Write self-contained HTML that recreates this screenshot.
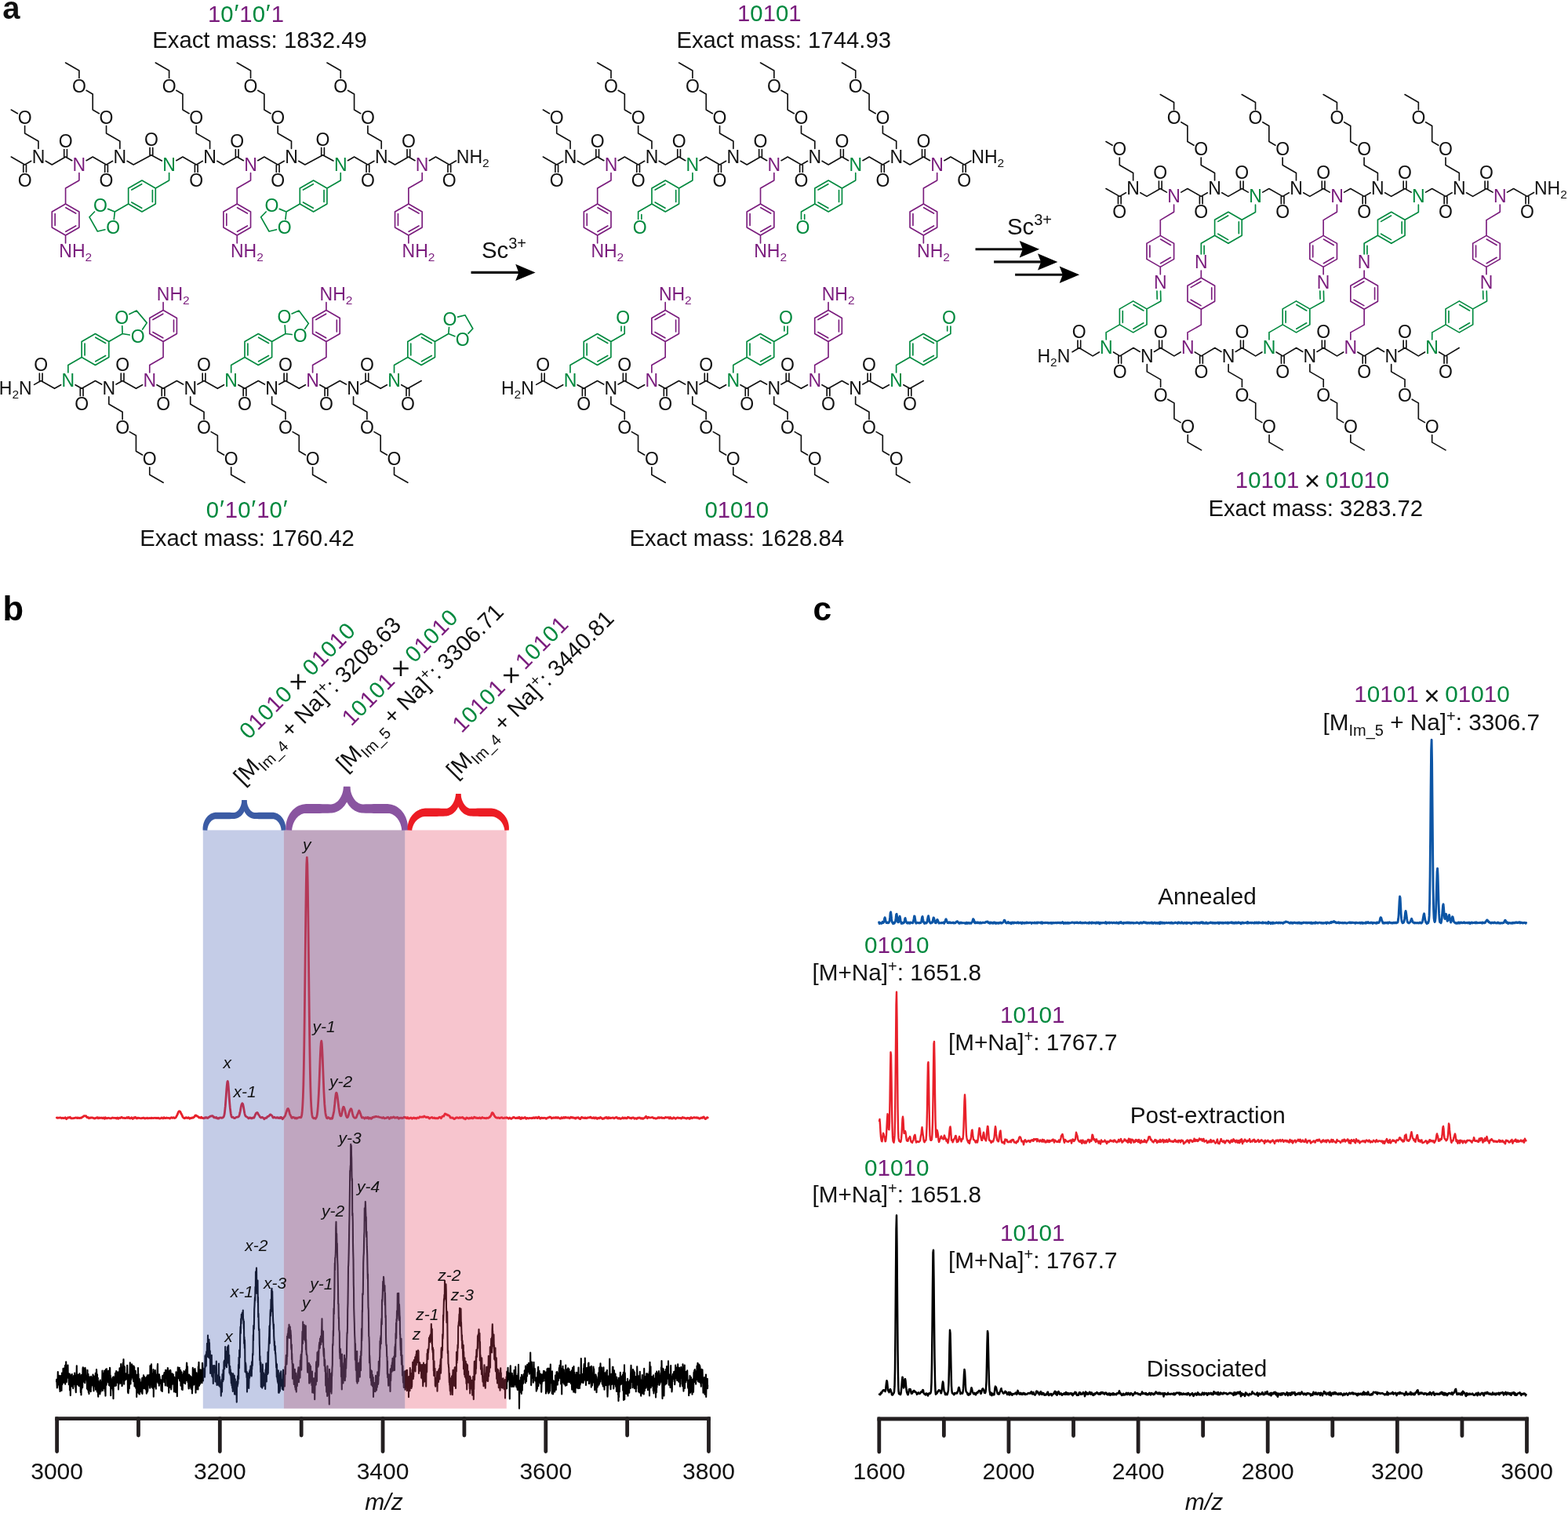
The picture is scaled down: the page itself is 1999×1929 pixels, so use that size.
<!DOCTYPE html>
<html><head><meta charset="utf-8"><title>Figure</title>
<style>
html,body{margin:0;padding:0;background:#fff;}
svg{display:block;}
text{font-family:"Liberation Sans",Arial,Helvetica,sans-serif;}
</style></head>
<body>
<svg width="1999" height="1929" viewBox="0 0 1999 1929">
<rect width="1999" height="1929" fill="#fff"/>
<g id="panel-a" fill="#111">
<path d="M14.30 200.00L31.62 210.00M31.62 210.00L39.76 205.30M58.12 205.30L66.26 210.00M66.26 210.00L83.58 200.00M83.58 200.00L91.72 204.70M110.08 204.70L118.22 200.00M118.22 200.00L135.54 210.00M135.54 210.00L143.68 205.30M162.04 205.30L170.18 210.00M170.18 210.00L192.90 197.80M192.90 197.80L206.28 204.99M224.80 204.70L232.94 200.00M232.94 200.00L250.26 210.00M250.26 210.00L258.40 205.30M276.76 205.30L284.90 210.00M284.90 210.00L302.22 200.00M302.22 200.00L310.36 204.70M328.72 204.70L336.86 200.00M336.86 200.00L354.18 210.00M354.18 210.00L362.32 205.30M380.68 205.30L388.82 210.00M388.82 210.00L411.54 197.80M411.54 197.80L424.92 204.99M443.44 204.70L451.58 200.00M451.58 200.00L468.90 210.00M468.90 210.00L477.04 205.30M495.40 205.30L503.54 210.00M503.54 210.00L520.86 200.00M520.86 200.00L529.00 204.70M547.36 204.70L555.50 200.00M555.50 200.00L572.82 210.00M572.82 210.00L581.48 205.00M29.77 210.00L29.77 219.40M33.47 210.00L33.47 219.40M85.43 200.00L85.43 190.60M81.73 200.00L81.73 190.60M133.69 210.00L133.69 219.40M137.39 210.00L137.39 219.40M194.75 197.80L194.75 188.40M191.05 197.80L191.05 188.40M248.41 210.00L248.41 219.40M252.11 210.00L252.11 219.40M304.07 200.00L304.07 190.60M300.37 200.00L300.37 190.60M352.33 210.00L352.33 219.40M356.03 210.00L356.03 219.40M413.39 197.80L413.39 188.40M409.69 197.80L409.69 188.40M467.05 210.00L467.05 219.40M470.75 210.00L470.75 219.40M522.71 200.00L522.71 190.60M519.01 200.00L519.01 190.60M570.97 210.00L570.97 219.40M574.67 210.00L574.67 219.40M48.94 189.40L48.94 180.00M48.94 180.00L31.62 170.00M31.62 170.00L31.62 160.60M22.44 144.70L14.30 140.00M152.86 189.40L152.86 180.00M152.86 180.00L135.54 170.00M135.54 170.00L135.54 160.60M126.36 144.70L118.22 140.00M118.22 140.00L118.22 120.00M118.22 120.00L110.08 115.30M100.90 99.40L100.90 90.00M100.90 90.00L83.58 80.00M267.58 189.40L267.58 180.00M267.58 180.00L250.26 170.00M250.26 170.00L250.26 160.60M241.08 144.70L232.94 140.00M232.94 140.00L232.94 120.00M232.94 120.00L224.80 115.30M215.62 99.40L215.62 90.00M215.62 90.00L198.30 80.00M371.50 189.40L371.50 180.00M371.50 180.00L354.18 170.00M354.18 170.00L354.18 160.60M345.00 144.70L336.86 140.00M336.86 140.00L336.86 120.00M336.86 120.00L328.72 115.30M319.54 99.40L319.54 90.00M319.54 90.00L302.22 80.00M486.22 189.40L486.22 180.00M486.22 180.00L468.90 170.00M468.90 170.00L468.90 160.60M459.72 144.70L451.58 140.00M451.58 140.00L451.58 120.00M451.58 120.00L443.44 115.30M434.26 99.40L434.26 90.00M434.26 90.00L416.94 80.00M692.40 200.00L709.72 210.00M709.72 210.00L717.86 205.30M736.22 205.30L744.36 210.00M744.36 210.00L761.68 200.00M761.68 200.00L769.82 204.70M788.18 204.70L796.32 200.00M796.32 200.00L813.64 210.00M813.64 210.00L821.78 205.30M840.14 205.30L848.28 210.00M848.28 210.00L865.60 200.00M865.60 200.00L873.74 204.70M892.10 204.70L900.24 200.00M900.24 200.00L917.56 210.00M917.56 210.00L925.70 205.30M944.06 205.30L952.20 210.00M952.20 210.00L969.52 200.00M969.52 200.00L977.66 204.70M996.02 204.70L1004.16 200.00M1004.16 200.00L1021.48 210.00M1021.48 210.00L1029.62 205.30M1047.98 205.30L1056.12 210.00M1056.12 210.00L1073.44 200.00M1073.44 200.00L1081.58 204.70M1099.94 204.70L1108.08 200.00M1108.08 200.00L1125.40 210.00M1125.40 210.00L1133.54 205.30M1151.90 205.30L1160.04 210.00M1160.04 210.00L1177.36 200.00M1177.36 200.00L1185.50 204.70M1203.86 204.70L1212.00 200.00M1212.00 200.00L1229.32 210.00M1229.32 210.00L1237.98 205.00M707.87 210.00L707.87 219.40M711.57 210.00L711.57 219.40M763.53 200.00L763.53 190.60M759.83 200.00L759.83 190.60M811.79 210.00L811.79 219.40M815.49 210.00L815.49 219.40M867.45 200.00L867.45 190.60M863.75 200.00L863.75 190.60M915.71 210.00L915.71 219.40M919.41 210.00L919.41 219.40M971.37 200.00L971.37 190.60M967.67 200.00L967.67 190.60M1019.63 210.00L1019.63 219.40M1023.33 210.00L1023.33 219.40M1075.29 200.00L1075.29 190.60M1071.59 200.00L1071.59 190.60M1123.55 210.00L1123.55 219.40M1127.25 210.00L1127.25 219.40M1179.21 200.00L1179.21 190.60M1175.51 200.00L1175.51 190.60M1227.47 210.00L1227.47 219.40M1231.17 210.00L1231.17 219.40M727.04 189.40L727.04 180.00M727.04 180.00L709.72 170.00M709.72 170.00L709.72 160.60M700.54 144.70L692.40 140.00M830.96 189.40L830.96 180.00M830.96 180.00L813.64 170.00M813.64 170.00L813.64 160.60M804.46 144.70L796.32 140.00M796.32 140.00L796.32 120.00M796.32 120.00L788.18 115.30M779.00 99.40L779.00 90.00M779.00 90.00L761.68 80.00M934.88 189.40L934.88 180.00M934.88 180.00L917.56 170.00M917.56 170.00L917.56 160.60M908.38 144.70L900.24 140.00M900.24 140.00L900.24 120.00M900.24 120.00L892.10 115.30M882.92 99.40L882.92 90.00M882.92 90.00L865.60 80.00M1038.80 189.40L1038.80 180.00M1038.80 180.00L1021.48 170.00M1021.48 170.00L1021.48 160.60M1012.30 144.70L1004.16 140.00M1004.16 140.00L1004.16 120.00M1004.16 120.00L996.02 115.30M986.84 99.40L986.84 90.00M986.84 90.00L969.52 80.00M1142.72 189.40L1142.72 180.00M1142.72 180.00L1125.40 170.00M1125.40 170.00L1125.40 160.60M1116.22 144.70L1108.08 140.00M1108.08 140.00L1108.08 120.00M1108.08 120.00L1099.94 115.30M1090.76 99.40L1090.76 90.00M1090.76 90.00L1073.44 80.00M43.58 490.38L52.20 485.50M52.20 485.50L69.52 495.30M69.52 495.30L77.61 490.72M96.07 490.72L104.16 495.30M104.16 495.30L121.48 485.50M121.48 485.50L129.57 490.08M148.03 490.08L156.12 485.50M156.12 485.50L173.44 495.30M173.44 495.30L181.53 490.72M199.99 490.72L208.08 495.30M208.08 495.30L225.40 485.50M225.40 485.50L233.49 490.08M251.95 490.08L260.04 485.50M260.04 485.50L277.36 495.30M277.36 495.30L285.45 490.72M303.91 490.72L312.00 495.30M312.00 495.30L329.32 485.50M329.32 485.50L337.41 490.08M355.87 490.08L363.96 485.50M363.96 485.50L381.28 495.30M381.28 495.30L389.37 490.72M407.83 490.72L415.92 495.30M415.92 495.30L433.24 485.50M433.24 485.50L441.33 490.08M459.79 490.08L467.88 485.50M467.88 485.50L485.20 495.30M485.20 495.30L493.29 490.72M511.75 490.72L519.84 495.30M519.84 495.30L537.16 485.50M54.05 485.50L54.05 476.10M50.35 485.50L50.35 476.10M102.31 495.30L102.31 504.70M106.01 495.30L106.01 504.70M157.97 485.50L157.97 476.10M154.27 485.50L154.27 476.10M206.23 495.30L206.23 504.70M209.93 495.30L209.93 504.70M261.89 485.50L261.89 476.10M258.19 485.50L258.19 476.10M310.15 495.30L310.15 504.70M313.85 495.30L313.85 504.70M365.81 485.50L365.81 476.10M362.11 485.50L362.11 476.10M414.07 495.30L414.07 504.70M417.77 495.30L417.77 504.70M469.73 485.50L469.73 476.10M466.03 485.50L466.03 476.10M517.99 495.30L517.99 504.70M521.69 495.30L521.69 504.70M138.80 505.90L138.80 515.30M138.80 515.30L156.12 525.30M156.12 525.30L156.12 534.70M165.30 550.60L173.44 555.30M173.44 555.30L173.44 575.30M173.44 575.30L181.58 580.00M190.76 595.90L190.76 605.30M190.76 605.30L208.08 615.30M242.72 505.90L242.72 515.30M242.72 515.30L260.04 525.30M260.04 525.30L260.04 534.70M269.22 550.60L277.36 555.30M277.36 555.30L277.36 575.30M277.36 575.30L285.50 580.00M294.68 595.90L294.68 605.30M294.68 605.30L312.00 615.30M346.64 505.90L346.64 515.30M346.64 515.30L363.96 525.30M363.96 525.30L363.96 534.70M373.14 550.60L381.28 555.30M381.28 555.30L381.28 575.30M381.28 575.30L389.42 580.00M398.60 595.90L398.60 605.30M398.60 605.30L415.92 615.30M450.56 505.90L450.56 515.30M450.56 515.30L467.88 525.30M467.88 525.30L467.88 534.70M477.06 550.60L485.20 555.30M485.20 555.30L485.20 575.30M485.20 575.30L493.34 580.00M502.52 595.90L502.52 605.30M502.52 605.30L519.84 615.30M683.68 490.38L692.30 485.50M692.30 485.50L709.62 495.30M709.62 495.30L717.71 490.72M736.17 490.72L744.26 495.30M744.26 495.30L761.58 485.50M761.58 485.50L769.67 490.08M788.13 490.08L796.22 485.50M796.22 485.50L813.54 495.30M813.54 495.30L821.63 490.72M840.09 490.72L848.18 495.30M848.18 495.30L865.50 485.50M865.50 485.50L873.59 490.08M892.05 490.08L900.14 485.50M900.14 485.50L917.46 495.30M917.46 495.30L925.55 490.72M944.01 490.72L952.10 495.30M952.10 495.30L969.42 485.50M969.42 485.50L977.51 490.08M995.97 490.08L1004.06 485.50M1004.06 485.50L1021.38 495.30M1021.38 495.30L1029.47 490.72M1047.93 490.72L1056.02 495.30M1056.02 495.30L1073.34 485.50M1073.34 485.50L1081.43 490.08M1099.89 490.08L1107.98 485.50M1107.98 485.50L1125.30 495.30M1125.30 495.30L1133.39 490.72M1151.85 490.72L1159.94 495.30M1159.94 495.30L1177.26 485.50M694.15 485.50L694.15 476.10M690.45 485.50L690.45 476.10M742.41 495.30L742.41 504.70M746.11 495.30L746.11 504.70M798.07 485.50L798.07 476.10M794.37 485.50L794.37 476.10M846.33 495.30L846.33 504.70M850.03 495.30L850.03 504.70M901.99 485.50L901.99 476.10M898.29 485.50L898.29 476.10M950.25 495.30L950.25 504.70M953.95 495.30L953.95 504.70M1005.91 485.50L1005.91 476.10M1002.21 485.50L1002.21 476.10M1054.17 495.30L1054.17 504.70M1057.87 495.30L1057.87 504.70M1109.83 485.50L1109.83 476.10M1106.13 485.50L1106.13 476.10M1158.09 495.30L1158.09 504.70M1161.79 495.30L1161.79 504.70M778.90 505.90L778.90 515.30M778.90 515.30L796.22 525.30M796.22 525.30L796.22 534.70M805.40 550.60L813.54 555.30M813.54 555.30L813.54 575.30M813.54 575.30L821.68 580.00M830.86 595.90L830.86 605.30M830.86 605.30L848.18 615.30M882.82 505.90L882.82 515.30M882.82 515.30L900.14 525.30M900.14 525.30L900.14 534.70M909.32 550.60L917.46 555.30M917.46 555.30L917.46 575.30M917.46 575.30L925.60 580.00M934.78 595.90L934.78 605.30M934.78 605.30L952.10 615.30M986.74 505.90L986.74 515.30M986.74 515.30L1004.06 525.30M1004.06 525.30L1004.06 534.70M1013.24 550.60L1021.38 555.30M1021.38 555.30L1021.38 575.30M1021.38 575.30L1029.52 580.00M1038.70 595.90L1038.70 605.30M1038.70 605.30L1056.02 615.30M1090.66 505.90L1090.66 515.30M1090.66 515.30L1107.98 525.30M1107.98 525.30L1107.98 534.70M1117.16 550.60L1125.30 555.30M1125.30 555.30L1125.30 575.30M1125.30 575.30L1133.44 580.00M1142.62 595.90L1142.62 605.30M1142.62 605.30L1159.94 615.30M1410.00 240.50L1427.32 250.40M1427.32 250.40L1435.44 245.76M1453.84 245.76L1461.96 250.40M1461.96 250.40L1479.28 240.50M1479.28 240.50L1487.40 245.14M1505.80 245.14L1513.92 240.50M1513.92 240.50L1531.24 250.40M1531.24 250.40L1539.36 245.76M1557.76 245.76L1565.88 250.40M1565.88 250.40L1583.20 240.50M1583.20 240.50L1591.32 245.14M1609.72 245.14L1617.84 240.50M1617.84 240.50L1635.16 250.40M1635.16 250.40L1643.28 245.76M1661.68 245.76L1669.80 250.40M1669.80 250.40L1687.12 240.50M1687.12 240.50L1695.24 245.14M1713.64 245.14L1721.76 240.50M1721.76 240.50L1739.08 250.40M1739.08 250.40L1747.20 245.76M1765.60 245.76L1773.72 250.40M1773.72 250.40L1791.04 240.50M1791.04 240.50L1799.16 245.14M1817.56 245.14L1825.68 240.50M1825.68 240.50L1843.00 250.40M1843.00 250.40L1851.12 245.76M1869.52 245.76L1877.64 250.40M1877.64 250.40L1894.96 240.50M1894.96 240.50L1903.08 245.14M1921.48 245.14L1929.60 240.50M1929.60 240.50L1946.92 250.40M1946.92 250.40L1955.56 245.46M1425.47 250.40L1425.47 259.80M1429.17 250.40L1429.17 259.80M1481.13 240.50L1481.13 231.10M1477.43 240.50L1477.43 231.10M1529.39 250.40L1529.39 259.80M1533.09 250.40L1533.09 259.80M1585.05 240.50L1585.05 231.10M1581.35 240.50L1581.35 231.10M1633.31 250.40L1633.31 259.80M1637.01 250.40L1637.01 259.80M1688.97 240.50L1688.97 231.10M1685.27 240.50L1685.27 231.10M1737.23 250.40L1737.23 259.80M1740.93 250.40L1740.93 259.80M1792.89 240.50L1792.89 231.10M1789.19 240.50L1789.19 231.10M1841.15 250.40L1841.15 259.80M1844.85 250.40L1844.85 259.80M1896.81 240.50L1896.81 231.10M1893.11 240.50L1893.11 231.10M1945.07 250.40L1945.07 259.80M1948.77 250.40L1948.77 259.80M1367.07 448.75L1375.80 443.50M1375.80 443.50L1393.10 453.90M1393.10 453.90L1401.32 448.96M1419.48 448.96L1427.70 453.90M1427.70 453.90L1445.00 443.50M1445.00 443.50L1453.22 448.44M1471.38 448.44L1479.60 443.50M1479.60 443.50L1496.90 453.90M1496.90 453.90L1505.12 448.96M1523.28 448.96L1531.50 453.90M1531.50 453.90L1548.80 443.50M1548.80 443.50L1557.02 448.44M1575.18 448.44L1583.40 443.50M1583.40 443.50L1600.70 453.90M1600.70 453.90L1608.92 448.96M1627.08 448.96L1635.30 453.90M1635.30 453.90L1652.60 443.50M1652.60 443.50L1660.82 448.44M1678.98 448.44L1687.20 443.50M1687.20 443.50L1704.50 453.90M1704.50 453.90L1712.72 448.96M1730.88 448.96L1739.10 453.90M1739.10 453.90L1756.40 443.50M1756.40 443.50L1764.62 448.44M1782.78 448.44L1791.00 443.50M1791.00 443.50L1808.30 453.90M1808.30 453.90L1816.52 448.96M1834.68 448.96L1842.90 453.90M1842.90 453.90L1860.20 443.50M1377.65 443.50L1377.65 434.10M1373.95 443.50L1373.95 434.10M1425.85 453.90L1425.85 463.30M1429.55 453.90L1429.55 463.30M1481.45 443.50L1481.45 434.10M1477.75 443.50L1477.75 434.10M1529.65 453.90L1529.65 463.30M1533.35 453.90L1533.35 463.30M1585.25 443.50L1585.25 434.10M1581.55 443.50L1581.55 434.10M1633.45 453.90L1633.45 463.30M1637.15 453.90L1637.15 463.30M1689.05 443.50L1689.05 434.10M1685.35 443.50L1685.35 434.10M1737.25 453.90L1737.25 463.30M1740.95 453.90L1740.95 463.30M1792.85 443.50L1792.85 434.10M1789.15 443.50L1789.15 434.10M1841.05 453.90L1841.05 463.30M1844.75 453.90L1844.75 463.30M1444.64 229.90L1444.64 220.50M1444.64 220.50L1427.32 210.50M1427.32 210.50L1427.32 201.10M1418.14 185.20L1410.00 180.50M1548.56 229.90L1548.56 220.50M1548.56 220.50L1531.24 210.50M1531.24 210.50L1531.24 201.10M1522.06 185.20L1513.92 180.50M1513.92 180.50L1513.92 160.50M1513.92 160.50L1505.78 155.80M1496.60 139.90L1496.60 130.50M1496.60 130.50L1479.28 120.50M1652.48 229.90L1652.48 220.50M1652.48 220.50L1635.16 210.50M1635.16 210.50L1635.16 201.10M1625.98 185.20L1617.84 180.50M1617.84 180.50L1617.84 160.50M1617.84 160.50L1609.70 155.80M1600.52 139.90L1600.52 130.50M1600.52 130.50L1583.20 120.50M1756.40 229.90L1756.40 220.50M1756.40 220.50L1739.08 210.50M1739.08 210.50L1739.08 201.10M1729.90 185.20L1721.76 180.50M1721.76 180.50L1721.76 160.50M1721.76 160.50L1713.62 155.80M1704.44 139.90L1704.44 130.50M1704.44 130.50L1687.12 120.50M1860.32 229.90L1860.32 220.50M1860.32 220.50L1843.00 210.50M1843.00 210.50L1843.00 201.10M1833.82 185.20L1825.68 180.50M1825.68 180.50L1825.68 160.50M1825.68 160.50L1817.54 155.80M1808.36 139.90L1808.36 130.50M1808.36 130.50L1791.04 120.50M1462.30 464.50L1462.30 473.90M1462.30 473.90L1479.62 483.90M1479.62 483.90L1479.62 493.30M1488.80 509.20L1496.94 513.90M1496.94 513.90L1496.94 533.90M1496.94 533.90L1505.08 538.60M1514.26 554.50L1514.26 563.90M1514.26 563.90L1531.58 573.90M1566.10 464.50L1566.10 473.90M1566.10 473.90L1583.42 483.90M1583.42 483.90L1583.42 493.30M1592.60 509.20L1600.74 513.90M1600.74 513.90L1600.74 533.90M1600.74 533.90L1608.88 538.60M1618.06 554.50L1618.06 563.90M1618.06 563.90L1635.38 573.90M1669.90 464.50L1669.90 473.90M1669.90 473.90L1687.22 483.90M1687.22 483.90L1687.22 493.30M1696.40 509.20L1704.54 513.90M1704.54 513.90L1704.54 533.90M1704.54 533.90L1712.68 538.60M1721.86 554.50L1721.86 563.90M1721.86 563.90L1739.18 573.90M1773.70 464.50L1773.70 473.90M1773.70 473.90L1791.02 483.90M1791.02 483.90L1791.02 493.30M1800.20 509.20L1808.34 513.90M1808.34 513.90L1808.34 533.90M1808.34 533.90L1816.48 538.60M1825.66 554.50L1825.66 563.90M1825.66 563.90L1842.98 573.90" stroke="#111111" stroke-width="1.65" fill="none" stroke-linecap="round"/>
<path d="M100.90 220.60L100.90 230.00M100.90 230.00L83.58 240.00M83.58 260.00L100.90 270.00M83.88 264.68L96.70 272.08M100.90 270.00L100.90 290.00M100.90 290.00L83.58 300.00M96.70 287.92L83.88 295.32M83.58 300.00L66.26 290.00M66.26 290.00L66.26 270.00M70.16 287.40L70.16 272.60M66.26 270.00L83.58 260.00M83.58 240.00L83.58 260.00M83.58 300.00L83.58 310.00M319.54 220.60L319.54 230.00M319.54 230.00L302.22 240.00M302.22 260.00L319.54 270.00M302.52 264.68L315.34 272.08M319.54 270.00L319.54 290.00M319.54 290.00L302.22 300.00M315.34 287.92L302.52 295.32M302.22 300.00L284.90 290.00M284.90 290.00L284.90 270.00M288.80 287.40L288.80 272.60M284.90 270.00L302.22 260.00M302.22 240.00L302.22 260.00M302.22 300.00L302.22 310.00M538.18 220.60L538.18 230.00M538.18 230.00L520.86 240.00M520.86 260.00L538.18 270.00M521.16 264.68L533.98 272.08M538.18 270.00L538.18 290.00M538.18 290.00L520.86 300.00M533.98 287.92L521.16 295.32M520.86 300.00L503.54 290.00M503.54 290.00L503.54 270.00M507.44 287.40L507.44 272.60M503.54 270.00L520.86 260.00M520.86 240.00L520.86 260.00M520.86 300.00L520.86 310.00M779.00 220.60L779.00 230.00M779.00 230.00L761.68 240.00M761.68 260.00L779.00 270.00M761.98 264.68L774.80 272.08M779.00 270.00L779.00 290.00M779.00 290.00L761.68 300.00M774.80 287.92L761.98 295.32M761.68 300.00L744.36 290.00M744.36 290.00L744.36 270.00M748.26 287.40L748.26 272.60M744.36 270.00L761.68 260.00M761.68 240.00L761.68 260.00M761.68 300.00L761.68 310.00M986.84 220.60L986.84 230.00M986.84 230.00L969.52 240.00M969.52 260.00L986.84 270.00M969.82 264.68L982.64 272.08M986.84 270.00L986.84 290.00M986.84 290.00L969.52 300.00M982.64 287.92L969.82 295.32M969.52 300.00L952.20 290.00M952.20 290.00L952.20 270.00M956.10 287.40L956.10 272.60M952.20 270.00L969.52 260.00M969.52 240.00L969.52 260.00M969.52 300.00L969.52 310.00M1194.68 220.60L1194.68 230.00M1194.68 230.00L1177.36 240.00M1177.36 260.00L1194.68 270.00M1177.66 264.68L1190.48 272.08M1194.68 270.00L1194.68 290.00M1194.68 290.00L1177.36 300.00M1190.48 287.92L1177.66 295.32M1177.36 300.00L1160.04 290.00M1160.04 290.00L1160.04 270.00M1163.94 287.40L1163.94 272.60M1160.04 270.00L1177.36 260.00M1177.36 240.00L1177.36 260.00M1177.36 300.00L1177.36 310.00M190.76 474.90L190.76 465.50M190.76 465.50L208.08 455.50M208.08 395.50L225.40 405.50M225.40 405.50L225.40 425.50M221.50 408.10L221.50 422.90M225.40 425.50L208.08 435.50M208.08 435.50L190.76 425.50M207.78 430.82L194.96 423.42M190.76 425.50L190.76 405.50M190.76 405.50L208.08 395.50M194.96 407.58L207.78 400.18M208.08 455.50L208.08 435.50M208.08 395.50L208.08 385.50M398.60 474.90L398.60 465.50M398.60 465.50L415.92 455.50M415.92 395.50L433.24 405.50M433.24 405.50L433.24 425.50M429.34 408.10L429.34 422.90M433.24 425.50L415.92 435.50M415.92 435.50L398.60 425.50M415.62 430.82L402.80 423.42M398.60 425.50L398.60 405.50M398.60 405.50L415.92 395.50M402.80 407.58L415.62 400.18M415.92 455.50L415.92 435.50M415.92 395.50L415.92 385.50M830.86 474.90L830.86 465.50M830.86 465.50L848.18 455.50M848.18 395.50L865.50 405.50M865.50 405.50L865.50 425.50M861.60 408.10L861.60 422.90M865.50 425.50L848.18 435.50M848.18 435.50L830.86 425.50M847.88 430.82L835.06 423.42M830.86 425.50L830.86 405.50M830.86 405.50L848.18 395.50M835.06 407.58L847.88 400.18M848.18 455.50L848.18 435.50M848.18 395.50L848.18 385.50M1038.70 474.90L1038.70 465.50M1038.70 465.50L1056.02 455.50M1056.02 395.50L1073.34 405.50M1073.34 405.50L1073.34 425.50M1069.44 408.10L1069.44 422.90M1073.34 425.50L1056.02 435.50M1056.02 435.50L1038.70 425.50M1055.72 430.82L1042.90 423.42M1038.70 425.50L1038.70 405.50M1038.70 405.50L1056.02 395.50M1042.90 407.58L1055.72 400.18M1056.02 455.50L1056.02 435.50M1056.02 395.50L1056.02 385.50M1496.60 261.00L1496.60 270.20M1496.60 270.20L1479.30 280.60M1479.30 300.40L1496.62 310.40M1479.60 305.08L1492.42 312.48M1496.62 310.40L1496.62 330.40M1496.62 330.40L1479.30 340.40M1492.42 328.32L1479.60 335.72M1479.30 340.40L1461.98 330.40M1461.98 330.40L1461.98 310.40M1465.88 327.80L1465.88 313.00M1461.98 310.40L1479.30 300.40M1479.30 280.60L1479.30 300.40M1479.30 340.40L1479.30 349.80M1531.32 354.30L1548.64 364.30M1548.64 364.30L1548.64 384.30M1544.74 366.90L1544.74 381.70M1548.64 384.30L1531.32 394.30M1531.32 394.30L1514.00 384.30M1531.02 389.62L1518.20 382.22M1514.00 384.30L1514.00 364.30M1514.00 364.30L1531.32 354.30M1518.20 366.38L1531.02 358.98M1531.32 345.10L1531.32 354.30M1531.32 394.30L1531.32 414.10M1531.32 414.10L1514.02 423.90M1514.02 423.90L1514.10 432.90M1704.44 261.00L1704.44 270.20M1704.44 270.20L1687.14 280.60M1687.14 300.40L1704.46 310.40M1687.44 305.08L1700.26 312.48M1704.46 310.40L1704.46 330.40M1704.46 330.40L1687.14 340.40M1700.26 328.32L1687.44 335.72M1687.14 340.40L1669.82 330.40M1669.82 330.40L1669.82 310.40M1673.72 327.80L1673.72 313.00M1669.82 310.40L1687.14 300.40M1687.14 280.60L1687.14 300.40M1687.14 340.40L1687.14 349.80M1739.16 354.30L1756.48 364.30M1756.48 364.30L1756.48 384.30M1752.58 366.90L1752.58 381.70M1756.48 384.30L1739.16 394.30M1739.16 394.30L1721.84 384.30M1738.86 389.62L1726.04 382.22M1721.84 384.30L1721.84 364.30M1721.84 364.30L1739.16 354.30M1726.04 366.38L1738.86 358.98M1739.16 345.10L1739.16 354.30M1739.16 394.30L1739.16 414.10M1739.16 414.10L1721.86 423.90M1721.86 423.90L1721.83 432.90M1912.28 261.00L1912.28 270.20M1912.28 270.20L1894.98 280.60M1894.98 300.40L1912.30 310.40M1895.28 305.08L1908.10 312.48M1912.30 310.40L1912.30 330.40M1912.30 330.40L1894.98 340.40M1908.10 328.32L1895.28 335.72M1894.98 340.40L1877.66 330.40M1877.66 330.40L1877.66 310.40M1881.56 327.80L1881.56 313.00M1877.66 310.40L1894.98 300.40M1894.98 280.60L1894.98 300.40M1894.98 340.40L1894.98 349.80" stroke="#7a1c7d" stroke-width="1.65" fill="none" stroke-linecap="round"/>
<path d="M215.62 220.60L215.62 230.00M180.98 230.00L198.30 240.00M198.30 240.00L198.30 260.00M194.40 242.60L194.40 257.40M198.30 260.00L180.98 270.00M180.98 270.00L163.66 260.00M180.68 265.32L167.86 257.92M163.66 260.00L163.66 240.00M163.66 240.00L180.98 230.00M167.86 242.08L180.68 234.68M215.62 230.00L198.30 240.00M163.66 260.00L146.34 270.00M146.34 270.00L137.63 266.37M120.53 269.98L114.04 276.80M114.04 276.80L124.34 295.00M124.34 295.00L133.84 292.70M145.29 279.66L146.34 270.00M434.26 220.60L434.26 230.00M399.62 230.00L416.94 240.00M416.94 240.00L416.94 260.00M413.04 242.60L413.04 257.40M416.94 260.00L399.62 270.00M399.62 270.00L382.30 260.00M399.32 265.32L386.50 257.92M382.30 260.00L382.30 240.00M382.30 240.00L399.62 230.00M386.50 242.08L399.32 234.68M434.26 230.00L416.94 240.00M382.30 260.00L364.98 270.00M364.98 270.00L356.27 266.37M339.17 269.98L332.68 276.80M332.68 276.80L342.98 295.00M342.98 295.00L352.48 292.70M363.93 279.66L364.98 270.00M882.92 220.60L882.92 230.00M848.28 230.00L865.60 240.00M865.60 240.00L865.60 260.00M861.70 242.60L861.70 257.40M865.60 260.00L848.28 270.00M848.28 270.00L830.96 260.00M847.98 265.32L835.16 257.92M830.96 260.00L830.96 240.00M830.96 240.00L848.28 230.00M835.16 242.08L847.98 234.68M882.92 230.00L865.60 240.00M830.96 260.00L813.64 270.00M813.64 270.00L813.64 279.40M817.84 273.50L817.84 279.40M1090.76 220.60L1090.76 230.00M1056.12 230.00L1073.44 240.00M1073.44 240.00L1073.44 260.00M1069.54 242.60L1069.54 257.40M1073.44 260.00L1056.12 270.00M1056.12 270.00L1038.80 260.00M1055.82 265.32L1043.00 257.92M1038.80 260.00L1038.80 240.00M1038.80 240.00L1056.12 230.00M1043.00 242.08L1055.82 234.68M1090.76 230.00L1073.44 240.00M1038.80 260.00L1021.48 270.00M1021.48 270.00L1021.48 279.40M1025.68 273.50L1025.68 279.40M86.84 474.90L86.84 465.50M121.48 425.50L138.80 435.50M121.78 430.18L134.60 437.58M138.80 435.50L138.80 455.50M138.80 455.50L121.48 465.50M134.60 453.42L121.78 460.82M121.48 465.50L104.16 455.50M104.16 455.50L104.16 435.50M108.06 452.90L108.06 438.10M104.16 435.50L121.48 425.50M86.84 465.50L104.16 455.50M138.80 435.50L156.12 425.50M156.12 425.50L155.74 415.69M164.88 400.52L174.12 396.10M174.12 396.10L187.22 411.60M187.22 411.60L181.61 419.99M165.27 427.04L156.12 425.50M294.68 474.90L294.68 465.50M329.32 425.50L346.64 435.50M329.62 430.18L342.44 437.58M346.64 435.50L346.64 455.50M346.64 455.50L329.32 465.50M342.44 453.42L329.62 460.82M329.32 465.50L312.00 455.50M312.00 455.50L312.00 435.50M315.90 452.90L315.90 438.10M312.00 435.50L329.32 425.50M294.68 465.50L312.00 455.50M346.64 435.50L363.96 425.50M363.96 425.50L363.15 414.77M372.09 399.99L381.06 396.10M381.06 396.10L393.36 412.40M393.36 412.40L388.68 419.18M372.15 426.55L363.96 425.50M502.52 474.90L502.52 465.50M537.16 425.50L554.48 435.50M537.46 430.18L550.28 437.58M554.48 435.50L554.48 455.50M554.48 455.50L537.16 465.50M550.28 453.42L537.46 460.82M537.16 465.50L519.84 455.50M519.84 455.50L519.84 435.50M523.74 452.90L523.74 438.10M519.84 435.50L537.16 425.50M502.52 465.50L519.84 455.50M554.48 435.50L571.80 425.50M571.80 425.50L572.50 417.26M583.68 404.13L593.00 401.80M593.00 401.80L602.80 419.00M602.80 419.00L597.00 425.11M579.88 428.80L571.80 425.50M726.94 474.90L726.94 465.50M761.58 425.50L778.90 435.50M761.88 430.18L774.70 437.58M778.90 435.50L778.90 455.50M778.90 455.50L761.58 465.50M774.70 453.42L761.88 460.82M761.58 465.50L744.26 455.50M744.26 455.50L744.26 435.50M748.16 452.90L748.16 438.10M744.26 435.50L761.58 425.50M726.94 465.50L744.26 455.50M778.90 435.50L796.22 425.50M796.22 425.50L796.22 416.10M792.02 422.00L792.02 416.10M934.78 474.90L934.78 465.50M969.42 425.50L986.74 435.50M969.72 430.18L982.54 437.58M986.74 435.50L986.74 455.50M986.74 455.50L969.42 465.50M982.54 453.42L969.72 460.82M969.42 465.50L952.10 455.50M952.10 455.50L952.10 435.50M956.00 452.90L956.00 438.10M952.10 435.50L969.42 425.50M934.78 465.50L952.10 455.50M986.74 435.50L1004.06 425.50M1004.06 425.50L1004.06 416.10M999.86 422.00L999.86 416.10M1142.62 474.90L1142.62 465.50M1177.26 425.50L1194.58 435.50M1177.56 430.18L1190.38 437.58M1194.58 435.50L1194.58 455.50M1194.58 455.50L1177.26 465.50M1190.38 453.42L1177.56 460.82M1177.26 465.50L1159.94 455.50M1159.94 455.50L1159.94 435.50M1163.84 452.90L1163.84 438.10M1159.94 435.50L1177.26 425.50M1142.62 465.50L1159.94 455.50M1194.58 435.50L1211.90 425.50M1211.90 425.50L1211.90 416.10M1207.70 422.00L1207.70 416.10M1479.57 371.00L1479.90 384.00M1474.97 371.11L1475.23 381.12M1444.70 383.90L1462.02 393.90M1445.00 388.58L1457.82 395.98M1462.02 393.90L1462.02 413.90M1462.02 413.90L1444.70 423.90M1457.82 411.82L1445.00 419.22M1444.70 423.90L1427.38 413.90M1427.38 413.90L1427.38 393.90M1431.28 411.30L1431.28 396.50M1427.38 393.90L1444.70 383.90M1479.90 384.00L1462.02 393.90M1427.38 413.90L1410.10 423.90M1410.10 423.90L1410.24 432.90M1600.52 261.00L1600.52 270.50M1565.92 270.30L1583.24 280.30M1583.24 280.30L1583.24 300.30M1579.34 282.90L1579.34 297.70M1583.24 300.30L1565.92 310.30M1565.92 310.30L1548.60 300.30M1565.62 305.62L1552.80 298.22M1548.60 300.30L1548.60 280.30M1548.60 280.30L1565.92 270.30M1552.80 282.38L1565.62 274.98M1600.52 270.50L1583.24 280.30M1548.60 300.30L1531.32 310.30M1531.32 310.30L1531.32 323.90M1535.12 313.30L1535.12 323.90M1687.41 371.00L1687.74 384.00M1682.81 371.11L1683.07 381.12M1652.54 383.90L1669.86 393.90M1652.84 388.58L1665.66 395.98M1669.86 393.90L1669.86 413.90M1669.86 413.90L1652.54 423.90M1665.66 411.82L1652.84 419.22M1652.54 423.90L1635.22 413.90M1635.22 413.90L1635.22 393.90M1639.12 411.30L1639.12 396.50M1635.22 393.90L1652.54 383.90M1687.74 384.00L1669.86 393.90M1635.22 413.90L1617.94 423.90M1617.94 423.90L1617.97 432.90M1808.36 261.00L1808.36 270.50M1773.76 270.30L1791.08 280.30M1791.08 280.30L1791.08 300.30M1787.18 282.90L1787.18 297.70M1791.08 300.30L1773.76 310.30M1773.76 310.30L1756.44 300.30M1773.46 305.62L1760.64 298.22M1756.44 300.30L1756.44 280.30M1756.44 280.30L1773.76 270.30M1760.64 282.38L1773.46 274.98M1808.36 270.50L1791.08 280.30M1756.44 300.30L1739.16 310.30M1739.16 310.30L1739.16 323.90M1742.96 313.30L1742.96 323.90M1895.25 371.00L1895.58 384.00M1890.65 371.11L1890.91 381.12M1860.38 383.90L1877.70 393.90M1860.68 388.58L1873.50 395.98M1877.70 393.90L1877.70 413.90M1877.70 413.90L1860.38 423.90M1873.50 411.82L1860.68 419.22M1860.38 423.90L1843.06 413.90M1843.06 413.90L1843.06 393.90M1846.96 411.30L1846.96 396.50M1843.06 393.90L1860.38 383.90M1895.58 384.00L1877.70 393.90M1843.06 413.90L1825.78 423.90M1825.78 423.90L1825.70 432.90" stroke="#00893e" stroke-width="1.65" fill="none" stroke-linecap="round"/>
<g font-size="23.0"><text x="48.94" y="207.94" fill="#111111" text-anchor="middle">N</text><text x="100.90" y="217.94" fill="#7a1c7d" text-anchor="middle">N</text><text x="152.86" y="207.94" fill="#111111" text-anchor="middle">N</text><text x="215.62" y="217.94" fill="#00893e" text-anchor="middle">N</text><text x="267.58" y="207.94" fill="#111111" text-anchor="middle">N</text><text x="319.54" y="217.94" fill="#7a1c7d" text-anchor="middle">N</text><text x="371.50" y="207.94" fill="#111111" text-anchor="middle">N</text><text x="434.26" y="217.94" fill="#00893e" text-anchor="middle">N</text><text x="486.22" y="207.94" fill="#111111" text-anchor="middle">N</text><text x="538.18" y="217.94" fill="#7a1c7d" text-anchor="middle">N</text><text x="581.84" y="207.94" fill="#111111">NH<tspan font-size="15.5" dy="5">2</tspan></text><text x="31.62" y="237.94" fill="#111111" text-anchor="middle">O</text><text x="83.58" y="187.94" fill="#111111" text-anchor="middle">O</text><text x="135.54" y="237.94" fill="#111111" text-anchor="middle">O</text><text x="192.90" y="185.74" fill="#111111" text-anchor="middle">O</text><text x="250.26" y="237.94" fill="#111111" text-anchor="middle">O</text><text x="302.22" y="187.94" fill="#111111" text-anchor="middle">O</text><text x="354.18" y="237.94" fill="#111111" text-anchor="middle">O</text><text x="411.54" y="185.74" fill="#111111" text-anchor="middle">O</text><text x="468.90" y="237.94" fill="#111111" text-anchor="middle">O</text><text x="520.86" y="187.94" fill="#111111" text-anchor="middle">O</text><text x="572.82" y="237.94" fill="#111111" text-anchor="middle">O</text><text x="31.62" y="157.94" fill="#111111" text-anchor="middle">O</text><text x="75.28" y="327.94" fill="#7a1c7d">NH<tspan font-size="15.5" dy="5">2</tspan></text><text x="135.54" y="157.94" fill="#111111" text-anchor="middle">O</text><text x="100.90" y="117.94" fill="#111111" text-anchor="middle">O</text><text x="127.84" y="270.24" fill="#00893e" text-anchor="middle">O</text><text x="144.14" y="298.13" fill="#00893e" text-anchor="middle">O</text><text x="250.26" y="157.94" fill="#111111" text-anchor="middle">O</text><text x="215.62" y="117.94" fill="#111111" text-anchor="middle">O</text><text x="293.92" y="327.94" fill="#7a1c7d">NH<tspan font-size="15.5" dy="5">2</tspan></text><text x="354.18" y="157.94" fill="#111111" text-anchor="middle">O</text><text x="319.54" y="117.94" fill="#111111" text-anchor="middle">O</text><text x="346.48" y="270.24" fill="#00893e" text-anchor="middle">O</text><text x="362.78" y="298.13" fill="#00893e" text-anchor="middle">O</text><text x="468.90" y="157.94" fill="#111111" text-anchor="middle">O</text><text x="434.26" y="117.94" fill="#111111" text-anchor="middle">O</text><text x="512.56" y="327.94" fill="#7a1c7d">NH<tspan font-size="15.5" dy="5">2</tspan></text><text x="727.04" y="207.94" fill="#111111" text-anchor="middle">N</text><text x="779.00" y="217.94" fill="#7a1c7d" text-anchor="middle">N</text><text x="830.96" y="207.94" fill="#111111" text-anchor="middle">N</text><text x="882.92" y="217.94" fill="#00893e" text-anchor="middle">N</text><text x="934.88" y="207.94" fill="#111111" text-anchor="middle">N</text><text x="986.84" y="217.94" fill="#7a1c7d" text-anchor="middle">N</text><text x="1038.80" y="207.94" fill="#111111" text-anchor="middle">N</text><text x="1090.76" y="217.94" fill="#00893e" text-anchor="middle">N</text><text x="1142.72" y="207.94" fill="#111111" text-anchor="middle">N</text><text x="1194.68" y="217.94" fill="#7a1c7d" text-anchor="middle">N</text><text x="1238.34" y="207.94" fill="#111111">NH<tspan font-size="15.5" dy="5">2</tspan></text><text x="709.72" y="237.94" fill="#111111" text-anchor="middle">O</text><text x="761.68" y="187.94" fill="#111111" text-anchor="middle">O</text><text x="813.64" y="237.94" fill="#111111" text-anchor="middle">O</text><text x="865.60" y="187.94" fill="#111111" text-anchor="middle">O</text><text x="917.56" y="237.94" fill="#111111" text-anchor="middle">O</text><text x="969.52" y="187.94" fill="#111111" text-anchor="middle">O</text><text x="1021.48" y="237.94" fill="#111111" text-anchor="middle">O</text><text x="1073.44" y="187.94" fill="#111111" text-anchor="middle">O</text><text x="1125.40" y="237.94" fill="#111111" text-anchor="middle">O</text><text x="1177.36" y="187.94" fill="#111111" text-anchor="middle">O</text><text x="1229.32" y="237.94" fill="#111111" text-anchor="middle">O</text><text x="709.72" y="157.94" fill="#111111" text-anchor="middle">O</text><text x="753.38" y="327.94" fill="#7a1c7d">NH<tspan font-size="15.5" dy="5">2</tspan></text><text x="813.64" y="157.94" fill="#111111" text-anchor="middle">O</text><text x="779.00" y="117.94" fill="#111111" text-anchor="middle">O</text><text x="815.64" y="297.94" fill="#00893e" text-anchor="middle">O</text><text x="917.56" y="157.94" fill="#111111" text-anchor="middle">O</text><text x="882.92" y="117.94" fill="#111111" text-anchor="middle">O</text><text x="961.22" y="327.94" fill="#7a1c7d">NH<tspan font-size="15.5" dy="5">2</tspan></text><text x="1021.48" y="157.94" fill="#111111" text-anchor="middle">O</text><text x="986.84" y="117.94" fill="#111111" text-anchor="middle">O</text><text x="1023.48" y="297.94" fill="#00893e" text-anchor="middle">O</text><text x="1125.40" y="157.94" fill="#111111" text-anchor="middle">O</text><text x="1090.76" y="117.94" fill="#111111" text-anchor="middle">O</text><text x="1169.06" y="327.94" fill="#7a1c7d">NH<tspan font-size="15.5" dy="5">2</tspan></text><text x="40.68" y="503.24" fill="#111111" text-anchor="end">H<tspan font-size="15.5" dy="5">2</tspan><tspan dy="-5">N</tspan></text><text x="86.84" y="493.44" fill="#00893e" text-anchor="middle">N</text><text x="138.80" y="503.24" fill="#111111" text-anchor="middle">N</text><text x="190.76" y="493.44" fill="#7a1c7d" text-anchor="middle">N</text><text x="242.72" y="503.24" fill="#111111" text-anchor="middle">N</text><text x="294.68" y="493.44" fill="#00893e" text-anchor="middle">N</text><text x="346.64" y="503.24" fill="#111111" text-anchor="middle">N</text><text x="398.60" y="493.44" fill="#7a1c7d" text-anchor="middle">N</text><text x="450.56" y="503.24" fill="#111111" text-anchor="middle">N</text><text x="502.52" y="493.44" fill="#00893e" text-anchor="middle">N</text><text x="52.20" y="473.44" fill="#111111" text-anchor="middle">O</text><text x="104.16" y="523.23" fill="#111111" text-anchor="middle">O</text><text x="156.12" y="473.44" fill="#111111" text-anchor="middle">O</text><text x="208.08" y="523.23" fill="#111111" text-anchor="middle">O</text><text x="260.04" y="473.44" fill="#111111" text-anchor="middle">O</text><text x="312.00" y="523.23" fill="#111111" text-anchor="middle">O</text><text x="363.96" y="473.44" fill="#111111" text-anchor="middle">O</text><text x="415.92" y="523.23" fill="#111111" text-anchor="middle">O</text><text x="467.88" y="473.44" fill="#111111" text-anchor="middle">O</text><text x="519.84" y="523.23" fill="#111111" text-anchor="middle">O</text><text x="155.32" y="413.04" fill="#00893e" text-anchor="middle">O</text><text x="175.72" y="436.74" fill="#00893e" text-anchor="middle">O</text><text x="156.12" y="553.23" fill="#111111" text-anchor="middle">O</text><text x="190.76" y="593.23" fill="#111111" text-anchor="middle">O</text><text x="199.78" y="383.44" fill="#7a1c7d">NH<tspan font-size="15.5" dy="5">2</tspan></text><text x="260.04" y="553.23" fill="#111111" text-anchor="middle">O</text><text x="294.68" y="593.23" fill="#111111" text-anchor="middle">O</text><text x="362.36" y="412.13" fill="#00893e" text-anchor="middle">O</text><text x="382.66" y="435.83" fill="#00893e" text-anchor="middle">O</text><text x="363.96" y="553.23" fill="#111111" text-anchor="middle">O</text><text x="398.60" y="593.23" fill="#111111" text-anchor="middle">O</text><text x="407.62" y="383.44" fill="#7a1c7d">NH<tspan font-size="15.5" dy="5">2</tspan></text><text x="467.88" y="553.23" fill="#111111" text-anchor="middle">O</text><text x="502.52" y="593.23" fill="#111111" text-anchor="middle">O</text><text x="573.40" y="414.63" fill="#00893e" text-anchor="middle">O</text><text x="589.70" y="440.74" fill="#00893e" text-anchor="middle">O</text><text x="680.78" y="503.24" fill="#111111" text-anchor="end">H<tspan font-size="15.5" dy="5">2</tspan><tspan dy="-5">N</tspan></text><text x="726.94" y="493.44" fill="#00893e" text-anchor="middle">N</text><text x="778.90" y="503.24" fill="#111111" text-anchor="middle">N</text><text x="830.86" y="493.44" fill="#7a1c7d" text-anchor="middle">N</text><text x="882.82" y="503.24" fill="#111111" text-anchor="middle">N</text><text x="934.78" y="493.44" fill="#00893e" text-anchor="middle">N</text><text x="986.74" y="503.24" fill="#111111" text-anchor="middle">N</text><text x="1038.70" y="493.44" fill="#7a1c7d" text-anchor="middle">N</text><text x="1090.66" y="503.24" fill="#111111" text-anchor="middle">N</text><text x="1142.62" y="493.44" fill="#00893e" text-anchor="middle">N</text><text x="692.30" y="473.44" fill="#111111" text-anchor="middle">O</text><text x="744.26" y="523.23" fill="#111111" text-anchor="middle">O</text><text x="796.22" y="473.44" fill="#111111" text-anchor="middle">O</text><text x="848.18" y="523.23" fill="#111111" text-anchor="middle">O</text><text x="900.14" y="473.44" fill="#111111" text-anchor="middle">O</text><text x="952.10" y="523.23" fill="#111111" text-anchor="middle">O</text><text x="1004.06" y="473.44" fill="#111111" text-anchor="middle">O</text><text x="1056.02" y="523.23" fill="#111111" text-anchor="middle">O</text><text x="1107.98" y="473.44" fill="#111111" text-anchor="middle">O</text><text x="1159.94" y="523.23" fill="#111111" text-anchor="middle">O</text><text x="794.22" y="413.44" fill="#00893e" text-anchor="middle">O</text><text x="796.22" y="553.23" fill="#111111" text-anchor="middle">O</text><text x="830.86" y="593.23" fill="#111111" text-anchor="middle">O</text><text x="839.88" y="383.44" fill="#7a1c7d">NH<tspan font-size="15.5" dy="5">2</tspan></text><text x="900.14" y="553.23" fill="#111111" text-anchor="middle">O</text><text x="934.78" y="593.23" fill="#111111" text-anchor="middle">O</text><text x="1002.06" y="413.44" fill="#00893e" text-anchor="middle">O</text><text x="1004.06" y="553.23" fill="#111111" text-anchor="middle">O</text><text x="1038.70" y="593.23" fill="#111111" text-anchor="middle">O</text><text x="1047.72" y="383.44" fill="#7a1c7d">NH<tspan font-size="15.5" dy="5">2</tspan></text><text x="1107.98" y="553.23" fill="#111111" text-anchor="middle">O</text><text x="1142.62" y="593.23" fill="#111111" text-anchor="middle">O</text><text x="1209.90" y="413.44" fill="#00893e" text-anchor="middle">O</text><text x="1444.64" y="248.44" fill="#111111" text-anchor="middle">N</text><text x="1496.60" y="258.33" fill="#7a1c7d" text-anchor="middle">N</text><text x="1548.56" y="248.44" fill="#111111" text-anchor="middle">N</text><text x="1600.52" y="258.33" fill="#00893e" text-anchor="middle">N</text><text x="1652.48" y="248.44" fill="#111111" text-anchor="middle">N</text><text x="1704.44" y="258.33" fill="#7a1c7d" text-anchor="middle">N</text><text x="1756.40" y="248.44" fill="#111111" text-anchor="middle">N</text><text x="1808.36" y="258.33" fill="#00893e" text-anchor="middle">N</text><text x="1860.32" y="248.44" fill="#111111" text-anchor="middle">N</text><text x="1912.28" y="258.33" fill="#7a1c7d" text-anchor="middle">N</text><text x="1955.94" y="248.44" fill="#111111">NH<tspan font-size="15.5" dy="5">2</tspan></text><text x="1427.32" y="278.33" fill="#111111" text-anchor="middle">O</text><text x="1479.28" y="228.44" fill="#111111" text-anchor="middle">O</text><text x="1531.24" y="278.33" fill="#111111" text-anchor="middle">O</text><text x="1583.20" y="228.44" fill="#111111" text-anchor="middle">O</text><text x="1635.16" y="278.33" fill="#111111" text-anchor="middle">O</text><text x="1687.12" y="228.44" fill="#111111" text-anchor="middle">O</text><text x="1739.08" y="278.33" fill="#111111" text-anchor="middle">O</text><text x="1791.04" y="228.44" fill="#111111" text-anchor="middle">O</text><text x="1843.00" y="278.33" fill="#111111" text-anchor="middle">O</text><text x="1894.96" y="228.44" fill="#111111" text-anchor="middle">O</text><text x="1946.92" y="278.33" fill="#111111" text-anchor="middle">O</text><text x="1364.30" y="461.83" fill="#111111" text-anchor="end">H<tspan font-size="15.5" dy="5">2</tspan><tspan dy="-5">N</tspan></text><text x="1410.40" y="451.44" fill="#00893e" text-anchor="middle">N</text><text x="1462.30" y="461.83" fill="#111111" text-anchor="middle">N</text><text x="1514.20" y="451.44" fill="#7a1c7d" text-anchor="middle">N</text><text x="1566.10" y="461.83" fill="#111111" text-anchor="middle">N</text><text x="1618.00" y="451.44" fill="#00893e" text-anchor="middle">N</text><text x="1669.90" y="461.83" fill="#111111" text-anchor="middle">N</text><text x="1721.80" y="451.44" fill="#7a1c7d" text-anchor="middle">N</text><text x="1773.70" y="461.83" fill="#111111" text-anchor="middle">N</text><text x="1825.60" y="451.44" fill="#00893e" text-anchor="middle">N</text><text x="1375.80" y="431.44" fill="#111111" text-anchor="middle">O</text><text x="1427.70" y="481.83" fill="#111111" text-anchor="middle">O</text><text x="1479.60" y="431.44" fill="#111111" text-anchor="middle">O</text><text x="1531.50" y="481.83" fill="#111111" text-anchor="middle">O</text><text x="1583.40" y="431.44" fill="#111111" text-anchor="middle">O</text><text x="1635.30" y="481.83" fill="#111111" text-anchor="middle">O</text><text x="1687.20" y="431.44" fill="#111111" text-anchor="middle">O</text><text x="1739.10" y="481.83" fill="#111111" text-anchor="middle">O</text><text x="1791.00" y="431.44" fill="#111111" text-anchor="middle">O</text><text x="1842.90" y="481.83" fill="#111111" text-anchor="middle">O</text><text x="1427.32" y="198.44" fill="#111111" text-anchor="middle">O</text><text x="1531.24" y="198.44" fill="#111111" text-anchor="middle">O</text><text x="1496.60" y="158.44" fill="#111111" text-anchor="middle">O</text><text x="1635.16" y="198.44" fill="#111111" text-anchor="middle">O</text><text x="1600.52" y="158.44" fill="#111111" text-anchor="middle">O</text><text x="1739.08" y="198.44" fill="#111111" text-anchor="middle">O</text><text x="1704.44" y="158.44" fill="#111111" text-anchor="middle">O</text><text x="1843.00" y="198.44" fill="#111111" text-anchor="middle">O</text><text x="1808.36" y="158.44" fill="#111111" text-anchor="middle">O</text><text x="1479.62" y="511.83" fill="#111111" text-anchor="middle">O</text><text x="1514.26" y="551.83" fill="#111111" text-anchor="middle">O</text><text x="1583.42" y="511.83" fill="#111111" text-anchor="middle">O</text><text x="1618.06" y="551.83" fill="#111111" text-anchor="middle">O</text><text x="1687.22" y="511.83" fill="#111111" text-anchor="middle">O</text><text x="1721.86" y="551.83" fill="#111111" text-anchor="middle">O</text><text x="1791.02" y="511.83" fill="#111111" text-anchor="middle">O</text><text x="1825.66" y="551.83" fill="#111111" text-anchor="middle">O</text><text x="1479.30" y="368.33" fill="#7a1c7d" text-anchor="middle">N</text><text x="1531.32" y="342.44" fill="#7a1c7d" text-anchor="middle">N</text><text x="1687.14" y="368.33" fill="#7a1c7d" text-anchor="middle">N</text><text x="1739.16" y="342.44" fill="#7a1c7d" text-anchor="middle">N</text><text x="1894.98" y="368.33" fill="#7a1c7d" text-anchor="middle">N</text></g>
<line x1="600.5" y1="347.4" x2="662.3000000000001" y2="347.4" stroke="#111" stroke-width="3.1"/>
<path d="M682.6 347.4L657.2 336.7L661.3000000000001 347.4L657.2 358.09999999999997Z" fill="#000"/>
<line x1="1243.5" y1="317.8" x2="1304.7999999999997" y2="317.8" stroke="#111" stroke-width="3.1"/>
<path d="M1325.1 317.8L1299.6999999999998 307.1L1303.7999999999997 317.8L1299.6999999999998 328.5Z" fill="#000"/>
<line x1="1267.1" y1="333.9" x2="1328.1" y2="333.9" stroke="#111" stroke-width="3.1"/>
<path d="M1348.4 333.9L1323.0 323.2L1327.1 333.9L1323.0 344.59999999999997Z" fill="#000"/>
<line x1="1294.1" y1="350.2" x2="1355.7999999999997" y2="350.2" stroke="#111" stroke-width="3.1"/>
<path d="M1376.1 350.2L1350.6999999999998 339.5L1354.7999999999997 350.2L1350.6999999999998 360.9Z" fill="#000"/>
<text x="313.5" y="27.7" font-size="29.3" text-anchor="middle"><tspan fill="#7a1c7d">1</tspan><tspan fill="#00893e">0</tspan><tspan fill="#00893e" dx="0.9" font-size="31.5" dy="0.6">′</tspan><tspan fill="#7a1c7d" dx="0.9" dy="-0.6">1</tspan><tspan fill="#00893e">0</tspan><tspan fill="#00893e" dx="0.9" font-size="31.5" dy="0.6">′</tspan><tspan fill="#7a1c7d" dx="0.9" dy="-0.6">1</tspan></text>
<text x="331" y="60.9" font-size="29.3" text-anchor="middle">Exact mass: 1832.49</text>
<text x="980.8" y="27.4" font-size="29.3" text-anchor="middle"><tspan fill="#7a1c7d">1</tspan><tspan fill="#00893e">0</tspan><tspan fill="#7a1c7d">1</tspan><tspan fill="#00893e">0</tspan><tspan fill="#7a1c7d">1</tspan></text>
<text x="999.2" y="60.7" font-size="29.3" text-anchor="middle">Exact mass: 1744.93</text>
<text x="314.7" y="659.7" font-size="29.3" text-anchor="middle"><tspan fill="#00893e">0</tspan><tspan fill="#00893e" dx="0.9" font-size="31.5" dy="0.6">′</tspan><tspan fill="#7a1c7d" dx="0.9" dy="-0.6">1</tspan><tspan fill="#00893e">0</tspan><tspan fill="#00893e" dx="0.9" font-size="31.5" dy="0.6">′</tspan><tspan fill="#7a1c7d" dx="0.9" dy="-0.6">1</tspan><tspan fill="#00893e">0</tspan><tspan fill="#00893e" dx="0.9" font-size="31.5" dy="0.6">′</tspan></text>
<text x="315.1" y="696.4" font-size="29.3" text-anchor="middle">Exact mass: 1760.42</text>
<text x="939.2" y="659.7" font-size="29.3" text-anchor="middle"><tspan fill="#00893e">0</tspan><tspan fill="#7a1c7d">1</tspan><tspan fill="#00893e">0</tspan><tspan fill="#7a1c7d">1</tspan><tspan fill="#00893e">0</tspan></text>
<text x="939.2" y="696.4" font-size="29.3" text-anchor="middle">Exact mass: 1628.84</text>
<text x="1673" y="621.6" font-size="29.3" text-anchor="middle"><tspan fill="#7a1c7d">1</tspan><tspan fill="#00893e">0</tspan><tspan fill="#7a1c7d">1</tspan><tspan fill="#00893e">0</tspan><tspan fill="#7a1c7d">1</tspan><tspan fill="#111"> </tspan><tspan fill="#111" font-size="35" dx="-1.7" dy="3.6">×</tspan><tspan fill="#111" dx="-1.7" dy="-3.6"> </tspan><tspan fill="#00893e">0</tspan><tspan fill="#7a1c7d">1</tspan><tspan fill="#00893e">0</tspan><tspan fill="#7a1c7d">1</tspan><tspan fill="#00893e">0</tspan></text>
<text x="1677.2" y="658" font-size="29.3" text-anchor="middle">Exact mass: 3283.72</text>
<text x="614" y="329.2" font-size="29.3">Sc<tspan font-size="20" dy="-12">3+</tspan></text>
<text x="1284" y="299.2" font-size="29.3">Sc<tspan font-size="20" dy="-12">3+</tspan></text>
<text x="3.3" y="23.6" font-size="40" font-weight="bold">a</text>
</g>
<polyline points="72.3,1425.0 72.8,1424.9 73.3,1425.3 73.8,1425.3 74.3,1425.3 74.8,1425.1 75.3,1425.2 75.8,1425.2 76.3,1424.9 76.8,1425.1 77.3,1425.0 77.8,1425.3 78.3,1425.4 78.8,1425.7 79.3,1425.3 79.8,1425.3 80.3,1425.2 80.8,1425.6 81.3,1425.7 81.8,1425.6 82.3,1425.5 82.8,1425.0 83.3,1424.7 83.8,1425.4 84.3,1426.3 84.8,1426.7 85.3,1426.0 85.8,1425.4 86.3,1425.3 86.8,1424.6 87.3,1424.9 87.8,1425.1 88.3,1425.1 88.8,1424.6 89.3,1424.3 89.8,1425.1 90.3,1425.7 90.8,1425.9 91.3,1425.7 91.8,1425.6 92.3,1425.8 92.8,1425.9 93.3,1425.8 93.8,1425.6 94.3,1425.6 94.8,1425.3 95.3,1425.4 95.8,1425.3 96.3,1425.0 96.8,1424.8 97.3,1425.2 97.8,1425.2 98.3,1425.5 98.8,1425.0 99.3,1425.5 99.8,1425.1 100.3,1425.3 100.8,1425.4 101.3,1425.7 101.8,1425.6 102.3,1425.1 102.8,1425.2 103.3,1425.4 103.8,1425.2 104.3,1424.9 104.8,1424.2 105.3,1423.8 105.8,1423.8 106.3,1423.5 106.8,1423.1 107.3,1422.6 107.8,1422.8 108.3,1422.9 108.8,1422.9 109.3,1422.6 109.8,1423.1 110.3,1423.9 110.8,1424.5 111.3,1424.8 111.8,1424.4 112.3,1424.6 112.8,1425.1 113.3,1425.8 113.8,1425.7 114.3,1425.1 114.8,1425.0 115.3,1425.3 115.8,1425.3 116.3,1425.0 116.8,1424.8 117.3,1424.8 117.8,1425.0 118.3,1425.3 118.8,1425.1 119.3,1425.7 119.8,1425.7 120.3,1426.0 120.8,1425.7 121.3,1425.6 121.8,1425.8 122.3,1425.1 122.8,1425.3 123.3,1424.9 123.8,1424.8 124.3,1424.6 124.8,1425.1 125.3,1425.9 125.8,1425.5 126.3,1425.3 126.8,1425.0 127.3,1425.5 127.8,1425.5 128.3,1425.1 128.8,1425.1 129.3,1425.0 129.8,1425.5 130.3,1425.4 130.8,1425.7 131.3,1425.3 131.8,1425.0 132.3,1425.1 132.8,1426.0 133.3,1426.3 133.8,1425.1 134.3,1424.7 134.8,1425.2 135.3,1425.8 135.8,1425.7 136.3,1425.5 136.8,1425.8 137.3,1425.4 137.8,1425.4 138.3,1425.2 138.8,1425.4 139.3,1425.5 139.8,1425.7 140.3,1425.9 140.8,1425.7 141.3,1425.9 141.8,1425.9 142.3,1425.5 142.8,1425.2 143.3,1424.9 143.8,1425.2 144.3,1425.3 144.8,1425.3 145.3,1425.4 145.8,1425.2 146.3,1425.4 146.8,1425.3 147.3,1425.6 147.8,1425.5 148.3,1426.0 148.8,1426.0 149.3,1425.2 149.8,1425.3 150.3,1425.1 150.8,1426.2 151.3,1425.9 151.8,1425.7 152.3,1425.1 152.8,1425.3 153.3,1425.5 153.8,1425.2 154.3,1424.8 154.8,1424.3 155.3,1424.5 155.8,1424.8 156.3,1425.4 156.8,1425.5 157.3,1425.3 157.8,1425.3 158.3,1425.2 158.8,1425.7 159.3,1425.5 159.8,1425.7 160.3,1425.6 160.8,1425.6 161.3,1425.1 161.8,1424.6 162.3,1424.7 162.8,1425.4 163.3,1424.7 163.8,1424.5 164.3,1424.5 164.8,1425.6 165.3,1425.8 165.8,1425.9 166.3,1425.7 166.8,1425.8 167.3,1425.0 167.8,1424.8 168.3,1425.5 168.8,1425.8 169.3,1426.5 169.8,1425.4 170.3,1425.4 170.8,1424.8 171.3,1425.4 171.8,1424.9 172.3,1424.5 172.8,1424.5 173.3,1424.9 173.8,1425.7 174.3,1425.4 174.8,1425.9 175.3,1425.1 175.8,1425.4 176.3,1425.1 176.8,1425.5 177.3,1425.4 177.8,1425.4 178.3,1425.7 178.8,1425.6 179.3,1425.8 179.8,1425.8 180.3,1425.8 180.8,1425.6 181.3,1425.4 181.8,1425.5 182.3,1425.2 182.8,1425.3 183.3,1425.2 183.8,1425.6 184.3,1425.7 184.8,1426.0 185.3,1425.7 185.8,1425.8 186.3,1425.7 186.8,1425.7 187.3,1425.3 187.8,1425.2 188.3,1425.9 188.8,1425.9 189.3,1425.7 189.8,1425.5 190.3,1425.4 190.8,1425.7 191.3,1425.6 191.8,1425.8 192.3,1425.6 192.8,1425.3 193.3,1425.8 193.8,1425.2 194.3,1425.4 194.8,1425.4 195.3,1425.7 195.8,1425.7 196.3,1425.1 196.8,1425.4 197.3,1425.3 197.8,1425.3 198.3,1425.5 198.8,1425.2 199.3,1425.5 199.8,1425.5 200.3,1425.7 200.8,1425.4 201.3,1425.2 201.8,1425.5 202.3,1425.4 202.8,1425.9 203.3,1425.9 203.8,1426.1 204.3,1426.0 204.8,1425.7 205.3,1425.7 205.8,1425.0 206.3,1425.3 206.8,1425.5 207.3,1425.6 207.8,1426.1 208.3,1425.0 208.8,1425.3 209.3,1424.8 209.8,1425.5 210.3,1425.3 210.8,1425.6 211.3,1425.6 211.8,1425.4 212.3,1425.0 212.8,1425.3 213.3,1425.4 213.8,1425.5 214.3,1425.3 214.8,1425.4 215.3,1425.3 215.8,1425.8 216.3,1426.0 216.8,1426.0 217.3,1425.3 217.8,1425.2 218.3,1424.7 218.8,1425.0 219.3,1425.0 219.8,1425.4 220.3,1425.3 220.8,1424.8 221.3,1424.7 221.8,1425.0 222.3,1425.5 222.8,1425.5 223.3,1425.4 223.8,1425.1 224.3,1424.6 224.8,1423.5 225.3,1422.8 225.8,1421.7 226.3,1420.7 226.8,1419.6 227.3,1418.0 227.8,1417.4 228.3,1416.7 228.8,1416.9 229.3,1416.8 229.8,1417.4 230.3,1418.2 230.8,1419.8 231.3,1420.2 231.8,1421.4 232.3,1422.2 232.8,1423.7 233.3,1424.5 233.8,1424.9 234.3,1425.3 234.8,1425.7 235.3,1425.8 235.8,1425.7 236.3,1425.2 236.8,1424.8 237.3,1424.7 237.8,1424.8 238.3,1425.5 238.8,1425.4 239.3,1425.5 239.8,1425.0 240.3,1424.7 240.8,1425.4 241.3,1425.4 241.8,1426.2 242.3,1425.4 242.8,1425.8 243.3,1425.6 243.8,1425.7 244.3,1425.2 244.8,1424.9 245.3,1425.1 245.8,1425.3 246.3,1424.9 246.8,1424.4 247.3,1424.3 247.8,1423.9 248.3,1423.3 248.8,1422.2 249.3,1422.2 249.8,1421.9 250.3,1422.5 250.8,1422.4 251.3,1423.2 251.8,1423.1 252.3,1423.4 252.8,1423.9 253.3,1424.5 253.8,1425.0 254.3,1424.7 254.8,1424.6 255.3,1425.0 255.8,1425.3 256.3,1425.3 256.8,1424.3 257.3,1425.0 257.8,1425.3 258.3,1425.6 258.8,1425.5 259.3,1425.7 259.8,1425.9 260.3,1425.2 260.8,1425.0 261.3,1425.0 261.8,1425.3 262.3,1424.7 262.8,1424.8 263.3,1424.6 263.8,1425.3 264.3,1425.3 264.8,1425.5 265.3,1424.9 265.8,1424.5 266.3,1424.5 266.8,1424.3 267.3,1423.9 267.8,1423.3 268.3,1423.1 268.8,1423.0 269.3,1423.1 269.8,1422.8 270.3,1422.7 270.8,1422.7 271.3,1422.8 271.8,1423.7 272.3,1424.1 272.8,1424.9 273.3,1424.3 273.8,1424.8 274.3,1424.7 274.8,1425.2 275.3,1424.7 275.8,1424.5 276.3,1425.1 276.8,1425.9 277.3,1426.0 277.8,1426.1 278.3,1425.5 278.8,1426.1 279.3,1425.4 279.8,1425.1 280.3,1425.0 280.8,1425.0 281.3,1425.2 281.8,1425.0 282.3,1425.3 282.8,1425.4 283.3,1425.1 283.8,1424.9 284.3,1424.8 284.8,1424.2 285.3,1423.6 285.8,1421.9 286.3,1419.6 286.8,1415.2 287.3,1410.2 287.8,1403.4 288.3,1396.4 288.8,1389.0 289.3,1383.5 289.8,1379.4 290.3,1378.4 290.8,1380.7 291.3,1386.2 291.8,1393.1 292.3,1400.5 292.8,1406.9 293.3,1412.4 293.8,1416.5 294.3,1420.0 294.8,1422.6 295.3,1424.0 295.8,1424.5 296.3,1424.1 296.8,1424.1 297.3,1424.5 297.8,1425.1 298.3,1425.5 298.8,1425.7 299.3,1425.7 299.8,1425.5 300.3,1424.8 300.8,1424.7 301.3,1424.3 301.8,1424.3 302.3,1424.3 302.8,1424.1 303.3,1424.2 303.8,1423.9 304.3,1423.6 304.8,1422.8 305.3,1421.2 305.8,1419.2 306.3,1416.7 306.8,1413.7 307.3,1411.0 307.8,1408.7 308.3,1407.6 308.8,1406.7 309.3,1407.1 309.8,1408.2 310.3,1410.6 310.8,1413.5 311.3,1416.5 311.8,1419.2 312.3,1421.3 312.8,1422.4 313.3,1423.2 313.8,1423.3 314.3,1424.0 314.8,1424.1 315.3,1424.6 315.8,1424.6 316.3,1425.2 316.8,1425.9 317.3,1425.8 317.8,1425.3 318.3,1424.9 318.8,1424.9 319.3,1425.3 319.8,1425.2 320.3,1425.9 320.8,1425.7 321.3,1425.8 321.8,1425.5 322.3,1424.9 322.8,1425.1 323.3,1424.8 323.8,1425.3 324.3,1424.0 324.8,1423.1 325.3,1421.6 325.8,1420.7 326.3,1419.4 326.8,1419.1 327.3,1418.9 327.8,1418.4 328.3,1418.7 328.8,1419.4 329.3,1420.9 329.8,1421.3 330.3,1422.0 330.8,1422.7 331.3,1423.9 331.8,1424.3 332.3,1424.7 332.8,1425.1 333.3,1425.0 333.8,1424.6 334.3,1424.4 334.8,1424.8 335.3,1425.1 335.8,1425.3 336.3,1425.9 336.8,1426.7 337.3,1426.4 337.8,1426.0 338.3,1425.4 338.8,1425.2 339.3,1425.3 339.8,1425.3 340.3,1424.7 340.8,1423.8 341.3,1423.4 341.8,1423.6 342.3,1423.1 342.8,1423.1 343.3,1422.3 343.8,1422.0 344.3,1421.0 344.8,1420.9 345.3,1421.2 345.8,1421.8 346.3,1422.0 346.8,1422.6 347.3,1423.4 347.8,1424.5 348.3,1425.1 348.8,1425.0 349.3,1424.7 349.8,1424.2 350.3,1424.5 350.8,1425.0 351.3,1425.1 351.8,1425.4 352.3,1425.2 352.8,1424.9 353.3,1424.5 353.8,1424.9 354.3,1425.2 354.8,1425.5 355.3,1424.8 355.8,1424.8 356.3,1425.3 356.8,1425.7 357.3,1425.2 357.8,1424.4 358.3,1424.3 358.8,1424.8 359.3,1425.6 359.8,1426.4 360.3,1426.7 360.8,1426.1 361.3,1425.4 361.8,1424.6 362.3,1424.3 362.8,1423.5 363.3,1422.9 363.8,1421.7 364.3,1420.1 364.8,1418.4 365.3,1417.0 365.8,1415.8 366.3,1414.1 366.8,1413.5 367.3,1413.4 367.8,1414.4 368.3,1415.4 368.8,1417.6 369.3,1419.6 369.8,1421.1 370.3,1421.9 370.8,1422.8 371.3,1424.0 371.8,1425.2 372.3,1425.4 372.8,1424.6 373.3,1424.3 373.8,1424.5 374.3,1424.5 374.8,1424.7 375.3,1424.9 375.8,1425.8 376.3,1425.9 376.8,1425.2 377.3,1425.2 377.8,1425.1 378.3,1426.1 378.8,1425.7 379.3,1425.4 379.8,1425.1 380.3,1424.9 380.8,1424.9 381.3,1424.7 381.8,1424.4 382.3,1424.4 382.8,1424.5 383.3,1424.9 383.8,1424.8 384.3,1423.5 384.8,1421.3 385.3,1416.4 385.8,1409.5 386.3,1399.0 386.8,1383.9 387.3,1361.4 387.8,1331.8 388.3,1294.5 388.8,1251.6 389.3,1205.8 389.8,1162.3 390.3,1126.4 390.8,1101.8 391.3,1093.2 391.8,1101.4 392.3,1125.6 392.8,1161.9 393.3,1205.2 393.8,1251.1 394.3,1294.6 394.8,1332.8 395.3,1363.1 395.8,1385.5 396.3,1400.5 396.8,1410.5 397.3,1417.1 397.8,1421.5 398.3,1423.8 398.8,1424.9 399.3,1425.3 399.8,1425.8 400.3,1425.9 400.8,1425.5 401.3,1425.7 401.8,1425.5 402.3,1426.3 402.8,1425.2 403.3,1424.7 403.8,1423.4 404.3,1421.3 404.8,1417.1 405.3,1411.5 405.8,1404.0 406.3,1395.3 406.8,1384.5 407.3,1371.8 407.8,1358.4 408.3,1345.7 408.8,1335.5 409.3,1329.0 409.8,1327.2 410.3,1330.7 410.8,1339.0 411.3,1349.9 411.8,1363.5 412.3,1376.5 412.8,1389.4 413.3,1399.3 413.8,1407.9 414.3,1413.4 414.8,1418.4 415.3,1421.4 415.8,1423.3 416.3,1424.9 416.8,1425.6 417.3,1425.9 417.8,1425.1 418.3,1424.5 418.8,1425.0 419.3,1424.9 419.8,1425.4 420.3,1425.7 420.8,1426.4 421.3,1426.3 421.8,1426.0 422.3,1425.6 422.8,1426.3 423.3,1426.3 423.8,1425.6 424.3,1423.3 424.8,1421.2 425.3,1418.9 425.8,1416.4 426.3,1411.6 426.8,1407.2 427.3,1401.5 427.8,1397.5 428.3,1394.0 428.8,1393.1 429.3,1393.7 429.8,1396.0 430.3,1399.1 430.8,1403.4 431.3,1407.5 431.8,1411.7 432.3,1415.0 432.8,1418.3 433.3,1420.3 433.8,1422.3 434.3,1422.8 434.8,1422.9 435.3,1421.8 435.8,1419.6 436.3,1416.9 436.8,1414.0 437.3,1412.3 437.8,1411.2 438.3,1411.4 438.8,1412.5 439.3,1414.1 439.8,1416.0 440.3,1418.3 440.8,1420.4 441.3,1422.7 441.8,1423.7 442.3,1424.7 442.8,1424.5 443.3,1424.5 443.8,1423.4 444.3,1421.9 444.8,1419.6 445.3,1417.9 445.8,1416.4 446.3,1415.2 446.8,1414.4 447.3,1413.6 447.8,1413.8 448.3,1414.8 448.8,1417.0 449.3,1419.4 449.8,1421.3 450.3,1423.1 450.8,1424.0 451.3,1424.7 451.8,1424.9 452.3,1425.3 452.8,1425.3 453.3,1425.3 453.8,1425.1 454.3,1424.5 454.8,1423.4 455.3,1421.6 455.8,1420.8 456.3,1419.9 456.8,1418.6 457.3,1416.9 457.8,1416.0 458.3,1416.8 458.8,1417.8 459.3,1419.3 459.8,1420.5 460.3,1422.6 460.8,1423.4 461.3,1425.0 461.8,1425.1 462.3,1425.1 462.8,1424.8 463.3,1424.6 463.8,1425.3 464.3,1425.5 464.8,1426.2 465.3,1425.7 465.8,1425.5 466.3,1424.6 466.8,1425.2 467.3,1425.3 467.8,1425.7 468.3,1425.0 468.8,1424.4 469.3,1424.6 469.8,1425.3 470.3,1426.3 470.8,1425.8 471.3,1425.5 471.8,1425.1 472.3,1425.5 472.8,1426.2 473.3,1426.4 473.8,1426.1 474.3,1425.1 474.8,1424.5 475.3,1424.9 475.8,1424.7 476.3,1424.0 476.8,1423.9 477.3,1423.8 477.8,1424.3 478.3,1423.7 478.8,1423.5 479.3,1423.3 479.8,1423.6 480.3,1423.7 480.8,1423.9 481.3,1423.8 481.8,1423.9 482.3,1423.7 482.8,1424.1 483.3,1424.3 483.8,1424.4 484.3,1424.5 484.8,1424.6 485.3,1424.8 485.8,1424.8 486.3,1424.8 486.8,1425.0 487.3,1425.5 487.8,1425.4 488.3,1425.1 488.8,1424.6 489.3,1425.2 489.8,1425.5 490.3,1426.0 490.8,1425.6 491.3,1425.6 491.8,1425.7 492.3,1425.3 492.8,1425.3 493.3,1424.7 493.8,1424.9 494.3,1424.5 494.8,1424.4 495.3,1425.0 495.8,1425.4 496.3,1426.4 496.8,1426.1 497.3,1425.9 497.8,1425.0 498.3,1424.5 498.8,1424.8 499.3,1425.0 499.8,1425.3 500.3,1424.8 500.8,1424.5 501.3,1424.6 501.8,1423.9 502.3,1424.3 502.8,1424.3 503.3,1425.3 503.8,1425.0 504.3,1424.8 504.8,1425.1 505.3,1424.9 505.8,1425.1 506.3,1424.4 506.8,1424.5 507.3,1424.8 507.8,1425.6 508.3,1426.3 508.8,1425.8 509.3,1425.5 509.8,1425.2 510.3,1425.5 510.8,1425.4 511.3,1425.0 511.8,1425.2 512.3,1425.4 512.8,1425.7 513.3,1425.3 513.8,1425.3 514.3,1424.9 514.8,1424.5 515.3,1424.2 515.8,1424.9 516.3,1424.6 516.8,1424.8 517.3,1424.7 517.8,1425.5 518.3,1425.7 518.8,1424.9 519.3,1424.8 519.8,1424.6 520.3,1425.9 520.8,1425.7 521.3,1426.0 521.8,1425.7 522.3,1425.8 522.8,1425.7 523.3,1425.1 523.8,1425.0 524.3,1425.3 524.8,1425.5 525.3,1426.3 525.8,1425.8 526.3,1425.5 526.8,1425.5 527.3,1424.9 527.8,1425.3 528.3,1425.2 528.8,1425.8 529.3,1425.5 529.8,1425.5 530.3,1425.5 530.8,1426.1 531.3,1425.3 531.8,1425.3 532.3,1425.0 532.8,1425.0 533.3,1425.3 533.8,1425.3 534.3,1424.9 534.8,1424.5 535.3,1423.8 535.8,1424.2 536.3,1424.1 536.8,1424.4 537.3,1424.2 537.8,1424.0 538.3,1423.9 538.8,1424.1 539.3,1424.3 539.8,1423.9 540.3,1423.6 540.8,1423.0 541.3,1423.7 541.8,1423.7 542.3,1424.1 542.8,1424.2 543.3,1424.6 543.8,1424.6 544.3,1424.2 544.8,1424.2 545.3,1424.3 545.8,1424.3 546.3,1424.6 546.8,1425.5 547.3,1426.0 547.8,1426.0 548.3,1425.5 548.8,1425.1 549.3,1425.0 549.8,1424.9 550.3,1424.5 550.8,1425.0 551.3,1424.8 551.8,1425.5 552.3,1425.4 552.8,1425.5 553.3,1425.6 553.8,1425.1 554.3,1425.6 554.8,1425.4 555.3,1425.9 555.8,1425.6 556.3,1425.7 556.8,1425.8 557.3,1425.6 557.8,1425.8 558.3,1425.8 558.8,1425.7 559.3,1425.0 559.8,1424.5 560.3,1424.7 560.8,1424.2 561.3,1424.7 561.8,1424.9 562.3,1425.8 562.8,1425.0 563.3,1424.4 563.8,1423.5 564.3,1423.2 564.8,1422.9 565.3,1423.0 565.8,1423.1 566.3,1421.9 566.8,1420.9 567.3,1420.0 567.8,1420.3 568.3,1420.4 568.8,1420.6 569.3,1420.6 569.8,1421.4 570.3,1421.6 570.8,1422.0 571.3,1421.6 571.8,1422.0 572.3,1422.2 572.8,1422.8 573.3,1423.0 573.8,1424.4 574.3,1425.1 574.8,1425.1 575.3,1424.9 575.8,1424.9 576.3,1425.3 576.8,1425.3 577.3,1425.0 577.8,1425.7 578.3,1426.0 578.8,1426.6 579.3,1426.7 579.8,1426.2 580.3,1425.9 580.8,1425.3 581.3,1425.6 581.8,1424.8 582.3,1424.9 582.8,1424.6 583.3,1425.2 583.8,1425.3 584.3,1425.4 584.8,1425.5 585.3,1425.2 585.8,1424.8 586.3,1424.6 586.8,1425.0 587.3,1425.4 587.8,1425.1 588.3,1425.0 588.8,1424.7 589.3,1425.0 589.8,1424.5 590.3,1425.1 590.8,1425.4 591.3,1426.0 591.8,1425.7 592.3,1426.2 592.8,1426.1 593.3,1426.9 593.8,1426.1 594.3,1425.9 594.8,1424.9 595.3,1425.3 595.8,1425.2 596.3,1425.6 596.8,1425.6 597.3,1426.2 597.8,1426.2 598.3,1425.8 598.8,1425.3 599.3,1425.6 599.8,1425.8 600.3,1425.8 600.8,1425.1 601.3,1424.8 601.8,1425.5 602.3,1425.3 602.8,1425.9 603.3,1425.4 603.8,1425.3 604.3,1424.3 604.8,1424.2 605.3,1424.4 605.8,1425.1 606.3,1425.4 606.8,1425.3 607.3,1425.1 607.8,1425.0 608.3,1425.7 608.8,1425.7 609.3,1425.5 609.8,1425.3 610.3,1425.5 610.8,1425.2 611.3,1424.9 611.8,1424.9 612.3,1425.7 612.8,1425.9 613.3,1425.9 613.8,1425.2 614.3,1425.2 614.8,1424.6 615.3,1425.2 615.8,1425.2 616.3,1425.4 616.8,1425.2 617.3,1425.4 617.8,1425.6 618.3,1425.4 618.8,1425.7 619.3,1425.7 619.8,1425.9 620.3,1425.5 620.8,1425.2 621.3,1425.4 621.8,1425.3 622.3,1425.5 622.8,1425.1 623.3,1424.9 623.8,1424.3 624.3,1424.5 624.8,1423.5 625.3,1423.5 625.8,1422.4 626.3,1421.6 626.8,1419.8 627.3,1418.8 627.8,1418.6 628.3,1418.9 628.8,1419.7 629.3,1420.6 629.8,1421.8 630.3,1422.7 630.8,1423.1 631.3,1424.0 631.8,1424.4 632.3,1424.8 632.8,1424.8 633.3,1425.0 633.8,1425.4 634.3,1425.2 634.8,1425.2 635.3,1424.9 635.8,1425.2 636.3,1425.3 636.8,1425.7 637.3,1425.6 637.8,1425.4 638.3,1425.0 638.8,1424.8 639.3,1424.9 639.8,1424.6 640.3,1424.9 640.8,1425.4 641.3,1425.7 641.8,1425.7 642.3,1425.5 642.8,1425.4 643.3,1425.3 643.8,1424.9 644.3,1425.2 644.8,1425.2 645.3,1425.3 645.8,1424.7 646.3,1424.9 646.8,1425.0 647.3,1425.4 647.8,1425.7 648.3,1426.2 648.8,1425.6 649.3,1425.6 649.8,1425.0 650.3,1425.9 650.8,1425.6 651.3,1426.3 651.8,1426.4 652.3,1425.9 652.8,1425.7 653.3,1425.3 653.8,1425.4 654.3,1424.5 654.8,1424.8 655.3,1424.5 655.8,1424.8 656.3,1424.8 656.8,1425.6 657.3,1425.4 657.8,1425.7 658.3,1425.4 658.8,1425.6 659.3,1424.9 659.8,1425.0 660.3,1425.2 660.8,1425.6 661.3,1425.0 661.8,1424.3 662.3,1424.8 662.8,1424.8 663.3,1426.4 663.8,1425.9 664.3,1426.4 664.8,1425.0 665.3,1425.0 665.8,1424.9 666.3,1425.6 666.8,1425.8 667.3,1425.6 667.8,1425.5 668.3,1425.1 668.8,1424.7 669.3,1424.5 669.8,1425.0 670.3,1425.9 670.8,1426.3 671.3,1425.7 671.8,1425.3 672.3,1425.3 672.8,1425.5 673.3,1425.9 673.8,1426.0 674.3,1425.9 674.8,1425.6 675.3,1425.4 675.8,1425.4 676.3,1425.5 676.8,1425.6 677.3,1425.8 677.8,1425.5 678.3,1425.2 678.8,1425.5 679.3,1425.7 679.8,1425.5 680.3,1424.7 680.8,1424.9 681.3,1425.0 681.8,1425.6 682.3,1425.0 682.8,1425.0 683.3,1424.5 683.8,1424.6 684.3,1424.9 684.8,1425.5 685.3,1425.5 685.8,1425.2 686.3,1424.4 686.8,1424.0 687.3,1424.5 687.8,1425.1 688.3,1425.9 688.8,1426.1 689.3,1425.9 689.8,1425.4 690.3,1425.2 690.8,1425.0 691.3,1425.4 691.8,1425.4 692.3,1425.7 692.8,1425.4 693.3,1425.1 693.8,1425.3 694.3,1425.3 694.8,1425.3 695.3,1425.3 695.8,1425.9 696.3,1426.3 696.8,1426.1 697.3,1425.7 697.8,1425.2 698.3,1425.0 698.8,1424.9 699.3,1425.0 699.8,1424.7 700.3,1424.4 700.8,1424.0 701.3,1424.1 701.8,1424.1 702.3,1424.7 702.8,1425.4 703.3,1425.9 703.8,1425.7 704.3,1425.3 704.8,1425.1 705.3,1425.0 705.8,1425.3 706.3,1424.9 706.8,1425.1 707.3,1425.0 707.8,1425.3 708.3,1425.3 708.8,1424.6 709.3,1425.1 709.8,1425.0 710.3,1425.4 710.8,1424.7 711.3,1424.8 711.8,1424.7 712.3,1425.2 712.8,1425.5 713.3,1425.8 713.8,1425.9 714.3,1426.2 714.8,1426.2 715.3,1425.5 715.8,1424.6 716.3,1425.0 716.8,1425.2 717.3,1425.7 717.8,1425.0 718.3,1424.8 718.8,1424.4 719.3,1425.4 719.8,1425.4 720.3,1425.2 720.8,1424.3 721.3,1424.3 721.8,1424.7 722.3,1425.2 722.8,1425.2 723.3,1425.1 723.8,1424.9 724.3,1425.2 724.8,1424.8 725.3,1425.2 725.8,1425.2 726.3,1425.8 726.8,1425.2 727.3,1424.8 727.8,1424.2 728.3,1424.3 728.8,1425.1 729.3,1424.9 729.8,1425.0 730.3,1424.6 730.8,1425.2 731.3,1425.4 731.8,1425.3 732.3,1425.2 732.8,1425.2 733.3,1426.1 733.8,1426.2 734.3,1425.9 734.8,1425.0 735.3,1425.1 735.8,1425.1 736.3,1424.9 736.8,1425.0 737.3,1424.7 737.8,1425.6 738.3,1425.8 738.8,1426.5 739.3,1426.6 739.8,1426.6 740.3,1425.9 740.8,1424.9 741.3,1424.6 741.8,1424.4 742.3,1424.7 742.8,1424.9 743.3,1425.3 743.8,1425.4 744.3,1425.1 744.8,1425.6 745.3,1425.2 745.8,1425.6 746.3,1424.9 746.8,1425.6 747.3,1425.6 747.8,1425.8 748.3,1425.1 748.8,1425.4 749.3,1424.9 749.8,1425.0 750.3,1424.8 750.8,1425.0 751.3,1425.1 751.8,1424.6 752.3,1424.3 752.8,1424.1 753.3,1424.6 753.8,1425.4 754.3,1425.4 754.8,1425.2 755.3,1425.3 755.8,1425.7 756.3,1425.5 756.8,1424.6 757.3,1425.2 757.8,1425.2 758.3,1425.9 758.8,1424.9 759.3,1424.9 759.8,1424.8 760.3,1425.3 760.8,1426.0 761.3,1426.5 761.8,1425.9 762.3,1425.5 762.8,1425.2 763.3,1425.6 763.8,1425.9 764.3,1425.7 764.8,1425.2 765.3,1424.5 765.8,1425.0 766.3,1425.0 766.8,1425.6 767.3,1425.7 767.8,1426.4 768.3,1426.5 768.8,1425.9 769.3,1425.9 769.8,1426.0 770.3,1426.1 770.8,1425.3 771.3,1425.0 771.8,1424.8 772.3,1425.3 772.8,1424.4 773.3,1425.1 773.8,1424.8 774.3,1425.9 774.8,1425.5 775.3,1425.9 775.8,1424.6 776.3,1424.6 776.8,1425.1 777.3,1425.7 777.8,1425.7 778.3,1425.2 778.8,1425.6 779.3,1425.3 779.8,1425.3 780.3,1425.2 780.8,1425.2 781.3,1424.9 781.8,1425.1 782.3,1425.4 782.8,1425.9 783.3,1425.7 783.8,1425.4 784.3,1425.0 784.8,1425.0 785.3,1424.5 785.8,1424.6 786.3,1424.5 786.8,1425.4 787.3,1425.7 787.8,1426.0 788.3,1426.1 788.8,1425.5 789.3,1425.8 789.8,1425.5 790.3,1426.4 790.8,1426.3 791.3,1426.4 791.8,1425.8 792.3,1426.0 792.8,1425.9 793.3,1425.5 793.8,1424.8 794.3,1425.0 794.8,1425.5 795.3,1426.0 795.8,1425.6 796.3,1425.0 796.8,1424.9 797.3,1425.5 797.8,1425.9 798.3,1425.5 798.8,1425.8 799.3,1425.8 799.8,1425.4 800.3,1424.4 800.8,1424.3 801.3,1424.8 801.8,1424.7 802.3,1425.1 802.8,1425.5 803.3,1425.7 803.8,1425.6 804.3,1425.3 804.8,1426.0 805.3,1425.6 805.8,1425.4 806.3,1424.8 806.8,1425.0 807.3,1424.8 807.8,1425.1 808.3,1425.4 808.8,1426.2 809.3,1426.0 809.8,1426.0 810.3,1425.7 810.8,1425.8 811.3,1425.9 811.8,1426.4 812.3,1425.8 812.8,1425.4 813.3,1425.0 813.8,1425.4 814.3,1425.4 814.8,1425.1 815.3,1424.9 815.8,1425.1 816.3,1425.5 816.8,1426.0 817.3,1426.2 817.8,1425.6 818.3,1425.5 818.8,1425.7 819.3,1426.4 819.8,1426.4 820.3,1425.7 820.8,1425.7 821.3,1425.3 821.8,1425.3 822.3,1424.7 822.8,1424.2 823.3,1423.5 823.8,1423.5 824.3,1424.4 824.8,1425.4 825.3,1425.7 825.8,1424.7 826.3,1424.4 826.8,1424.2 827.3,1424.8 827.8,1424.8 828.3,1425.0 828.8,1425.1 829.3,1425.0 829.8,1424.9 830.3,1424.8 830.8,1424.7 831.3,1424.6 831.8,1424.5 832.3,1424.8 832.8,1425.4 833.3,1425.6 833.8,1425.5 834.3,1425.6 834.8,1425.5 835.3,1425.7 835.8,1426.1 836.3,1426.2 836.8,1425.9 837.3,1425.8 837.8,1425.7 838.3,1425.4 838.8,1424.7 839.3,1424.7 839.8,1425.0 840.3,1425.5 840.8,1424.8 841.3,1425.2 841.8,1425.0 842.3,1425.0 842.8,1425.1 843.3,1424.8 843.8,1425.4 844.3,1425.1 844.8,1425.6 845.3,1425.3 845.8,1425.4 846.3,1425.3 846.8,1425.6 847.3,1425.4 847.8,1425.1 848.3,1424.5 848.8,1424.3 849.3,1424.9 849.8,1424.9 850.3,1424.9 850.8,1424.7 851.3,1424.8 851.8,1424.7 852.3,1424.7 852.8,1425.4 853.3,1426.0 853.8,1425.0 854.3,1424.5 854.8,1424.8 855.3,1425.7 855.8,1426.0 856.3,1425.8 856.8,1425.7 857.3,1426.1 857.8,1425.9 858.3,1425.5 858.8,1424.8 859.3,1425.1 859.8,1425.2 860.3,1425.5 860.8,1425.7 861.3,1426.4 861.8,1426.1 862.3,1425.6 862.8,1425.3 863.3,1425.1 863.8,1424.9 864.3,1424.8 864.8,1425.2 865.3,1425.5 865.8,1425.3 866.3,1425.3 866.8,1425.3 867.3,1425.8 867.8,1425.5 868.3,1425.8 868.8,1426.1 869.3,1425.3 869.8,1424.7 870.3,1424.5 870.8,1425.2 871.3,1425.3 871.8,1425.2 872.3,1425.0 872.8,1425.4 873.3,1425.4 873.8,1425.6 874.3,1425.6 874.8,1426.2 875.3,1426.1 875.8,1425.9 876.3,1425.1 876.8,1425.4 877.3,1425.4 877.8,1425.4 878.3,1425.6 878.8,1426.4 879.3,1426.3 879.8,1426.1 880.3,1425.1 880.8,1424.7 881.3,1424.6 881.8,1425.0 882.3,1425.7 882.8,1425.3 883.3,1425.4 883.8,1425.1 884.3,1425.0 884.8,1424.5 885.3,1425.0 885.8,1425.0 886.3,1424.9 886.8,1425.1 887.3,1424.8 887.8,1425.1 888.3,1424.7 888.8,1425.4 889.3,1425.2 889.8,1425.0 890.3,1425.1 890.8,1425.7 891.3,1426.1 891.8,1426.3 892.3,1426.0 892.8,1425.9 893.3,1425.6 893.8,1425.0 894.3,1425.2 894.8,1425.1 895.3,1425.6 895.8,1425.0 896.3,1424.3 896.8,1424.1 897.3,1424.0 897.8,1424.9 898.3,1425.4 898.8,1426.3 899.3,1426.6 899.8,1426.4 900.3,1426.1 900.8,1425.3 901.3,1424.8 901.8,1424.6 902.3,1425.0" fill="none" stroke="#e8202a" stroke-width="2.8" stroke-linejoin="round" stroke-linecap="round"/>
<polyline points="72.0,1761.4 72.2,1758.8 72.5,1762.8 72.8,1769.5 73.0,1764.4 73.2,1768.6 73.5,1760.3 73.8,1749.0 74.0,1763.6 74.2,1765.2 74.5,1754.2 74.8,1756.3 75.0,1758.4 75.2,1765.8 75.5,1759.8 75.8,1753.9 76.0,1770.9 76.2,1761.4 76.5,1774.0 76.8,1769.1 77.0,1771.8 77.2,1758.1 77.5,1766.5 77.8,1754.0 78.0,1754.1 78.2,1755.3 78.5,1773.0 78.8,1756.7 79.0,1750.6 79.2,1750.7 79.5,1765.0 79.8,1756.6 80.0,1761.5 80.2,1760.6 80.5,1744.9 80.8,1762.9 81.0,1754.1 81.2,1744.5 81.5,1757.5 81.8,1752.2 82.0,1750.6 82.2,1750.1 82.5,1762.4 82.8,1751.0 83.0,1740.9 83.2,1764.7 83.5,1746.5 83.8,1750.5 84.0,1757.8 84.2,1736.2 84.5,1746.4 84.8,1762.1 85.0,1753.0 85.2,1748.3 85.5,1755.7 85.8,1747.0 86.0,1753.1 86.2,1747.3 86.5,1740.6 86.8,1756.7 87.0,1750.9 87.2,1757.4 87.5,1756.3 87.8,1765.2 88.0,1762.8 88.2,1760.5 88.5,1754.6 88.8,1751.5 89.0,1772.6 89.2,1768.0 89.5,1757.1 89.8,1779.1 90.0,1767.8 90.2,1763.5 90.5,1753.4 90.8,1757.1 91.0,1766.7 91.2,1767.0 91.5,1767.5 91.8,1752.0 92.0,1766.4 92.2,1764.8 92.5,1759.5 92.8,1764.0 93.0,1766.3 93.2,1770.2 93.5,1762.8 93.8,1765.7 94.0,1754.1 94.2,1756.6 94.5,1759.1 94.8,1754.3 95.0,1763.6 95.2,1750.5 95.5,1760.2 95.8,1755.6 96.0,1768.3 96.2,1753.2 96.5,1771.1 96.8,1775.3 97.0,1761.4 97.2,1764.3 97.5,1756.1 97.8,1741.3 98.0,1764.8 98.2,1765.2 98.5,1757.8 98.8,1755.8 99.0,1760.9 99.2,1760.8 99.5,1753.5 99.8,1752.5 100.0,1766.1 100.2,1759.3 100.5,1756.2 100.8,1767.2 101.0,1755.7 101.2,1765.0 101.5,1751.2 101.8,1756.4 102.0,1757.1 102.2,1763.3 102.5,1761.6 102.8,1775.3 103.0,1767.6 103.2,1756.9 103.5,1778.5 103.8,1753.1 104.0,1771.3 104.2,1752.8 104.5,1764.9 104.8,1752.6 105.0,1756.7 105.2,1769.1 105.5,1744.6 105.8,1743.2 106.0,1756.7 106.2,1756.6 106.5,1753.9 106.8,1761.7 107.0,1744.8 107.2,1758.1 107.5,1756.0 107.8,1761.5 108.0,1759.3 108.2,1763.2 108.5,1743.9 108.8,1753.7 109.0,1745.6 109.2,1752.0 109.5,1757.0 109.8,1754.7 110.0,1758.5 110.2,1756.4 110.5,1760.2 110.8,1762.0 111.0,1770.6 111.2,1767.0 111.5,1746.9 111.8,1767.0 112.0,1772.0 112.2,1760.5 112.5,1751.9 112.8,1775.1 113.0,1765.3 113.2,1769.6 113.5,1777.1 113.8,1755.3 114.0,1762.0 114.2,1761.1 114.5,1766.8 114.8,1756.2 115.0,1765.6 115.2,1764.1 115.5,1772.3 115.8,1774.1 116.0,1755.0 116.2,1768.9 116.5,1759.8 116.8,1762.2 117.0,1764.1 117.2,1766.0 117.5,1756.2 117.8,1766.1 118.0,1765.6 118.2,1761.6 118.5,1752.6 118.8,1755.7 119.0,1758.9 119.2,1767.9 119.5,1773.5 119.8,1754.5 120.0,1755.4 120.2,1763.6 120.5,1757.8 120.8,1756.5 121.0,1757.4 121.2,1757.3 121.5,1767.6 121.8,1750.7 122.0,1771.7 122.2,1752.0 122.5,1756.1 122.8,1754.8 123.0,1746.0 123.2,1748.7 123.5,1769.6 123.8,1774.5 124.0,1752.3 124.2,1766.5 124.5,1761.4 124.8,1756.8 125.0,1777.4 125.2,1780.8 125.5,1760.9 125.8,1763.0 126.0,1766.5 126.2,1762.4 126.5,1770.0 126.8,1776.4 127.0,1767.6 127.2,1773.1 127.5,1777.4 127.8,1759.6 128.0,1766.4 128.2,1763.6 128.5,1774.3 128.8,1770.6 129.0,1770.7 129.2,1770.0 129.5,1761.7 129.8,1770.1 130.0,1761.7 130.2,1761.0 130.5,1747.5 130.8,1773.0 131.0,1752.0 131.2,1759.5 131.5,1759.3 131.8,1770.4 132.0,1761.4 132.2,1750.6 132.5,1757.4 132.8,1755.9 133.0,1759.8 133.2,1747.5 133.5,1757.3 133.8,1773.8 134.0,1762.9 134.2,1772.0 134.5,1779.6 134.8,1759.4 135.0,1745.8 135.2,1757.5 135.5,1765.9 135.8,1763.9 136.0,1745.3 136.2,1752.4 136.5,1755.1 136.8,1753.1 137.0,1753.0 137.2,1748.1 137.5,1750.6 137.8,1752.7 138.0,1762.5 138.2,1750.0 138.5,1759.9 138.8,1747.6 139.0,1766.1 139.2,1756.6 139.5,1755.6 139.8,1766.6 140.0,1743.8 140.2,1744.6 140.5,1759.8 140.8,1753.7 141.0,1756.5 141.2,1779.2 141.5,1757.3 141.8,1761.8 142.0,1761.3 142.2,1770.3 142.5,1766.4 142.8,1765.7 143.0,1759.6 143.2,1766.9 143.5,1768.2 143.8,1756.1 144.0,1773.0 144.2,1772.9 144.5,1783.2 144.8,1755.3 145.0,1757.6 145.2,1759.9 145.5,1762.6 145.8,1765.7 146.0,1763.6 146.2,1767.0 146.5,1765.6 146.8,1764.7 147.0,1750.8 147.2,1758.5 147.5,1763.1 147.8,1766.8 148.0,1766.1 148.2,1748.1 148.5,1756.8 148.8,1756.6 149.0,1758.7 149.2,1762.6 149.5,1753.2 149.8,1749.2 150.0,1757.9 150.2,1757.0 150.5,1756.0 150.8,1755.6 151.0,1771.5 151.2,1762.3 151.5,1765.3 151.8,1748.9 152.0,1763.8 152.2,1753.7 152.5,1744.4 152.8,1760.4 153.0,1759.3 153.2,1753.7 153.5,1756.2 153.8,1763.6 154.0,1749.6 154.2,1739.1 154.5,1755.0 154.8,1755.8 155.0,1762.2 155.2,1752.6 155.5,1767.2 155.8,1766.2 156.0,1743.5 156.2,1759.7 156.5,1741.8 156.8,1737.7 157.0,1747.7 157.2,1744.5 157.5,1733.1 157.8,1751.8 158.0,1756.6 158.2,1764.6 158.5,1752.4 158.8,1742.4 159.0,1743.1 159.2,1759.6 159.5,1759.4 159.8,1755.2 160.0,1751.0 160.2,1757.3 160.5,1754.4 160.8,1753.8 161.0,1757.7 161.2,1758.3 161.5,1756.0 161.8,1755.8 162.0,1751.1 162.2,1740.7 162.5,1753.9 162.8,1760.6 163.0,1775.1 163.2,1757.4 163.5,1776.3 163.8,1772.9 164.0,1752.8 164.2,1754.6 164.5,1757.9 164.8,1770.3 165.0,1758.7 165.2,1761.9 165.5,1751.5 165.8,1737.3 166.0,1755.1 166.2,1762.5 166.5,1764.4 166.8,1752.1 167.0,1753.1 167.2,1759.2 167.5,1747.5 167.8,1757.4 168.0,1739.2 168.2,1740.1 168.5,1740.4 168.8,1753.0 169.0,1743.5 169.2,1749.8 169.5,1752.3 169.8,1752.5 170.0,1758.0 170.2,1761.3 170.5,1741.6 170.8,1752.2 171.0,1749.6 171.2,1743.0 171.5,1767.4 171.8,1760.5 172.0,1753.3 172.2,1753.7 172.5,1758.8 172.8,1747.8 173.0,1757.0 173.2,1769.2 173.5,1770.1 173.8,1757.5 174.0,1760.4 174.2,1781.0 174.5,1752.8 174.8,1760.2 175.0,1752.5 175.2,1766.3 175.5,1766.5 175.8,1775.4 176.0,1744.1 176.2,1767.4 176.5,1751.9 176.8,1769.5 177.0,1761.8 177.2,1777.1 177.5,1770.7 177.8,1758.7 178.0,1777.6 178.2,1758.2 178.5,1761.6 178.8,1774.3 179.0,1768.7 179.2,1766.1 179.5,1762.6 179.8,1766.9 180.0,1768.6 180.2,1765.0 180.5,1770.5 180.8,1776.0 181.0,1764.1 181.2,1757.1 181.5,1777.1 181.8,1763.3 182.0,1765.5 182.2,1768.5 182.5,1756.1 182.8,1768.1 183.0,1753.2 183.2,1770.1 183.5,1760.0 183.8,1762.4 184.0,1767.5 184.2,1755.2 184.5,1761.9 184.8,1756.6 185.0,1761.2 185.2,1770.7 185.5,1764.4 185.8,1765.7 186.0,1756.7 186.2,1771.9 186.5,1764.0 186.8,1776.7 187.0,1755.4 187.2,1768.6 187.5,1775.3 187.8,1761.8 188.0,1753.3 188.2,1773.9 188.5,1770.2 188.8,1763.3 189.0,1766.1 189.2,1756.0 189.5,1764.9 189.8,1763.8 190.0,1753.0 190.2,1763.0 190.5,1753.5 190.8,1763.8 191.0,1766.7 191.2,1769.8 191.5,1741.3 191.8,1758.7 192.0,1750.8 192.2,1752.7 192.5,1750.8 192.8,1753.9 193.0,1739.3 193.2,1763.5 193.5,1768.8 193.8,1765.1 194.0,1768.3 194.2,1751.6 194.5,1752.5 194.8,1766.4 195.0,1770.2 195.2,1762.3 195.5,1746.0 195.8,1780.7 196.0,1754.5 196.2,1767.6 196.5,1748.6 196.8,1766.0 197.0,1759.3 197.2,1767.9 197.5,1764.8 197.8,1747.0 198.0,1751.1 198.2,1761.4 198.5,1764.0 198.8,1770.7 199.0,1756.1 199.2,1753.3 199.5,1754.9 199.8,1755.0 200.0,1761.4 200.2,1753.0 200.5,1750.5 200.8,1741.1 201.0,1739.1 201.2,1757.2 201.5,1763.1 201.8,1759.1 202.0,1762.9 202.2,1763.7 202.5,1757.8 202.8,1766.7 203.0,1752.4 203.2,1759.5 203.5,1754.9 203.8,1758.0 204.0,1760.6 204.2,1761.9 204.5,1758.9 204.8,1764.3 205.0,1759.3 205.2,1761.3 205.5,1772.6 205.8,1760.7 206.0,1770.8 206.2,1764.2 206.5,1760.1 206.8,1774.0 207.0,1756.1 207.2,1754.1 207.5,1755.3 207.8,1756.0 208.0,1754.8 208.2,1759.1 208.5,1753.4 208.8,1756.9 209.0,1752.4 209.2,1762.2 209.5,1750.1 209.8,1750.9 210.0,1754.0 210.2,1756.9 210.5,1750.1 210.8,1766.5 211.0,1746.9 211.2,1749.7 211.5,1748.3 211.8,1748.2 212.0,1756.6 212.2,1753.6 212.5,1747.2 212.8,1749.3 213.0,1754.0 213.2,1767.0 213.5,1751.3 213.8,1744.0 214.0,1745.2 214.2,1750.7 214.5,1767.8 214.8,1748.1 215.0,1757.2 215.2,1775.8 215.5,1754.6 215.8,1769.0 216.0,1769.4 216.2,1764.2 216.5,1747.1 216.8,1760.6 217.0,1757.1 217.2,1746.7 217.5,1747.9 217.8,1763.6 218.0,1762.8 218.2,1771.5 218.5,1766.9 218.8,1759.3 219.0,1758.3 219.2,1757.6 219.5,1751.4 219.8,1764.7 220.0,1762.4 220.2,1755.7 220.5,1755.9 220.8,1752.3 221.0,1756.3 221.2,1762.0 221.5,1758.4 221.8,1770.9 222.0,1774.4 222.2,1755.9 222.5,1760.3 222.8,1759.3 223.0,1773.3 223.2,1763.0 223.5,1765.2 223.8,1764.0 224.0,1775.1 224.2,1760.6 224.5,1749.2 224.8,1755.1 225.0,1762.2 225.2,1758.1 225.5,1753.0 225.8,1780.3 226.0,1759.4 226.2,1752.9 226.5,1751.9 226.8,1743.4 227.0,1745.8 227.2,1753.5 227.5,1754.7 227.8,1749.3 228.0,1757.4 228.2,1756.4 228.5,1750.9 228.8,1743.8 229.0,1759.2 229.2,1760.4 229.5,1756.8 229.8,1747.5 230.0,1759.4 230.2,1747.1 230.5,1766.7 230.8,1761.6 231.0,1759.3 231.2,1750.4 231.5,1749.4 231.8,1771.4 232.0,1767.8 232.2,1756.9 232.5,1765.9 232.8,1771.9 233.0,1752.5 233.2,1757.3 233.5,1756.4 233.8,1761.2 234.0,1750.8 234.2,1762.0 234.5,1748.1 234.8,1763.3 235.0,1762.2 235.2,1753.6 235.5,1759.9 235.8,1749.3 236.0,1754.1 236.2,1764.3 236.5,1755.3 236.8,1757.2 237.0,1746.4 237.2,1759.4 237.5,1760.0 237.8,1746.5 238.0,1737.6 238.2,1738.5 238.5,1753.8 238.8,1750.8 239.0,1742.2 239.2,1754.5 239.5,1762.1 239.8,1755.0 240.0,1753.0 240.2,1763.9 240.5,1770.1 240.8,1770.5 241.0,1752.6 241.2,1763.0 241.5,1759.5 241.8,1756.5 242.0,1753.8 242.2,1760.1 242.5,1754.8 242.8,1767.4 243.0,1764.7 243.2,1769.8 243.5,1755.3 243.8,1765.1 244.0,1771.2 244.2,1767.0 244.5,1765.8 244.8,1758.2 245.0,1776.4 245.2,1770.4 245.5,1766.4 245.8,1743.7 246.0,1756.3 246.2,1765.1 246.5,1756.8 246.8,1745.8 247.0,1764.4 247.2,1765.4 247.5,1752.7 247.8,1757.9 248.0,1756.2 248.2,1763.9 248.5,1745.0 248.8,1746.9 249.0,1755.1 249.2,1753.7 249.5,1775.8 249.8,1753.2 250.0,1756.0 250.2,1751.5 250.5,1750.2 250.8,1758.5 251.0,1771.3 251.2,1756.0 251.5,1763.6 251.8,1759.3 252.0,1759.9 252.2,1756.2 252.5,1771.4 252.8,1742.5 253.0,1750.6 253.2,1744.1 253.5,1736.9 253.8,1752.3 254.0,1766.8 254.2,1759.2 254.5,1764.0 254.8,1756.6 255.0,1748.6 255.2,1764.4 255.5,1746.4 255.8,1761.8 256.0,1746.6 256.2,1753.1 256.5,1753.2 256.8,1751.6 257.0,1754.6 257.2,1752.6 257.5,1763.2 257.8,1751.4 258.0,1737.9 258.2,1738.6 258.5,1744.9 258.8,1749.9 259.0,1760.5 259.2,1744.5 259.5,1754.5 259.8,1752.0 260.0,1753.4 260.2,1749.3 260.5,1753.2 260.8,1748.4 261.0,1755.8 261.2,1750.7 261.5,1728.6 261.8,1742.8 262.0,1740.8 262.2,1732.7 262.5,1726.8 262.8,1741.4 263.0,1732.8 263.2,1723.2 263.5,1728.5 263.8,1725.2 264.0,1712.8 264.2,1726.8 264.5,1716.6 264.8,1719.1 265.0,1702.5 265.2,1730.1 265.5,1717.5 265.8,1718.8 266.0,1711.5 266.2,1712.7 266.5,1707.9 266.8,1731.4 267.0,1712.0 267.2,1723.5 267.5,1728.6 267.8,1722.4 268.0,1738.1 268.2,1750.9 268.5,1738.7 268.8,1750.7 269.0,1743.4 269.2,1735.9 269.5,1739.1 269.8,1727.8 270.0,1744.3 270.2,1754.4 270.5,1750.5 270.8,1753.5 271.0,1755.6 271.2,1742.3 271.5,1750.6 271.8,1764.0 272.0,1741.0 272.2,1748.4 272.5,1745.7 272.8,1748.1 273.0,1745.2 273.2,1749.6 273.5,1741.1 273.8,1747.6 274.0,1747.8 274.2,1747.0 274.5,1761.5 274.8,1751.5 275.0,1753.0 275.2,1749.4 275.5,1760.7 275.8,1735.6 276.0,1749.4 276.2,1761.0 276.5,1766.0 276.8,1754.0 277.0,1753.5 277.2,1759.1 277.5,1754.9 277.8,1763.8 278.0,1754.1 278.2,1765.5 278.5,1759.6 278.8,1751.3 279.0,1738.6 279.2,1766.8 279.5,1764.5 279.8,1766.9 280.0,1755.2 280.2,1767.8 280.5,1766.0 280.8,1762.2 281.0,1768.8 281.2,1767.9 281.5,1765.6 281.8,1779.7 282.0,1773.3 282.2,1763.9 282.5,1759.0 282.8,1761.3 283.0,1774.6 283.2,1762.5 283.5,1752.1 283.8,1752.2 284.0,1756.7 284.2,1761.2 284.5,1746.5 284.8,1755.1 285.0,1759.0 285.2,1753.0 285.5,1736.1 285.8,1743.7 286.0,1734.5 286.2,1745.2 286.5,1734.7 286.8,1741.9 287.0,1737.7 287.2,1717.0 287.5,1731.3 287.8,1738.5 288.0,1734.0 288.2,1729.6 288.5,1723.3 288.8,1734.9 289.0,1743.3 289.2,1730.9 289.5,1728.0 289.8,1727.4 290.0,1717.2 290.2,1725.0 290.5,1720.4 290.8,1737.6 291.0,1722.0 291.2,1715.2 291.5,1730.7 291.8,1737.1 292.0,1741.0 292.2,1727.8 292.5,1750.5 292.8,1745.7 293.0,1744.1 293.2,1741.8 293.5,1752.6 293.8,1746.2 294.0,1752.7 294.2,1752.6 294.5,1756.7 294.8,1763.5 295.0,1755.7 295.2,1750.6 295.5,1766.6 295.8,1762.6 296.0,1755.4 296.2,1769.7 296.5,1759.6 296.8,1774.0 297.0,1757.5 297.2,1751.3 297.5,1753.6 297.8,1769.2 298.0,1758.8 298.2,1764.9 298.5,1765.3 298.8,1753.9 299.0,1777.6 299.2,1757.9 299.5,1769.1 299.8,1758.3 300.0,1769.8 300.2,1777.8 300.5,1767.0 300.8,1764.0 301.0,1771.8 301.2,1768.3 301.5,1775.6 301.8,1787.6 302.0,1761.2 302.2,1763.7 302.5,1768.0 302.8,1766.8 303.0,1754.4 303.2,1764.8 303.5,1762.5 303.8,1752.2 304.0,1739.9 304.2,1758.1 304.5,1730.8 304.8,1743.2 305.0,1744.2 305.2,1721.3 305.5,1728.0 305.8,1730.8 306.0,1717.5 306.2,1700.8 306.5,1691.6 306.8,1700.0 307.0,1689.0 307.2,1681.3 307.5,1687.5 307.8,1675.9 308.0,1676.3 308.2,1679.9 308.5,1678.1 308.8,1673.6 309.0,1673.7 309.2,1680.1 309.5,1679.2 309.8,1670.6 310.0,1683.0 310.2,1681.5 310.5,1684.0 310.8,1693.9 311.0,1684.8 311.2,1713.0 311.5,1704.8 311.8,1719.0 312.0,1708.6 312.2,1714.7 312.5,1748.9 312.8,1745.9 313.0,1737.4 313.2,1738.7 313.5,1741.5 313.8,1750.8 314.0,1749.3 314.2,1749.0 314.5,1756.3 314.8,1749.0 315.0,1774.6 315.2,1753.1 315.5,1766.4 315.8,1750.7 316.0,1759.0 316.2,1764.8 316.5,1755.4 316.8,1765.0 317.0,1766.1 317.2,1770.0 317.5,1758.6 317.8,1753.6 318.0,1748.8 318.2,1756.8 318.5,1746.9 318.8,1752.7 319.0,1752.5 319.2,1746.3 319.5,1741.5 319.8,1753.8 320.0,1751.8 320.2,1750.5 320.5,1747.7 320.8,1754.4 321.0,1736.6 321.2,1746.0 321.5,1735.3 321.8,1741.1 322.0,1728.2 322.2,1725.7 322.5,1727.4 322.8,1702.1 323.0,1709.4 323.2,1690.2 323.5,1689.6 323.8,1694.5 324.0,1683.2 324.2,1669.3 324.5,1664.4 324.8,1657.1 325.0,1654.0 325.2,1658.4 325.5,1640.7 325.8,1649.5 326.0,1621.4 326.2,1627.2 326.5,1624.7 326.8,1620.6 327.0,1616.6 327.2,1631.5 327.5,1637.1 327.8,1635.5 328.0,1649.2 328.2,1647.4 328.5,1632.5 328.8,1660.9 329.0,1653.9 329.2,1679.2 329.5,1674.8 329.8,1688.7 330.0,1695.3 330.2,1696.4 330.5,1694.6 330.8,1713.5 331.0,1718.7 331.2,1734.2 331.5,1729.0 331.8,1740.2 332.0,1737.6 332.2,1749.2 332.5,1737.2 332.8,1768.1 333.0,1755.0 333.2,1745.9 333.5,1757.1 333.8,1762.0 334.0,1758.4 334.2,1769.6 334.5,1759.0 334.8,1739.6 335.0,1749.4 335.2,1767.7 335.5,1764.1 335.8,1759.9 336.0,1750.2 336.2,1764.1 336.5,1766.3 336.8,1752.6 337.0,1752.4 337.2,1761.1 337.5,1764.4 337.8,1767.6 338.0,1758.9 338.2,1771.0 338.5,1746.4 338.8,1756.6 339.0,1747.7 339.2,1738.3 339.5,1744.2 339.8,1761.5 340.0,1742.9 340.2,1738.6 340.5,1752.3 340.8,1750.3 341.0,1742.8 341.2,1752.0 341.5,1723.7 341.8,1750.7 342.0,1737.5 342.2,1724.6 342.5,1720.5 342.8,1712.4 343.0,1705.9 343.2,1703.7 343.5,1690.5 343.8,1712.7 344.0,1689.6 344.2,1688.9 344.5,1675.3 344.8,1669.8 345.0,1677.6 345.2,1672.9 345.5,1656.8 345.8,1658.1 346.0,1665.7 346.2,1644.6 346.5,1642.7 346.8,1671.8 347.0,1660.6 347.2,1646.4 347.5,1662.0 347.8,1671.6 348.0,1679.2 348.2,1684.3 348.5,1688.0 348.8,1694.6 349.0,1688.6 349.2,1703.2 349.5,1708.4 349.8,1716.0 350.0,1710.2 350.2,1721.6 350.5,1720.5 350.8,1716.0 351.0,1726.1 351.2,1724.2 351.5,1729.0 351.8,1734.8 352.0,1738.8 352.2,1743.7 352.5,1738.6 352.8,1755.5 353.0,1739.5 353.2,1751.3 353.5,1757.8 353.8,1759.4 354.0,1761.9 354.2,1756.7 354.5,1763.6 354.8,1747.3 355.0,1762.4 355.2,1775.7 355.5,1764.0 355.8,1775.8 356.0,1761.3 356.2,1753.4 356.5,1756.7 356.8,1773.8 357.0,1769.5 357.2,1750.4 357.5,1763.7 357.8,1766.8 358.0,1759.0 358.2,1748.2 358.5,1757.1 358.8,1763.9 359.0,1762.2 359.2,1759.0 359.5,1768.0 359.8,1771.0 360.0,1760.1 360.2,1768.7 360.5,1761.2 360.8,1762.9 361.0,1746.5 361.2,1772.3 361.5,1764.8 361.8,1763.8 362.0,1755.9 362.2,1753.1 362.5,1764.0 362.8,1763.4 363.0,1767.4 363.2,1757.9 363.5,1742.5 363.8,1746.2 364.0,1752.0 364.2,1742.2 364.5,1734.8 364.8,1727.9 365.0,1733.9 365.2,1728.5 365.5,1739.5 365.8,1731.2 366.0,1703.8 366.2,1729.5 366.5,1709.6 366.8,1700.5 367.0,1702.0 367.2,1702.5 367.5,1696.5 367.8,1693.0 368.0,1693.3 368.2,1705.6 368.5,1688.9 368.8,1694.5 369.0,1696.6 369.2,1691.1 369.5,1691.3 369.8,1691.7 370.0,1706.2 370.2,1695.7 370.5,1696.5 370.8,1701.8 371.0,1702.4 371.2,1717.6 371.5,1720.7 371.8,1714.3 372.0,1733.2 372.2,1725.8 372.5,1737.6 372.8,1739.6 373.0,1757.7 373.2,1753.6 373.5,1747.1 373.8,1739.3 374.0,1742.1 374.2,1751.5 374.5,1758.1 374.8,1765.0 375.0,1755.8 375.2,1759.4 375.5,1755.5 375.8,1745.7 376.0,1758.4 376.2,1768.7 376.5,1764.1 376.8,1771.7 377.0,1771.1 377.2,1750.8 377.5,1759.8 377.8,1774.6 378.0,1758.0 378.2,1755.2 378.5,1767.1 378.8,1767.2 379.0,1764.2 379.2,1758.2 379.5,1753.1 379.8,1749.0 380.0,1748.1 380.2,1747.0 380.5,1743.2 380.8,1746.2 381.0,1762.3 381.2,1752.7 381.5,1749.5 381.8,1753.9 382.0,1743.2 382.2,1753.4 382.5,1756.6 382.8,1734.6 383.0,1738.1 383.2,1737.7 383.5,1729.6 383.8,1726.8 384.0,1728.9 384.2,1746.6 384.5,1728.6 384.8,1722.0 385.0,1723.9 385.2,1710.0 385.5,1697.5 385.8,1710.1 386.0,1713.0 386.2,1685.4 386.5,1702.9 386.8,1708.1 387.0,1696.7 387.2,1695.3 387.5,1703.3 387.8,1689.0 388.0,1699.3 388.2,1704.0 388.5,1698.0 388.8,1693.5 389.0,1709.3 389.2,1703.1 389.5,1711.2 389.8,1690.4 390.0,1720.8 390.2,1707.9 390.5,1722.7 390.8,1727.1 391.0,1726.3 391.2,1728.0 391.5,1728.4 391.8,1738.6 392.0,1747.4 392.2,1749.7 392.5,1742.9 392.8,1743.2 393.0,1739.5 393.2,1744.9 393.5,1741.8 393.8,1737.9 394.0,1749.5 394.2,1763.6 394.5,1763.0 394.8,1763.2 395.0,1739.9 395.2,1760.6 395.5,1743.8 395.8,1748.2 396.0,1741.9 396.2,1748.4 396.5,1758.4 396.8,1761.6 397.0,1759.5 397.2,1759.7 397.5,1766.1 397.8,1762.6 398.0,1748.5 398.2,1775.5 398.5,1760.6 398.8,1772.0 399.0,1764.4 399.2,1757.6 399.5,1765.8 399.8,1758.3 400.0,1776.0 400.2,1757.2 400.5,1769.4 400.8,1758.3 401.0,1762.4 401.2,1784.3 401.5,1768.6 401.8,1761.0 402.0,1750.2 402.2,1758.7 402.5,1757.3 402.8,1765.6 403.0,1740.4 403.2,1736.2 403.5,1749.6 403.8,1749.5 404.0,1761.1 404.2,1741.2 404.5,1724.2 404.8,1738.1 405.0,1728.7 405.2,1730.8 405.5,1742.6 405.8,1722.6 406.0,1740.8 406.2,1731.7 406.5,1722.8 406.8,1714.9 407.0,1714.4 407.2,1711.6 407.5,1718.5 407.8,1718.8 408.0,1706.6 408.2,1708.9 408.5,1709.5 408.8,1706.8 409.0,1703.5 409.2,1714.2 409.5,1708.2 409.8,1707.5 410.0,1695.9 410.2,1693.8 410.5,1681.4 410.8,1710.4 411.0,1705.8 411.2,1696.6 411.5,1710.1 411.8,1711.2 412.0,1697.3 412.2,1716.0 412.5,1725.0 412.8,1729.2 413.0,1719.4 413.2,1724.4 413.5,1741.0 413.8,1741.6 414.0,1733.3 414.2,1735.3 414.5,1748.6 414.8,1742.7 415.0,1747.2 415.2,1766.6 415.5,1755.0 415.8,1752.0 416.0,1763.8 416.2,1774.8 416.5,1762.2 416.8,1756.7 417.0,1751.0 417.2,1780.0 417.5,1741.6 417.8,1771.6 418.0,1758.8 418.2,1757.6 418.5,1759.0 418.8,1766.1 419.0,1778.4 419.2,1766.1 419.5,1776.9 419.8,1790.5 420.0,1745.7 420.2,1762.8 420.5,1753.4 420.8,1774.0 421.0,1753.1 421.2,1751.5 421.5,1751.4 421.8,1765.7 422.0,1774.6 422.2,1762.9 422.5,1776.6 422.8,1768.9 423.0,1749.9 423.2,1754.5 423.5,1744.3 423.8,1740.0 424.0,1716.8 424.2,1713.6 424.5,1715.1 424.8,1696.5 425.0,1703.3 425.2,1689.6 425.5,1668.2 425.8,1675.2 426.0,1658.7 426.2,1656.0 426.5,1634.5 426.8,1610.4 427.0,1619.3 427.2,1603.7 427.5,1603.6 427.8,1598.9 428.0,1591.5 428.2,1566.0 428.5,1557.8 428.8,1574.2 429.0,1582.6 429.2,1572.9 429.5,1588.0 429.8,1585.2 430.0,1597.0 430.2,1606.3 430.5,1613.1 430.8,1631.4 431.0,1643.1 431.2,1662.6 431.5,1662.4 431.8,1681.2 432.0,1679.7 432.2,1695.2 432.5,1696.5 432.8,1699.3 433.0,1724.2 433.2,1725.0 433.5,1732.2 433.8,1723.0 434.0,1719.9 434.2,1730.6 434.5,1742.5 434.8,1729.5 435.0,1755.3 435.2,1735.8 435.5,1754.8 435.8,1771.4 436.0,1726.5 436.2,1737.1 436.5,1758.8 436.8,1748.8 437.0,1755.7 437.2,1751.8 437.5,1763.5 437.8,1756.1 438.0,1747.1 438.2,1747.4 438.5,1737.7 438.8,1745.7 439.0,1727.7 439.2,1749.9 439.5,1743.6 439.8,1760.2 440.0,1754.5 440.2,1732.5 440.5,1755.7 440.8,1734.8 441.0,1740.0 441.2,1744.7 441.5,1733.6 441.8,1730.0 442.0,1724.2 442.2,1710.1 442.5,1699.1 442.8,1700.0 443.0,1692.4 443.2,1670.1 443.5,1661.2 443.8,1638.8 444.0,1614.8 444.2,1613.5 444.5,1605.1 444.8,1591.0 445.0,1579.8 445.2,1564.1 445.5,1549.7 445.8,1526.8 446.0,1513.1 446.2,1492.6 446.5,1492.9 446.8,1486.0 447.0,1487.7 447.2,1458.9 447.5,1467.4 447.8,1460.5 448.0,1473.1 448.2,1476.7 448.5,1499.8 448.8,1505.5 449.0,1503.1 449.2,1549.8 449.5,1546.7 449.8,1558.6 450.0,1585.1 450.2,1595.8 450.5,1606.1 450.8,1638.0 451.0,1643.1 451.2,1667.7 451.5,1678.0 451.8,1686.7 452.0,1696.0 452.2,1702.8 452.5,1708.7 452.8,1733.8 453.0,1713.0 453.2,1725.7 453.5,1733.7 453.8,1746.9 454.0,1746.0 454.2,1742.7 454.5,1744.5 454.8,1761.5 455.0,1740.9 455.2,1722.7 455.5,1763.6 455.8,1738.7 456.0,1743.5 456.2,1749.9 456.5,1738.4 456.8,1761.1 457.0,1748.9 457.2,1738.2 457.5,1751.0 457.8,1752.9 458.0,1751.0 458.2,1754.6 458.5,1736.5 458.8,1755.6 459.0,1732.8 459.2,1746.9 459.5,1729.1 459.8,1731.9 460.0,1747.2 460.2,1722.9 460.5,1728.1 460.8,1716.3 461.0,1694.1 461.2,1709.5 461.5,1701.6 461.8,1670.6 462.0,1672.4 462.2,1649.3 462.5,1650.9 462.8,1650.3 463.0,1631.9 463.2,1610.5 463.5,1601.4 463.8,1597.7 464.0,1586.0 464.2,1576.1 464.5,1570.2 464.8,1540.3 465.0,1549.3 465.2,1555.8 465.5,1544.8 465.8,1532.0 466.0,1535.7 466.2,1544.1 466.5,1552.3 466.8,1551.6 467.0,1571.7 467.2,1577.1 467.5,1570.2 467.8,1589.9 468.0,1594.0 468.2,1599.5 468.5,1616.6 468.8,1630.5 469.0,1624.6 469.2,1647.9 469.5,1667.2 469.8,1670.0 470.0,1684.8 470.2,1703.7 470.5,1704.5 470.8,1714.0 471.0,1737.5 471.2,1728.0 471.5,1734.4 471.8,1741.6 472.0,1756.5 472.2,1746.1 472.5,1747.3 472.8,1746.9 473.0,1760.7 473.2,1749.8 473.5,1765.7 473.8,1758.4 474.0,1748.1 474.2,1765.2 474.5,1765.3 474.8,1752.8 475.0,1767.5 475.2,1767.1 475.5,1763.2 475.8,1756.0 476.0,1781.0 476.2,1769.3 476.5,1770.5 476.8,1771.6 477.0,1771.7 477.2,1773.9 477.5,1763.0 477.8,1772.9 478.0,1765.3 478.2,1762.9 478.5,1774.2 478.8,1765.1 479.0,1753.9 479.2,1760.9 479.5,1767.9 479.8,1766.5 480.0,1772.4 480.2,1762.2 480.5,1757.8 480.8,1768.8 481.0,1763.9 481.2,1749.4 481.5,1761.7 481.8,1755.6 482.0,1764.9 482.2,1763.8 482.5,1758.1 482.8,1735.8 483.0,1754.2 483.2,1750.6 483.5,1745.6 483.8,1741.5 484.0,1730.7 484.2,1730.4 484.5,1709.9 484.8,1719.9 485.0,1706.1 485.2,1709.3 485.5,1703.1 485.8,1713.2 486.0,1694.0 486.2,1686.5 486.5,1681.1 486.8,1688.5 487.0,1657.2 487.2,1659.9 487.5,1656.7 487.8,1649.4 488.0,1642.3 488.2,1633.9 488.5,1642.4 488.8,1638.2 489.0,1627.9 489.2,1629.5 489.5,1636.0 489.8,1640.8 490.0,1645.9 490.2,1644.4 490.5,1639.0 490.8,1663.7 491.0,1648.5 491.2,1660.5 491.5,1680.0 491.8,1677.3 492.0,1702.8 492.2,1711.7 492.5,1715.9 492.8,1714.8 493.0,1721.5 493.2,1729.4 493.5,1729.7 493.8,1752.1 494.0,1735.2 494.2,1756.3 494.5,1751.3 494.8,1753.5 495.0,1762.7 495.2,1766.7 495.5,1765.2 495.8,1758.1 496.0,1752.5 496.2,1753.4 496.5,1766.2 496.8,1764.4 497.0,1766.5 497.2,1754.2 497.5,1774.0 497.8,1745.4 498.0,1759.4 498.2,1760.2 498.5,1750.6 498.8,1745.3 499.0,1748.2 499.2,1740.9 499.5,1749.0 499.8,1740.1 500.0,1737.1 500.2,1746.3 500.5,1731.8 500.8,1741.8 501.0,1739.6 501.2,1747.5 501.5,1741.8 501.8,1732.5 502.0,1747.3 502.2,1729.7 502.5,1729.2 502.8,1728.9 503.0,1747.0 503.2,1724.7 503.5,1717.0 503.8,1724.7 504.0,1713.9 504.2,1729.7 504.5,1700.1 504.8,1705.5 505.0,1686.7 505.2,1706.2 505.5,1681.9 505.8,1684.5 506.0,1671.3 506.2,1681.6 506.5,1676.4 506.8,1649.1 507.0,1671.2 507.2,1670.7 507.5,1666.0 507.8,1669.8 508.0,1652.4 508.2,1648.7 508.5,1670.5 508.8,1683.2 509.0,1663.1 509.2,1667.7 509.5,1676.8 509.8,1679.8 510.0,1701.6 510.2,1701.0 510.5,1714.8 510.8,1721.4 511.0,1708.1 511.2,1728.2 511.5,1706.7 511.8,1730.1 512.0,1739.7 512.2,1731.4 512.5,1727.9 512.8,1740.6 513.0,1753.8 513.2,1748.6 513.5,1741.4 513.8,1758.2 514.0,1762.8 514.2,1749.1 514.5,1758.1 514.8,1768.9 515.0,1762.6 515.2,1764.4 515.5,1755.7 515.8,1757.8 516.0,1748.4 516.2,1751.2 516.5,1771.7 516.8,1754.3 517.0,1750.1 517.2,1752.9 517.5,1747.8 517.8,1761.9 518.0,1762.5 518.2,1747.1 518.5,1763.6 518.8,1773.1 519.0,1746.8 519.2,1763.2 519.5,1761.2 519.8,1771.1 520.0,1770.2 520.2,1768.8 520.5,1763.4 520.8,1757.5 521.0,1781.2 521.2,1755.0 521.5,1771.2 521.8,1769.0 522.0,1754.8 522.2,1760.3 522.5,1773.3 522.8,1744.1 523.0,1766.3 523.2,1758.9 523.5,1760.5 523.8,1750.8 524.0,1767.0 524.2,1755.8 524.5,1770.0 524.8,1756.0 525.0,1768.2 525.2,1765.0 525.5,1746.2 525.8,1756.2 526.0,1755.7 526.2,1736.8 526.5,1751.7 526.8,1758.0 527.0,1743.5 527.2,1755.6 527.5,1737.8 527.8,1734.1 528.0,1746.9 528.2,1745.1 528.5,1737.9 528.8,1735.5 529.0,1743.5 529.2,1730.3 529.5,1748.5 529.8,1734.5 530.0,1732.8 530.2,1731.5 530.5,1726.7 530.8,1740.2 531.0,1722.5 531.2,1727.9 531.5,1732.0 531.8,1737.2 532.0,1735.5 532.2,1723.3 532.5,1734.2 532.8,1726.0 533.0,1721.5 533.2,1723.8 533.5,1722.5 533.8,1739.9 534.0,1750.9 534.2,1736.9 534.5,1742.5 534.8,1738.5 535.0,1748.0 535.2,1737.3 535.5,1741.9 535.8,1744.2 536.0,1746.0 536.2,1746.3 536.5,1747.0 536.8,1748.0 537.0,1740.0 537.2,1756.7 537.5,1740.3 537.8,1755.3 538.0,1746.8 538.2,1755.7 538.5,1757.9 538.8,1740.0 539.0,1759.6 539.2,1767.3 539.5,1763.4 539.8,1759.8 540.0,1737.6 540.2,1750.3 540.5,1744.5 540.8,1761.7 541.0,1750.1 541.2,1749.3 541.5,1740.1 541.8,1759.2 542.0,1748.0 542.2,1750.7 542.5,1760.9 542.8,1751.6 543.0,1751.7 543.2,1767.6 543.5,1739.4 543.8,1738.9 544.0,1744.8 544.2,1749.4 544.5,1725.7 544.8,1732.9 545.0,1725.5 545.2,1720.8 545.5,1733.0 545.8,1720.1 546.0,1724.9 546.2,1721.6 546.5,1719.6 546.8,1715.2 547.0,1705.5 547.2,1709.2 547.5,1710.1 547.8,1709.5 548.0,1703.3 548.2,1711.0 548.5,1704.0 548.8,1701.6 549.0,1705.0 549.2,1701.1 549.5,1707.2 549.8,1688.0 550.0,1694.3 550.2,1705.1 550.5,1713.0 550.8,1694.3 551.0,1713.1 551.2,1721.0 551.5,1721.0 551.8,1724.3 552.0,1718.2 552.2,1733.4 552.5,1720.8 552.8,1747.7 553.0,1739.4 553.2,1754.0 553.5,1735.2 553.8,1753.3 554.0,1752.6 554.2,1745.3 554.5,1744.8 554.8,1766.6 555.0,1759.9 555.2,1767.6 555.5,1756.8 555.8,1757.2 556.0,1759.8 556.2,1764.0 556.5,1761.4 556.8,1763.7 557.0,1757.5 557.2,1748.8 557.5,1773.8 557.8,1757.3 558.0,1759.6 558.2,1751.8 558.5,1760.9 558.8,1749.4 559.0,1761.9 559.2,1746.5 559.5,1749.6 559.8,1750.0 560.0,1744.8 560.2,1749.4 560.5,1758.5 560.8,1740.5 561.0,1741.9 561.2,1744.6 561.5,1736.6 561.8,1732.5 562.0,1750.7 562.2,1745.9 562.5,1721.9 562.8,1718.4 563.0,1731.0 563.2,1731.1 563.5,1721.4 563.8,1717.2 564.0,1721.8 564.2,1701.2 564.5,1706.9 564.8,1701.7 565.0,1676.9 565.2,1683.7 565.5,1674.2 565.8,1662.2 566.0,1656.0 566.2,1659.0 566.5,1650.8 566.8,1656.4 567.0,1632.9 567.2,1639.9 567.5,1653.8 567.8,1645.3 568.0,1640.3 568.2,1642.9 568.5,1637.2 568.8,1646.6 569.0,1667.4 569.2,1671.2 569.5,1686.3 569.8,1679.9 570.0,1684.9 570.2,1672.4 570.5,1702.9 570.8,1725.3 571.0,1722.0 571.2,1722.2 571.5,1738.9 571.8,1739.5 572.0,1743.1 572.2,1743.4 572.5,1753.5 572.8,1762.8 573.0,1751.1 573.2,1765.4 573.5,1766.4 573.8,1773.4 574.0,1769.2 574.2,1759.4 574.5,1777.9 574.8,1763.5 575.0,1757.1 575.2,1766.4 575.5,1760.7 575.8,1771.3 576.0,1754.6 576.2,1757.5 576.5,1763.2 576.8,1778.1 577.0,1771.8 577.2,1754.0 577.5,1746.9 577.8,1759.2 578.0,1751.5 578.2,1764.2 578.5,1759.2 578.8,1756.9 579.0,1752.9 579.2,1767.0 579.5,1745.6 579.8,1743.4 580.0,1762.9 580.2,1763.6 580.5,1746.6 580.8,1755.0 581.0,1770.0 581.2,1742.9 581.5,1746.3 581.8,1748.5 582.0,1723.8 582.2,1733.4 582.5,1737.7 582.8,1727.4 583.0,1734.1 583.2,1728.5 583.5,1714.7 583.8,1719.0 584.0,1711.1 584.2,1690.4 584.5,1690.7 584.8,1686.0 585.0,1684.8 585.2,1683.7 585.5,1675.5 585.8,1686.0 586.0,1667.8 586.2,1688.2 586.5,1679.6 586.8,1690.4 587.0,1681.6 587.2,1675.3 587.5,1668.5 587.8,1687.5 588.0,1685.8 588.2,1692.1 588.5,1700.4 588.8,1709.5 589.0,1702.3 589.2,1719.1 589.5,1709.3 589.8,1715.6 590.0,1723.2 590.2,1729.8 590.5,1734.8 590.8,1715.1 591.0,1745.2 591.2,1723.2 591.5,1734.2 591.8,1743.7 592.0,1752.4 592.2,1735.2 592.5,1731.3 592.8,1755.6 593.0,1751.6 593.2,1742.0 593.5,1748.0 593.8,1735.8 594.0,1758.1 594.2,1747.9 594.5,1763.9 594.8,1738.9 595.0,1758.6 595.2,1771.5 595.5,1754.6 595.8,1754.8 596.0,1740.3 596.2,1759.6 596.5,1760.0 596.8,1755.9 597.0,1748.4 597.2,1762.8 597.5,1754.6 597.8,1757.2 598.0,1762.9 598.2,1759.3 598.5,1760.6 598.8,1770.7 599.0,1754.6 599.2,1776.4 599.5,1755.9 599.8,1756.4 600.0,1766.0 600.2,1770.1 600.5,1766.3 600.8,1761.9 601.0,1760.0 601.2,1765.2 601.5,1759.9 601.8,1772.5 602.0,1767.5 602.2,1778.8 602.5,1759.7 602.8,1763.1 603.0,1769.7 603.2,1755.1 603.5,1757.0 603.8,1784.1 604.0,1760.9 604.2,1771.2 604.5,1749.1 604.8,1735.8 605.0,1759.2 605.2,1753.3 605.5,1752.6 605.8,1746.8 606.0,1742.2 606.2,1735.1 606.5,1751.0 606.8,1729.3 607.0,1745.1 607.2,1731.2 607.5,1720.9 607.8,1721.3 608.0,1730.0 608.2,1723.6 608.5,1721.0 608.8,1715.5 609.0,1703.3 609.2,1719.0 609.5,1702.4 609.8,1701.3 610.0,1701.4 610.2,1701.5 610.5,1694.8 610.8,1703.9 611.0,1707.2 611.2,1710.0 611.5,1699.9 611.8,1734.4 612.0,1710.8 612.2,1726.5 612.5,1727.9 612.8,1734.8 613.0,1745.7 613.2,1736.1 613.5,1740.5 613.8,1734.7 614.0,1752.3 614.2,1731.4 614.5,1741.2 614.8,1745.5 615.0,1754.1 615.2,1756.9 615.5,1761.6 615.8,1759.9 616.0,1755.4 616.2,1755.4 616.5,1767.2 616.8,1759.4 617.0,1764.7 617.2,1753.9 617.5,1740.2 617.8,1752.1 618.0,1757.2 618.2,1767.0 618.5,1766.8 618.8,1769.8 619.0,1751.6 619.2,1762.2 619.5,1754.5 619.8,1760.0 620.0,1753.9 620.2,1742.9 620.5,1759.4 620.8,1756.2 621.0,1760.2 621.2,1742.9 621.5,1758.3 621.8,1760.5 622.0,1761.0 622.2,1760.1 622.5,1746.8 622.8,1728.7 623.0,1754.7 623.2,1738.5 623.5,1741.7 623.8,1749.5 624.0,1740.8 624.2,1738.2 624.5,1741.4 624.8,1717.4 625.0,1743.8 625.2,1721.3 625.5,1718.0 625.8,1723.6 626.0,1716.9 626.2,1706.8 626.5,1709.5 626.8,1708.4 627.0,1705.0 627.2,1724.4 627.5,1695.3 627.8,1688.3 628.0,1696.0 628.2,1697.7 628.5,1716.2 628.8,1707.0 629.0,1714.9 629.2,1713.7 629.5,1701.6 629.8,1719.2 630.0,1715.0 630.2,1733.0 630.5,1722.4 630.8,1720.4 631.0,1731.2 631.2,1734.7 631.5,1718.5 631.8,1746.2 632.0,1748.5 632.2,1747.3 632.5,1734.9 632.8,1731.4 633.0,1746.3 633.2,1758.0 633.5,1755.9 633.8,1746.9 634.0,1763.4 634.2,1746.1 634.5,1745.6 634.8,1757.7 635.0,1752.8 635.2,1751.5 635.5,1747.1 635.8,1769.3 636.0,1750.2 636.2,1764.3 636.5,1767.0 636.8,1762.5 637.0,1764.2 637.2,1767.2 637.5,1772.8 637.8,1767.2 638.0,1748.6 638.2,1744.4 638.5,1755.6 638.8,1750.4 639.0,1763.7 639.2,1761.2 639.5,1757.4 639.8,1769.3 640.0,1767.8 640.2,1758.3 640.5,1763.4 640.8,1769.6 641.0,1758.9 641.2,1766.1 641.5,1757.3 641.8,1764.7 642.0,1767.9 642.2,1764.8 642.5,1768.3 642.8,1771.1 643.0,1767.3 643.2,1761.7 643.5,1763.6 643.8,1759.1 644.0,1782.6 644.2,1772.1 644.5,1771.7 644.8,1765.8 645.0,1769.4 645.2,1768.5 645.5,1755.6 645.8,1759.7 646.0,1770.3 646.2,1748.9 646.5,1751.2 646.8,1761.6 647.0,1750.0 647.2,1760.0 647.5,1743.9 647.8,1753.2 648.0,1758.6 648.2,1754.4 648.5,1757.8 648.8,1750.9 649.0,1753.6 649.2,1754.1 649.5,1758.9 649.8,1783.4 650.0,1752.9 650.2,1768.3 650.5,1749.1 650.8,1741.2 651.0,1749.5 651.2,1757.1 651.5,1757.0 651.8,1757.6 652.0,1763.5 652.2,1764.5 652.5,1768.1 652.8,1750.9 653.0,1761.0 653.2,1753.2 653.5,1766.0 653.8,1763.9 654.0,1767.4 654.2,1761.8 654.5,1757.4 654.8,1762.1 655.0,1767.9 655.2,1767.8 655.5,1747.1 655.8,1761.8 656.0,1761.4 656.2,1747.3 656.5,1752.5 656.8,1757.5 657.0,1765.4 657.2,1742.6 657.5,1756.7 657.8,1754.7 658.0,1760.8 658.2,1768.2 658.5,1768.1 658.8,1754.1 659.0,1755.5 659.2,1761.7 659.5,1769.9 659.8,1771.9 660.0,1762.5 660.2,1768.5 660.5,1751.5 660.8,1750.9 661.0,1739.9 661.2,1756.9 661.5,1768.2 661.8,1774.1 662.0,1795.8 662.2,1773.6 662.5,1770.3 662.8,1760.3 663.0,1765.0 663.2,1763.0 663.5,1766.4 663.8,1764.1 664.0,1756.1 664.2,1775.2 664.5,1771.2 664.8,1777.0 665.0,1752.9 665.2,1754.2 665.5,1756.8 665.8,1772.8 666.0,1760.3 666.2,1763.4 666.5,1763.1 666.8,1764.3 667.0,1757.8 667.2,1763.3 667.5,1752.2 667.8,1756.0 668.0,1757.9 668.2,1756.1 668.5,1758.2 668.8,1747.3 669.0,1755.0 669.2,1748.1 669.5,1755.4 669.8,1763.2 670.0,1741.6 670.2,1759.3 670.5,1744.3 670.8,1744.2 671.0,1761.2 671.2,1753.9 671.5,1750.2 671.8,1753.8 672.0,1754.5 672.2,1739.8 672.5,1747.4 672.8,1741.2 673.0,1745.6 673.2,1740.1 673.5,1748.9 673.8,1742.7 674.0,1737.7 674.2,1742.9 674.5,1745.8 674.8,1751.8 675.0,1743.4 675.2,1742.5 675.5,1747.9 675.8,1750.4 676.0,1739.5 676.2,1724.6 676.5,1745.4 676.8,1740.7 677.0,1742.5 677.2,1766.1 677.5,1746.1 677.8,1753.8 678.0,1736.6 678.2,1751.4 678.5,1756.1 678.8,1753.3 679.0,1749.9 679.2,1757.1 679.5,1753.4 679.8,1762.8 680.0,1753.6 680.2,1746.9 680.5,1736.7 680.8,1748.0 681.0,1753.3 681.2,1747.3 681.5,1747.5 681.8,1745.1 682.0,1751.2 682.2,1760.5 682.5,1759.0 682.8,1759.2 683.0,1757.7 683.2,1757.1 683.5,1763.3 683.8,1773.6 684.0,1762.7 684.2,1772.6 684.5,1755.8 684.8,1757.3 685.0,1770.8 685.2,1750.1 685.5,1749.2 685.8,1755.5 686.0,1743.9 686.2,1742.8 686.5,1767.1 686.8,1749.5 687.0,1753.8 687.2,1753.2 687.5,1747.8 687.8,1762.3 688.0,1757.4 688.2,1758.7 688.5,1757.7 688.8,1751.5 689.0,1764.0 689.2,1763.9 689.5,1751.9 689.8,1761.6 690.0,1758.9 690.2,1774.7 690.5,1766.0 690.8,1762.6 691.0,1756.9 691.2,1762.0 691.5,1752.6 691.8,1760.4 692.0,1758.5 692.2,1755.9 692.5,1751.2 692.8,1760.7 693.0,1747.7 693.2,1752.1 693.5,1754.4 693.8,1754.4 694.0,1750.5 694.2,1748.3 694.5,1751.1 694.8,1757.5 695.0,1755.8 695.2,1760.8 695.5,1751.4 695.8,1761.9 696.0,1776.6 696.2,1749.6 696.5,1762.1 696.8,1774.4 697.0,1766.0 697.2,1770.8 697.5,1745.3 697.8,1755.6 698.0,1771.8 698.2,1755.5 698.5,1765.0 698.8,1744.5 699.0,1767.4 699.2,1776.5 699.5,1757.9 699.8,1759.7 700.0,1759.2 700.2,1775.4 700.5,1755.4 700.8,1744.6 701.0,1773.4 701.2,1749.0 701.5,1763.1 701.8,1739.6 702.0,1754.8 702.2,1759.9 702.5,1750.6 702.8,1754.6 703.0,1763.6 703.2,1755.9 703.5,1766.2 703.8,1776.7 704.0,1748.2 704.2,1767.3 704.5,1767.8 704.8,1759.8 705.0,1777.4 705.2,1776.8 705.5,1771.0 705.8,1771.0 706.0,1767.2 706.2,1760.8 706.5,1769.9 706.8,1761.9 707.0,1761.0 707.2,1774.4 707.5,1762.2 707.8,1770.9 708.0,1753.5 708.2,1757.0 708.5,1763.1 708.8,1772.0 709.0,1758.8 709.2,1762.1 709.5,1749.3 709.8,1757.3 710.0,1762.3 710.2,1749.0 710.5,1752.3 710.8,1765.6 711.0,1750.9 711.2,1760.2 711.5,1758.9 711.8,1755.8 712.0,1760.2 712.2,1758.2 712.5,1755.2 712.8,1744.8 713.0,1743.7 713.2,1757.0 713.5,1740.9 713.8,1753.8 714.0,1751.9 714.2,1748.2 714.5,1755.9 714.8,1734.8 715.0,1751.6 715.2,1764.6 715.5,1746.5 715.8,1760.0 716.0,1755.8 716.2,1777.5 716.5,1744.9 716.8,1745.1 717.0,1746.1 717.2,1746.3 717.5,1741.7 717.8,1756.6 718.0,1747.6 718.2,1762.8 718.5,1758.1 718.8,1746.4 719.0,1749.7 719.2,1764.6 719.5,1751.5 719.8,1756.3 720.0,1763.1 720.2,1751.8 720.5,1760.0 720.8,1766.6 721.0,1763.9 721.2,1740.6 721.5,1766.4 721.8,1753.5 722.0,1749.6 722.2,1750.7 722.5,1766.0 722.8,1758.7 723.0,1753.5 723.2,1745.9 723.5,1756.6 723.8,1762.3 724.0,1745.2 724.2,1744.3 724.5,1749.1 724.8,1757.0 725.0,1749.2 725.2,1751.1 725.5,1745.5 725.8,1762.2 726.0,1751.6 726.2,1753.6 726.5,1761.4 726.8,1749.1 727.0,1751.7 727.2,1756.4 727.5,1750.8 727.8,1764.0 728.0,1752.7 728.2,1751.0 728.5,1751.9 728.8,1747.3 729.0,1767.8 729.2,1771.7 729.5,1759.2 729.8,1758.0 730.0,1743.7 730.2,1755.0 730.5,1767.2 730.8,1756.2 731.0,1770.2 731.2,1774.6 731.5,1742.1 731.8,1759.3 732.0,1755.5 732.2,1760.1 732.5,1749.7 732.8,1763.1 733.0,1755.9 733.2,1775.2 733.5,1775.5 733.8,1752.9 734.0,1754.5 734.2,1761.4 734.5,1763.0 734.8,1764.6 735.0,1769.4 735.2,1749.8 735.5,1757.8 735.8,1758.9 736.0,1759.8 736.2,1755.0 736.5,1758.4 736.8,1757.3 737.0,1770.3 737.2,1755.5 737.5,1743.6 737.8,1766.1 738.0,1762.7 738.2,1755.4 738.5,1752.8 738.8,1754.3 739.0,1770.0 739.2,1754.7 739.5,1766.0 739.8,1764.5 740.0,1754.0 740.2,1760.5 740.5,1752.1 740.8,1732.0 741.0,1749.6 741.2,1751.5 741.5,1762.5 741.8,1760.3 742.0,1762.4 742.2,1757.8 742.5,1760.0 742.8,1757.5 743.0,1751.7 743.2,1759.8 743.5,1763.1 743.8,1761.3 744.0,1744.8 744.2,1749.8 744.5,1740.7 744.8,1738.8 745.0,1749.9 745.2,1744.3 745.5,1759.3 745.8,1731.5 746.0,1741.6 746.2,1752.0 746.5,1760.7 746.8,1746.6 747.0,1765.9 747.2,1757.6 747.5,1744.3 747.8,1750.8 748.0,1754.3 748.2,1743.8 748.5,1760.0 748.8,1749.5 749.0,1755.0 749.2,1757.6 749.5,1746.7 749.8,1759.5 750.0,1738.4 750.2,1759.8 750.5,1737.6 750.8,1763.9 751.0,1750.0 751.2,1763.3 751.5,1763.8 751.8,1751.1 752.0,1745.2 752.2,1761.2 752.5,1742.7 752.8,1757.4 753.0,1750.9 753.2,1749.5 753.5,1748.4 753.8,1768.6 754.0,1741.7 754.2,1749.8 754.5,1756.4 754.8,1760.3 755.0,1766.5 755.2,1764.7 755.5,1750.6 755.8,1758.0 756.0,1762.6 756.2,1758.5 756.5,1742.6 756.8,1758.3 757.0,1758.8 757.2,1745.2 757.5,1753.3 757.8,1755.8 758.0,1762.6 758.2,1772.3 758.5,1767.9 758.8,1763.1 759.0,1760.0 759.2,1756.7 759.5,1752.5 759.8,1754.6 760.0,1754.4 760.2,1764.7 760.5,1775.1 760.8,1762.6 761.0,1765.4 761.2,1763.3 761.5,1759.6 761.8,1768.4 762.0,1767.2 762.2,1758.3 762.5,1755.5 762.8,1760.3 763.0,1750.2 763.2,1758.9 763.5,1765.7 763.8,1758.5 764.0,1743.7 764.2,1764.1 764.5,1747.6 764.8,1744.9 765.0,1742.6 765.2,1761.6 765.5,1738.4 765.8,1754.2 766.0,1758.1 766.2,1755.4 766.5,1748.6 766.8,1752.7 767.0,1754.3 767.2,1743.6 767.5,1761.5 767.8,1764.7 768.0,1750.4 768.2,1752.3 768.5,1750.7 768.8,1767.5 769.0,1751.1 769.2,1757.5 769.5,1743.4 769.8,1766.2 770.0,1754.7 770.2,1760.7 770.5,1771.7 770.8,1764.4 771.0,1750.4 771.2,1762.3 771.5,1764.4 771.8,1751.2 772.0,1751.1 772.2,1750.4 772.5,1766.0 772.8,1759.1 773.0,1748.8 773.2,1763.5 773.5,1766.5 773.8,1752.7 774.0,1746.8 774.2,1769.6 774.5,1780.8 774.8,1772.0 775.0,1768.2 775.2,1762.7 775.5,1754.6 775.8,1761.2 776.0,1765.8 776.2,1756.5 776.5,1763.0 776.8,1756.0 777.0,1758.2 777.2,1732.5 777.5,1748.7 777.8,1763.2 778.0,1764.5 778.2,1761.7 778.5,1771.3 778.8,1763.2 779.0,1763.8 779.2,1751.9 779.5,1760.3 779.8,1762.3 780.0,1765.0 780.2,1764.3 780.5,1752.7 780.8,1753.4 781.0,1742.9 781.2,1756.5 781.5,1742.7 781.8,1751.4 782.0,1754.5 782.2,1770.4 782.5,1767.1 782.8,1752.9 783.0,1747.2 783.2,1759.5 783.5,1754.0 783.8,1763.0 784.0,1762.3 784.2,1764.7 784.5,1751.6 784.8,1759.6 785.0,1765.4 785.2,1768.0 785.5,1761.6 785.8,1766.2 786.0,1774.0 786.2,1755.8 786.5,1766.9 786.8,1769.6 787.0,1759.2 787.2,1764.5 787.5,1772.9 787.8,1766.8 788.0,1778.3 788.2,1773.5 788.5,1786.1 788.8,1756.8 789.0,1781.2 789.2,1759.8 789.5,1772.2 789.8,1774.5 790.0,1766.4 790.2,1763.9 790.5,1760.9 790.8,1749.9 791.0,1758.2 791.2,1754.9 791.5,1765.3 791.8,1754.4 792.0,1758.7 792.2,1764.4 792.5,1760.7 792.8,1761.2 793.0,1758.1 793.2,1756.2 793.5,1761.5 793.8,1764.5 794.0,1752.6 794.2,1772.8 794.5,1765.8 794.8,1749.7 795.0,1784.9 795.2,1769.5 795.5,1758.5 795.8,1776.1 796.0,1740.2 796.2,1784.2 796.5,1750.0 796.8,1751.0 797.0,1758.8 797.2,1768.9 797.5,1764.0 797.8,1775.4 798.0,1763.1 798.2,1777.0 798.5,1771.0 798.8,1762.1 799.0,1776.1 799.2,1770.7 799.5,1765.7 799.8,1777.5 800.0,1757.7 800.2,1763.1 800.5,1779.6 800.8,1769.4 801.0,1774.4 801.2,1773.5 801.5,1765.4 801.8,1773.4 802.0,1761.5 802.2,1775.8 802.5,1761.2 802.8,1768.5 803.0,1759.4 803.2,1766.2 803.5,1765.5 803.8,1769.9 804.0,1753.7 804.2,1749.4 804.5,1740.8 804.8,1747.1 805.0,1754.4 805.2,1761.5 805.5,1757.5 805.8,1762.1 806.0,1750.5 806.2,1755.5 806.5,1769.3 806.8,1764.9 807.0,1746.0 807.2,1754.6 807.5,1758.8 807.8,1747.6 808.0,1758.5 808.2,1756.3 808.5,1758.8 808.8,1770.3 809.0,1749.5 809.2,1766.3 809.5,1765.1 809.8,1766.7 810.0,1754.7 810.2,1762.3 810.5,1761.8 810.8,1774.3 811.0,1761.2 811.2,1770.5 811.5,1757.5 811.8,1755.9 812.0,1756.9 812.2,1742.4 812.5,1754.2 812.8,1754.9 813.0,1761.3 813.2,1765.7 813.5,1755.6 813.8,1754.3 814.0,1774.3 814.2,1756.5 814.5,1761.1 814.8,1755.7 815.0,1760.4 815.2,1775.5 815.5,1774.4 815.8,1748.7 816.0,1761.5 816.2,1774.0 816.5,1761.1 816.8,1764.5 817.0,1777.8 817.2,1779.7 817.5,1775.5 817.8,1759.4 818.0,1762.5 818.2,1764.3 818.5,1757.9 818.8,1753.0 819.0,1776.4 819.2,1760.5 819.5,1763.3 819.8,1767.4 820.0,1762.5 820.2,1760.6 820.5,1760.1 820.8,1777.6 821.0,1763.3 821.2,1744.9 821.5,1766.1 821.8,1773.3 822.0,1757.5 822.2,1754.9 822.5,1759.1 822.8,1769.9 823.0,1755.0 823.2,1767.2 823.5,1769.3 823.8,1765.2 824.0,1758.9 824.2,1751.4 824.5,1752.9 824.8,1759.5 825.0,1751.3 825.2,1757.6 825.5,1751.6 825.8,1771.0 826.0,1772.3 826.2,1753.1 826.5,1768.8 826.8,1759.6 827.0,1759.1 827.2,1762.8 827.5,1761.1 827.8,1749.1 828.0,1779.5 828.2,1751.2 828.5,1736.8 828.8,1752.8 829.0,1754.3 829.2,1747.4 829.5,1742.3 829.8,1769.3 830.0,1757.4 830.2,1759.9 830.5,1756.4 830.8,1760.7 831.0,1755.0 831.2,1765.3 831.5,1761.7 831.8,1767.1 832.0,1767.3 832.2,1764.9 832.5,1763.5 832.8,1773.1 833.0,1753.4 833.2,1768.0 833.5,1776.4 833.8,1757.4 834.0,1770.1 834.2,1759.6 834.5,1764.0 834.8,1764.5 835.0,1766.2 835.2,1773.1 835.5,1770.0 835.8,1751.1 836.0,1781.6 836.2,1765.9 836.5,1764.7 836.8,1774.9 837.0,1775.3 837.2,1748.6 837.5,1768.7 837.8,1750.1 838.0,1763.2 838.2,1765.4 838.5,1758.6 838.8,1758.3 839.0,1753.6 839.2,1758.1 839.5,1758.0 839.8,1757.5 840.0,1748.0 840.2,1752.6 840.5,1765.9 840.8,1764.8 841.0,1758.0 841.2,1764.4 841.5,1760.2 841.8,1762.7 842.0,1757.8 842.2,1756.0 842.5,1750.6 842.8,1758.5 843.0,1743.2 843.2,1761.5 843.5,1735.1 843.8,1751.6 844.0,1755.3 844.2,1763.0 844.5,1783.1 844.8,1761.9 845.0,1758.8 845.2,1744.9 845.5,1771.0 845.8,1745.7 846.0,1763.9 846.2,1753.9 846.5,1779.6 846.8,1757.4 847.0,1759.4 847.2,1749.1 847.5,1754.2 847.8,1765.5 848.0,1749.0 848.2,1751.1 848.5,1750.5 848.8,1746.8 849.0,1745.7 849.2,1754.7 849.5,1764.2 849.8,1762.6 850.0,1742.1 850.2,1745.6 850.5,1749.0 850.8,1753.5 851.0,1751.6 851.2,1753.0 851.5,1754.4 851.8,1757.8 852.0,1735.4 852.2,1752.1 852.5,1760.4 852.8,1765.7 853.0,1763.1 853.2,1753.1 853.5,1752.9 853.8,1762.1 854.0,1758.8 854.2,1761.8 854.5,1769.0 854.8,1751.2 855.0,1758.4 855.2,1741.0 855.5,1766.1 855.8,1761.6 856.0,1754.5 856.2,1764.1 856.5,1774.4 856.8,1771.8 857.0,1761.5 857.2,1757.8 857.5,1761.1 857.8,1752.4 858.0,1751.9 858.2,1756.9 858.5,1757.1 858.8,1758.3 859.0,1751.1 859.2,1748.9 859.5,1754.8 859.8,1752.4 860.0,1757.6 860.2,1765.2 860.5,1761.7 860.8,1747.8 861.0,1749.8 861.2,1740.6 861.5,1754.2 861.8,1746.6 862.0,1743.2 862.2,1745.9 862.5,1757.5 862.8,1751.6 863.0,1749.5 863.2,1759.9 863.5,1747.8 863.8,1743.1 864.0,1756.7 864.2,1739.2 864.5,1756.2 864.8,1755.7 865.0,1756.4 865.2,1761.7 865.5,1751.8 865.8,1756.4 866.0,1743.9 866.2,1751.7 866.5,1753.2 866.8,1758.5 867.0,1767.8 867.2,1757.4 867.5,1764.7 867.8,1747.5 868.0,1757.4 868.2,1743.0 868.5,1749.2 868.8,1748.9 869.0,1754.8 869.2,1757.1 869.5,1753.6 869.8,1754.8 870.0,1767.2 870.2,1757.0 870.5,1739.3 870.8,1761.2 871.0,1762.4 871.2,1766.9 871.5,1773.6 871.8,1753.8 872.0,1762.2 872.2,1757.5 872.5,1746.2 872.8,1740.6 873.0,1770.0 873.2,1752.9 873.5,1755.4 873.8,1756.4 874.0,1758.9 874.2,1762.2 874.5,1748.8 874.8,1758.3 875.0,1759.7 875.2,1753.7 875.5,1756.2 875.8,1758.9 876.0,1758.0 876.2,1747.3 876.5,1757.6 876.8,1761.4 877.0,1769.0 877.2,1764.9 877.5,1770.3 877.8,1762.8 878.0,1760.3 878.2,1779.2 878.5,1765.6 878.8,1759.4 879.0,1764.2 879.2,1772.1 879.5,1754.0 879.8,1770.0 880.0,1775.6 880.2,1773.3 880.5,1763.4 880.8,1756.8 881.0,1755.9 881.2,1764.3 881.5,1774.5 881.8,1768.1 882.0,1769.9 882.2,1765.2 882.5,1777.7 882.8,1762.5 883.0,1758.5 883.2,1766.4 883.5,1762.1 883.8,1774.4 884.0,1774.8 884.2,1766.6 884.5,1750.0 884.8,1749.3 885.0,1762.1 885.2,1747.4 885.5,1760.4 885.8,1746.1 886.0,1755.4 886.2,1761.9 886.5,1750.8 886.8,1762.5 887.0,1763.5 887.2,1764.6 887.5,1748.1 887.8,1752.4 888.0,1752.8 888.2,1757.1 888.5,1741.6 888.8,1756.8 889.0,1759.0 889.2,1742.2 889.5,1737.8 889.8,1746.0 890.0,1761.3 890.2,1753.4 890.5,1745.1 890.8,1751.0 891.0,1739.5 891.2,1761.9 891.5,1747.7 891.8,1757.2 892.0,1740.5 892.2,1750.6 892.5,1742.5 892.8,1755.1 893.0,1763.3 893.2,1763.8 893.5,1762.2 893.8,1767.7 894.0,1748.2 894.2,1745.9 894.5,1752.8 894.8,1763.0 895.0,1757.1 895.2,1762.7 895.5,1746.3 895.8,1755.7 896.0,1755.6 896.2,1763.3 896.5,1775.8 896.8,1767.9 897.0,1773.2 897.2,1761.5 897.5,1764.0 897.8,1770.3 898.0,1770.1 898.2,1756.1 898.5,1777.8 898.8,1775.4 899.0,1771.4 899.2,1774.5 899.5,1769.4 899.8,1761.5 900.0,1752.5 900.2,1780.9 900.5,1768.1 900.8,1768.2 901.0,1769.3 901.2,1768.1 901.5,1768.3 901.8,1757.7 902.0,1770.1 902.2,1766.3" fill="none" stroke="#000" stroke-width="2.1" stroke-linejoin="round" stroke-linecap="round"/>
<rect x="258.8" y="1058.4" width="103.1" height="737.4" fill="rgb(64,90,177)" fill-opacity="0.31"/>
<rect x="361.9" y="1058.4" width="154.4" height="737.4" fill="rgb(131,80,131)" fill-opacity="0.51"/>
<rect x="516.3" y="1058.4" width="129.5" height="737.4" fill="rgb(230,68,98)" fill-opacity="0.31"/>
<path d="M264.30 1058.66L264.39 1057.67L264.52 1056.76L264.68 1055.87L264.88 1055.00L265.11 1054.16L265.37 1053.35L265.65 1052.56L265.97 1051.81L266.31 1051.08L266.67 1050.39L267.05 1049.73L267.46 1049.10L267.88 1048.51L268.31 1047.96L268.76 1047.44L269.22 1046.96L269.68 1046.52L270.16 1046.12L270.64 1045.76L271.12 1045.43L271.61 1045.15L272.09 1044.91L272.57 1044.70L273.05 1044.53L273.53 1044.40L274.01 1044.30L274.48 1044.23L274.96 1044.20L275.49 1044.20L277.94 1044.25L280.43 1044.29L282.92 1044.30L285.41 1044.29L287.89 1044.26L290.38 1044.22L292.87 1044.17L295.36 1044.11L297.89 1044.05L298.95 1043.98L300.03 1043.83L301.09 1043.59L302.12 1043.27L303.11 1042.87L304.06 1042.41L304.98 1041.87L305.85 1041.28L306.68 1040.63L307.47 1039.93L308.22 1039.18L308.93 1038.39L309.59 1037.55L310.22 1036.67L310.80 1035.75L311.35 1034.80L311.85 1033.82L312.31 1032.80L312.73 1031.75L313.11 1030.68L313.45 1029.58L313.75 1028.45L314.00 1027.30L314.20 1026.13L314.37 1024.93L314.48 1023.72L314.55 1022.50L314.58 1021.25L314.55 1020.06L308.35 1019.94L308.28 1021.02L308.18 1022.01L308.04 1022.98L307.86 1023.93L307.66 1024.86L307.42 1025.76L307.16 1026.63L306.86 1027.46L306.55 1028.27L306.20 1029.05L305.84 1029.78L305.45 1030.49L305.05 1031.15L304.63 1031.77L304.20 1032.35L303.75 1032.89L303.30 1033.39L302.84 1033.84L302.37 1034.24L301.90 1034.60L301.44 1034.92L300.97 1035.19L300.52 1035.41L300.06 1035.60L299.61 1035.74L299.17 1035.85L298.73 1035.92L298.29 1035.95L297.81 1035.95L295.36 1035.89L292.87 1035.83L290.38 1035.78L287.89 1035.74L285.41 1035.71L282.92 1035.70L280.43 1035.71L277.94 1035.75L275.41 1035.80L274.35 1035.86L273.26 1036.00L272.20 1036.22L271.16 1036.52L270.16 1036.89L269.19 1037.33L268.26 1037.83L267.37 1038.38L266.51 1039.00L265.70 1039.66L264.93 1040.37L264.20 1041.13L263.52 1041.93L262.87 1042.77L262.27 1043.65L261.72 1044.55L261.20 1045.50L260.73 1046.47L260.31 1047.47L259.93 1048.49L259.59 1049.55L259.30 1050.62L259.06 1051.71L258.86 1052.82L258.71 1053.95L258.61 1055.10L258.56 1056.25L258.55 1057.42L258.60 1058.54Z" fill="#3b5ba4"/><path d="M358.60 1058.66L358.51 1057.67L358.38 1056.76L358.22 1055.87L358.02 1055.00L357.79 1054.16L357.53 1053.35L357.25 1052.56L356.93 1051.81L356.59 1051.08L356.23 1050.39L355.85 1049.73L355.44 1049.10L355.02 1048.51L354.59 1047.96L354.14 1047.44L353.68 1046.96L353.22 1046.52L352.74 1046.12L352.26 1045.76L351.78 1045.43L351.29 1045.15L350.81 1044.91L350.33 1044.70L349.85 1044.53L349.37 1044.40L348.89 1044.30L348.42 1044.23L347.94 1044.20L347.41 1044.20L344.96 1044.25L342.47 1044.29L339.98 1044.30L337.49 1044.29L335.01 1044.26L332.52 1044.22L330.03 1044.17L327.54 1044.11L325.01 1044.05L323.95 1043.98L322.87 1043.83L321.81 1043.59L320.78 1043.27L319.79 1042.87L318.84 1042.41L317.92 1041.87L317.05 1041.28L316.22 1040.63L315.43 1039.93L314.68 1039.18L313.97 1038.39L313.31 1037.55L312.68 1036.67L312.10 1035.75L311.55 1034.80L311.05 1033.82L310.59 1032.80L310.17 1031.75L309.79 1030.68L309.45 1029.58L309.15 1028.45L308.90 1027.30L308.70 1026.13L308.53 1024.93L308.42 1023.72L308.35 1022.50L308.32 1021.25L308.35 1020.06L314.55 1019.94L314.62 1021.02L314.72 1022.01L314.86 1022.98L315.04 1023.93L315.24 1024.86L315.48 1025.76L315.74 1026.63L316.04 1027.46L316.35 1028.27L316.70 1029.05L317.06 1029.78L317.45 1030.49L317.85 1031.15L318.27 1031.77L318.70 1032.35L319.15 1032.89L319.60 1033.39L320.06 1033.84L320.53 1034.24L321.00 1034.60L321.46 1034.92L321.93 1035.19L322.38 1035.41L322.84 1035.60L323.29 1035.74L323.73 1035.85L324.17 1035.92L324.61 1035.95L325.09 1035.95L327.54 1035.89L330.03 1035.83L332.52 1035.78L335.01 1035.74L337.49 1035.71L339.98 1035.70L342.47 1035.71L344.96 1035.75L347.49 1035.80L348.55 1035.86L349.64 1036.00L350.70 1036.22L351.74 1036.52L352.74 1036.89L353.71 1037.33L354.64 1037.83L355.53 1038.38L356.39 1039.00L357.20 1039.66L357.97 1040.37L358.70 1041.13L359.38 1041.93L360.03 1042.77L360.63 1043.65L361.18 1044.55L361.70 1045.50L362.17 1046.47L362.59 1047.47L362.97 1048.49L363.31 1049.55L363.60 1050.62L363.84 1051.71L364.04 1052.82L364.19 1053.95L364.29 1055.10L364.34 1056.25L364.35 1057.42L364.30 1058.54Z" fill="#3b5ba4"/>
<path d="M372.10 1058.69L372.24 1057.21L372.43 1055.86L372.68 1054.53L372.99 1053.25L373.34 1052.00L373.74 1050.79L374.19 1049.62L374.68 1048.49L375.21 1047.41L375.78 1046.37L376.38 1045.39L377.01 1044.45L377.67 1043.56L378.36 1042.73L379.07 1041.95L379.80 1041.22L380.55 1040.55L381.32 1039.93L382.09 1039.38L382.88 1038.88L383.67 1038.44L384.47 1038.05L385.28 1037.72L386.09 1037.45L386.90 1037.23L387.71 1037.06L388.53 1036.95L389.36 1036.90L390.25 1036.89L393.67 1036.96L397.14 1036.99L400.62 1037.00L404.09 1036.97L407.56 1036.92L411.03 1036.86L414.51 1036.79L417.98 1036.71L421.50 1036.62L423.05 1036.52L424.62 1036.31L426.15 1035.99L427.65 1035.55L429.10 1035.01L430.50 1034.37L431.85 1033.64L433.15 1032.83L434.39 1031.93L435.57 1030.96L436.69 1029.92L437.76 1028.81L438.76 1027.64L439.71 1026.41L440.60 1025.12L441.43 1023.79L442.19 1022.40L442.90 1020.97L443.54 1019.49L444.13 1017.97L444.64 1016.42L445.10 1014.83L445.48 1013.20L445.80 1011.55L446.05 1009.86L446.24 1008.15L446.35 1006.42L446.39 1004.67L446.35 1002.99L437.95 1002.81L437.85 1004.32L437.69 1005.71L437.49 1007.07L437.23 1008.39L436.92 1009.68L436.56 1010.94L436.16 1012.15L435.72 1013.32L435.24 1014.45L434.73 1015.53L434.17 1016.56L433.59 1017.55L432.98 1018.48L432.34 1019.35L431.68 1020.17L431.00 1020.93L430.30 1021.63L429.58 1022.27L428.86 1022.86L428.13 1023.37L427.39 1023.83L426.65 1024.23L425.91 1024.57L425.17 1024.84L424.43 1025.06L423.69 1025.23L422.95 1025.33L422.20 1025.39L421.40 1025.38L417.98 1025.29L414.51 1025.21L411.03 1025.14L407.56 1025.08L404.09 1025.03L400.62 1025.00L397.14 1025.01L393.67 1025.04L390.15 1025.11L388.54 1025.19L386.91 1025.39L385.31 1025.71L383.75 1026.13L382.23 1026.66L380.76 1027.29L379.35 1028.00L377.98 1028.81L376.67 1029.70L375.43 1030.66L374.24 1031.70L373.11 1032.80L372.05 1033.97L371.05 1035.20L370.11 1036.49L369.24 1037.83L368.44 1039.21L367.70 1040.65L367.03 1042.12L366.43 1043.64L365.90 1045.19L365.44 1046.78L365.05 1048.40L364.74 1050.05L364.50 1051.72L364.33 1053.41L364.25 1055.13L364.23 1056.86L364.30 1058.51Z" fill="#8954a0"/><path d="M512.20 1058.69L512.06 1057.21L511.87 1055.86L511.62 1054.53L511.31 1053.25L510.96 1052.00L510.56 1050.79L510.11 1049.62L509.62 1048.49L509.09 1047.41L508.52 1046.37L507.92 1045.39L507.29 1044.45L506.63 1043.56L505.94 1042.73L505.23 1041.95L504.50 1041.22L503.75 1040.55L502.98 1039.93L502.21 1039.38L501.42 1038.88L500.63 1038.44L499.83 1038.05L499.02 1037.72L498.21 1037.45L497.40 1037.23L496.59 1037.06L495.77 1036.95L494.94 1036.90L494.05 1036.89L490.63 1036.96L487.16 1036.99L483.68 1037.00L480.21 1036.97L476.74 1036.92L473.27 1036.86L469.79 1036.79L466.32 1036.71L462.80 1036.62L461.25 1036.52L459.68 1036.31L458.15 1035.99L456.65 1035.55L455.20 1035.01L453.80 1034.37L452.45 1033.64L451.15 1032.83L449.91 1031.93L448.73 1030.96L447.61 1029.92L446.54 1028.81L445.54 1027.64L444.59 1026.41L443.70 1025.12L442.87 1023.79L442.11 1022.40L441.40 1020.97L440.76 1019.49L440.17 1017.97L439.66 1016.42L439.20 1014.83L438.82 1013.20L438.50 1011.55L438.25 1009.86L438.06 1008.15L437.95 1006.42L437.91 1004.67L437.95 1002.99L446.35 1002.81L446.45 1004.32L446.61 1005.71L446.81 1007.07L447.07 1008.39L447.38 1009.68L447.74 1010.94L448.14 1012.15L448.58 1013.32L449.06 1014.45L449.57 1015.53L450.13 1016.56L450.71 1017.55L451.32 1018.48L451.96 1019.35L452.62 1020.17L453.30 1020.93L454.00 1021.63L454.72 1022.27L455.44 1022.86L456.17 1023.37L456.91 1023.83L457.65 1024.23L458.39 1024.57L459.13 1024.84L459.87 1025.06L460.61 1025.23L461.35 1025.33L462.10 1025.39L462.90 1025.38L466.32 1025.29L469.79 1025.21L473.27 1025.14L476.74 1025.08L480.21 1025.03L483.68 1025.00L487.16 1025.01L490.63 1025.04L494.15 1025.11L495.76 1025.19L497.39 1025.39L498.99 1025.71L500.55 1026.13L502.07 1026.66L503.54 1027.29L504.95 1028.00L506.32 1028.81L507.63 1029.70L508.87 1030.66L510.06 1031.70L511.19 1032.80L512.25 1033.97L513.25 1035.20L514.19 1036.49L515.06 1037.83L515.86 1039.21L516.60 1040.65L517.27 1042.12L517.87 1043.64L518.40 1045.19L518.86 1046.78L519.25 1048.40L519.56 1050.05L519.80 1051.72L519.97 1053.41L520.05 1055.13L520.07 1056.86L520.00 1058.51Z" fill="#8954a0"/>
<path d="M525.20 1058.67L525.36 1057.45L525.57 1056.33L525.83 1055.24L526.15 1054.18L526.51 1053.16L526.92 1052.18L527.36 1051.23L527.85 1050.32L528.38 1049.44L528.93 1048.61L529.52 1047.81L530.15 1047.06L530.79 1046.34L531.47 1045.67L532.16 1045.04L532.88 1044.46L533.62 1043.92L534.37 1043.42L535.14 1042.97L535.93 1042.56L536.72 1042.19L537.53 1041.87L538.35 1041.60L539.17 1041.37L540.01 1041.19L540.85 1041.06L541.71 1040.97L542.57 1040.92L543.50 1040.93L546.15 1040.98L548.85 1041.00L551.55 1040.99L554.25 1040.94L556.95 1040.88L559.65 1040.81L562.35 1040.73L565.05 1040.64L567.80 1040.54L569.07 1040.45L570.37 1040.26L571.63 1039.97L572.86 1039.58L574.04 1039.11L575.18 1038.55L576.28 1037.91L577.32 1037.20L578.31 1036.43L579.26 1035.59L580.15 1034.70L580.99 1033.75L581.78 1032.75L582.52 1031.70L583.21 1030.62L583.86 1029.48L584.45 1028.31L584.99 1027.11L585.48 1025.87L585.92 1024.59L586.31 1023.29L586.64 1021.95L586.92 1020.59L587.15 1019.21L587.32 1017.80L587.44 1016.38L587.50 1014.93L587.51 1013.47L587.45 1012.06L581.05 1011.94L580.94 1013.22L580.79 1014.41L580.60 1015.57L580.36 1016.71L580.09 1017.81L579.78 1018.88L579.44 1019.91L579.06 1020.91L578.65 1021.86L578.22 1022.78L577.75 1023.66L577.27 1024.48L576.76 1025.27L576.23 1026.00L575.69 1026.69L575.13 1027.32L574.56 1027.90L573.98 1028.43L573.40 1028.91L572.82 1029.33L572.24 1029.70L571.66 1030.01L571.09 1030.27L570.52 1030.49L569.96 1030.65L569.40 1030.77L568.85 1030.84L568.30 1030.87L567.70 1030.86L565.05 1030.76L562.35 1030.67L559.65 1030.59L556.95 1030.52L554.25 1030.46L551.55 1030.41L548.85 1030.40L546.15 1030.42L543.40 1030.47L541.94 1030.55L540.46 1030.72L539.00 1030.99L537.58 1031.34L536.19 1031.77L534.85 1032.29L533.54 1032.89L532.28 1033.56L531.08 1034.30L529.92 1035.10L528.81 1035.97L527.76 1036.90L526.77 1037.89L525.83 1038.92L524.96 1040.01L524.14 1041.14L523.39 1042.32L522.71 1043.53L522.08 1044.78L521.53 1046.06L521.04 1047.37L520.62 1048.71L520.27 1050.08L519.99 1051.46L519.79 1052.86L519.65 1054.28L519.59 1055.71L519.61 1057.15L519.70 1058.53Z" fill="#ec1c24"/><path d="M643.30 1058.67L643.14 1057.45L642.93 1056.33L642.67 1055.24L642.35 1054.18L641.99 1053.16L641.58 1052.18L641.14 1051.23L640.65 1050.32L640.12 1049.44L639.57 1048.61L638.98 1047.81L638.35 1047.06L637.71 1046.34L637.03 1045.67L636.34 1045.04L635.62 1044.46L634.88 1043.92L634.13 1043.42L633.36 1042.97L632.57 1042.56L631.78 1042.19L630.97 1041.87L630.15 1041.60L629.33 1041.37L628.49 1041.19L627.65 1041.06L626.79 1040.97L625.93 1040.92L625.00 1040.93L622.35 1040.98L619.65 1041.00L616.95 1040.99L614.25 1040.94L611.55 1040.88L608.85 1040.81L606.15 1040.73L603.45 1040.64L600.70 1040.54L599.43 1040.45L598.13 1040.26L596.87 1039.97L595.64 1039.58L594.46 1039.11L593.32 1038.55L592.22 1037.91L591.18 1037.20L590.19 1036.43L589.24 1035.59L588.35 1034.70L587.51 1033.75L586.72 1032.75L585.98 1031.70L585.29 1030.62L584.64 1029.48L584.05 1028.31L583.51 1027.11L583.02 1025.87L582.58 1024.59L582.19 1023.29L581.86 1021.95L581.58 1020.59L581.35 1019.21L581.18 1017.80L581.06 1016.38L581.00 1014.93L580.99 1013.47L581.05 1012.06L587.45 1011.94L587.56 1013.22L587.71 1014.41L587.90 1015.57L588.14 1016.71L588.41 1017.81L588.72 1018.88L589.06 1019.91L589.44 1020.91L589.85 1021.86L590.28 1022.78L590.75 1023.66L591.23 1024.48L591.74 1025.27L592.27 1026.00L592.81 1026.69L593.37 1027.32L593.94 1027.90L594.52 1028.43L595.10 1028.91L595.68 1029.33L596.26 1029.70L596.84 1030.01L597.41 1030.27L597.98 1030.49L598.54 1030.65L599.10 1030.77L599.65 1030.84L600.20 1030.87L600.80 1030.86L603.45 1030.76L606.15 1030.67L608.85 1030.59L611.55 1030.52L614.25 1030.46L616.95 1030.41L619.65 1030.40L622.35 1030.42L625.10 1030.47L626.56 1030.55L628.04 1030.72L629.50 1030.99L630.92 1031.34L632.31 1031.77L633.65 1032.29L634.96 1032.89L636.22 1033.56L637.42 1034.30L638.58 1035.10L639.69 1035.97L640.74 1036.90L641.73 1037.89L642.67 1038.92L643.54 1040.01L644.36 1041.14L645.11 1042.32L645.79 1043.53L646.42 1044.78L646.97 1046.06L647.46 1047.37L647.88 1048.71L648.23 1050.08L648.51 1051.46L648.71 1052.86L648.85 1054.28L648.91 1055.71L648.89 1057.15L648.80 1058.53Z" fill="#ec1c24"/>
<text x="391.3" y="1083.9" font-size="21" font-style="italic" text-anchor="middle" fill="#111111">y</text>
<text x="413.2" y="1315.6" font-size="21" font-style="italic" text-anchor="middle" fill="#111111">y-1</text>
<text x="289.7" y="1361.6" font-size="21" font-style="italic" text-anchor="middle" fill="#111111">x</text>
<text x="312.2" y="1399.0" font-size="21" font-style="italic" text-anchor="middle" fill="#111111">x-1</text>
<text x="434.5" y="1385.8" font-size="21" font-style="italic" text-anchor="middle" fill="#111111">y-2</text>
<text x="446.0" y="1457.6" font-size="21" font-style="italic" text-anchor="middle" fill="#111111">y-3</text>
<text x="469.7" y="1520.3" font-size="21" font-style="italic" text-anchor="middle" fill="#111111">y-4</text>
<text x="424.6" y="1551.0" font-size="21" font-style="italic" text-anchor="middle" fill="#111111">y-2</text>
<text x="326.9" y="1594.9" font-size="21" font-style="italic" text-anchor="middle" fill="#111111">x-2</text>
<text x="308.3" y="1654.1" font-size="21" font-style="italic" text-anchor="middle" fill="#111111">x-1</text>
<text x="350.7" y="1643.2" font-size="21" font-style="italic" text-anchor="middle" fill="#111111">x-3</text>
<text x="409.9" y="1644.0" font-size="21" font-style="italic" text-anchor="middle" fill="#111111">y-1</text>
<text x="390.2" y="1668.2" font-size="21" font-style="italic" text-anchor="middle" fill="#111111">y</text>
<text x="291.5" y="1710.7" font-size="21" font-style="italic" text-anchor="middle" fill="#111111">x</text>
<text x="572.9" y="1633.0" font-size="21" font-style="italic" text-anchor="middle" fill="#111111">z-2</text>
<text x="589.4" y="1658.0" font-size="21" font-style="italic" text-anchor="middle" fill="#111111">z-3</text>
<text x="544.8" y="1682.7" font-size="21" font-style="italic" text-anchor="middle" fill="#111111">z-1</text>
<text x="531.0" y="1707.7" font-size="21" font-style="italic" text-anchor="middle" fill="#111111">z</text>
<g transform="translate(385.9,874.9) rotate(-45)" font-size="29" fill="#111111"><text x="0" y="0" text-anchor="middle"><tspan fill="#00893e">0</tspan><tspan fill="#7a1c7d">1</tspan><tspan fill="#00893e">0</tspan><tspan fill="#7a1c7d">1</tspan><tspan fill="#00893e">0</tspan><tspan fill="#111"> </tspan><tspan fill="#111" font-size="35" dx="-1.7" dy="3.6">×</tspan><tspan fill="#111" dx="-1.7" dy="-3.6"> </tspan><tspan fill="#00893e">0</tspan><tspan fill="#7a1c7d">1</tspan><tspan fill="#00893e">0</tspan><tspan fill="#7a1c7d">1</tspan><tspan fill="#00893e">0</tspan></text><text x="0" y="36" text-anchor="middle">[M<tspan font-size="20" dy="7">Im_4</tspan><tspan dy="-7"> </tspan>+ Na]<tspan font-size="20" dy="-11">+</tspan><tspan dy="11">: </tspan>3208.63</text></g>
<g transform="translate(516.6,858.0) rotate(-45)" font-size="29" fill="#111111"><text x="0" y="0" text-anchor="middle"><tspan fill="#7a1c7d">1</tspan><tspan fill="#00893e">0</tspan><tspan fill="#7a1c7d">1</tspan><tspan fill="#00893e">0</tspan><tspan fill="#7a1c7d">1</tspan><tspan fill="#111"> </tspan><tspan fill="#111" font-size="35" dx="-1.7" dy="3.6">×</tspan><tspan fill="#111" dx="-1.7" dy="-3.6"> </tspan><tspan fill="#00893e">0</tspan><tspan fill="#7a1c7d">1</tspan><tspan fill="#00893e">0</tspan><tspan fill="#7a1c7d">1</tspan><tspan fill="#00893e">0</tspan></text><text x="0" y="36" text-anchor="middle">[M<tspan font-size="20" dy="7">Im_5</tspan><tspan dy="-7"> </tspan>+ Na]<tspan font-size="20" dy="-11">+</tspan><tspan dy="11">: </tspan>3306.71</text></g>
<g transform="translate(657.3,866.6) rotate(-45)" font-size="29" fill="#111111"><text x="0" y="0" text-anchor="middle"><tspan fill="#7a1c7d">1</tspan><tspan fill="#00893e">0</tspan><tspan fill="#7a1c7d">1</tspan><tspan fill="#00893e">0</tspan><tspan fill="#7a1c7d">1</tspan><tspan fill="#111"> </tspan><tspan fill="#111" font-size="35" dx="-1.7" dy="3.6">×</tspan><tspan fill="#111" dx="-1.7" dy="-3.6"> </tspan><tspan fill="#7a1c7d">1</tspan><tspan fill="#00893e">0</tspan><tspan fill="#7a1c7d">1</tspan><tspan fill="#00893e">0</tspan><tspan fill="#7a1c7d">1</tspan></text><text x="0" y="36" text-anchor="middle">[M<tspan font-size="20" dy="7">Im_4</tspan><tspan dy="-7"> </tspan>+ Na]<tspan font-size="20" dy="-11">+</tspan><tspan dy="11">: </tspan>3440.81</text></g>
<path d="M72.6 1808.6H903.48" stroke="#231f20" stroke-width="4.8" fill="none" stroke-linecap="square"/><path d="M72.60 1808.6V1850.6M280.32 1808.6V1850.6M488.04 1808.6V1850.6M695.76 1808.6V1850.6M903.48 1808.6V1850.6M176.46 1808.6V1830.1M384.18 1808.6V1830.1M591.90 1808.6V1830.1M799.62 1808.6V1830.1" stroke="#231f20" stroke-width="4.8" fill="none" stroke-linecap="round"/><text x="72.60" y="1885.7" font-size="30" text-anchor="middle" fill="#111111">3000</text><text x="280.32" y="1885.7" font-size="30" text-anchor="middle" fill="#111111">3200</text><text x="488.04" y="1885.7" font-size="30" text-anchor="middle" fill="#111111">3400</text><text x="695.76" y="1885.7" font-size="30" text-anchor="middle" fill="#111111">3600</text><text x="903.48" y="1885.7" font-size="30" text-anchor="middle" fill="#111111">3800</text>
<text x="489.5" y="1925" font-size="30" font-style="italic" text-anchor="middle" fill="#111111">m/z</text>
<text x="3.6" y="790.8" font-size="43.5" font-weight="bold" fill="#000">b</text>
<polyline points="1120.6,1175.8 1121.1,1177.6 1121.6,1176.4 1122.1,1176.8 1122.6,1176.8 1123.1,1176.7 1123.6,1177.4 1124.1,1176.7 1124.6,1176.9 1125.1,1175.3 1125.6,1176.5 1126.1,1176.5 1126.6,1175.5 1127.1,1173.5 1127.6,1171.0 1128.1,1169.8 1128.6,1171.3 1129.1,1174.3 1129.6,1175.5 1130.1,1176.5 1130.6,1176.6 1131.1,1176.0 1131.6,1176.4 1132.1,1176.8 1132.6,1176.7 1133.1,1176.3 1133.6,1175.2 1134.1,1174.2 1134.6,1169.7 1135.1,1163.8 1135.6,1162.8 1136.1,1166.3 1136.6,1171.4 1137.1,1174.9 1137.6,1176.3 1138.1,1176.3 1138.6,1177.7 1139.1,1176.2 1139.6,1177.0 1140.1,1177.3 1140.6,1176.4 1141.1,1175.7 1141.6,1174.2 1142.1,1170.4 1142.6,1165.8 1143.1,1165.3 1143.6,1168.5 1144.1,1173.0 1144.6,1175.6 1145.1,1175.8 1145.6,1175.6 1146.1,1173.6 1146.6,1169.8 1147.1,1168.2 1147.6,1170.1 1148.1,1173.5 1148.6,1175.4 1149.1,1177.4 1149.6,1176.3 1150.1,1176.4 1150.6,1177.3 1151.1,1176.6 1151.6,1176.9 1152.1,1176.0 1152.6,1176.2 1153.1,1174.0 1153.6,1171.4 1154.1,1170.6 1154.6,1173.2 1155.1,1174.6 1155.6,1175.7 1156.1,1176.7 1156.6,1175.9 1157.1,1177.1 1157.6,1176.5 1158.1,1177.0 1158.6,1176.0 1159.1,1176.6 1159.6,1176.7 1160.1,1177.3 1160.6,1175.9 1161.1,1176.3 1161.6,1176.3 1162.1,1176.1 1162.6,1176.5 1163.1,1176.8 1163.6,1176.8 1164.1,1176.2 1164.6,1173.5 1165.1,1171.2 1165.6,1168.0 1166.1,1168.2 1166.6,1171.3 1167.1,1174.3 1167.6,1176.6 1168.1,1177.2 1168.6,1176.6 1169.1,1176.1 1169.6,1176.3 1170.1,1176.5 1170.6,1176.7 1171.1,1176.5 1171.6,1176.7 1172.1,1176.3 1172.6,1176.9 1173.1,1176.5 1173.6,1176.6 1174.1,1176.1 1174.6,1175.2 1175.1,1171.8 1175.6,1169.3 1176.1,1168.4 1176.6,1171.8 1177.1,1174.1 1177.6,1176.1 1178.1,1176.2 1178.6,1177.5 1179.1,1176.1 1179.6,1176.2 1180.1,1177.1 1180.6,1177.0 1181.1,1176.9 1181.6,1176.2 1182.1,1174.8 1182.6,1171.5 1183.1,1169.1 1183.6,1167.7 1184.1,1170.2 1184.6,1172.9 1185.1,1175.4 1185.6,1175.9 1186.1,1177.0 1186.6,1176.7 1187.1,1176.9 1187.6,1176.0 1188.1,1176.2 1188.6,1176.2 1189.1,1174.8 1189.6,1171.8 1190.1,1170.0 1190.6,1170.4 1191.1,1172.4 1191.6,1174.0 1192.1,1176.3 1192.6,1176.7 1193.1,1176.8 1193.6,1176.2 1194.1,1174.2 1194.6,1172.6 1195.1,1172.5 1195.6,1173.4 1196.1,1175.0 1196.6,1176.0 1197.1,1177.1 1197.6,1176.8 1198.1,1176.6 1198.6,1176.9 1199.1,1176.8 1199.6,1176.9 1200.1,1176.7 1200.6,1176.3 1201.1,1176.8 1201.6,1176.7 1202.1,1176.3 1202.6,1176.3 1203.1,1175.9 1203.6,1177.4 1204.1,1176.0 1204.6,1175.8 1205.1,1174.2 1205.6,1172.4 1206.1,1171.8 1206.6,1172.9 1207.1,1174.8 1207.6,1175.4 1208.1,1176.6 1208.6,1176.6 1209.1,1176.3 1209.6,1176.8 1210.1,1175.7 1210.6,1176.2 1211.1,1175.7 1211.6,1176.6 1212.1,1176.8 1212.6,1176.5 1213.1,1176.3 1213.6,1176.8 1214.1,1176.4 1214.6,1176.6 1215.1,1176.0 1215.6,1176.9 1216.1,1176.2 1216.6,1176.9 1217.1,1177.0 1217.6,1176.8 1218.1,1176.8 1218.6,1176.0 1219.1,1175.2 1219.6,1175.1 1220.1,1174.9 1220.6,1174.7 1221.1,1175.7 1221.6,1176.1 1222.1,1176.5 1222.6,1177.2 1223.1,1176.3 1223.6,1177.3 1224.1,1176.3 1224.6,1176.6 1225.1,1176.1 1225.6,1176.6 1226.1,1176.9 1226.6,1176.5 1227.1,1176.8 1227.6,1176.7 1228.1,1176.6 1228.6,1176.7 1229.1,1176.7 1229.6,1176.9 1230.1,1176.7 1230.6,1177.5 1231.1,1176.7 1231.6,1177.1 1232.1,1176.2 1232.6,1176.1 1233.1,1177.4 1233.6,1176.5 1234.1,1176.7 1234.6,1177.0 1235.1,1176.4 1235.6,1176.8 1236.1,1177.3 1236.6,1176.7 1237.1,1176.7 1237.6,1176.6 1238.1,1177.1 1238.6,1176.2 1239.1,1175.8 1239.6,1175.4 1240.1,1173.4 1240.6,1171.7 1241.1,1172.1 1241.6,1172.8 1242.1,1175.2 1242.6,1176.6 1243.1,1176.8 1243.6,1176.6 1244.1,1175.7 1244.6,1176.7 1245.1,1176.5 1245.6,1176.4 1246.1,1176.6 1246.6,1175.7 1247.1,1176.8 1247.6,1176.3 1248.1,1176.5 1248.6,1176.4 1249.1,1177.1 1249.6,1175.9 1250.1,1176.6 1250.6,1176.6 1251.1,1177.0 1251.6,1176.9 1252.1,1176.4 1252.6,1176.2 1253.1,1176.3 1253.6,1176.1 1254.1,1176.3 1254.6,1176.6 1255.1,1176.2 1255.6,1176.3 1256.1,1176.4 1256.6,1175.7 1257.1,1175.1 1257.6,1175.1 1258.1,1175.2 1258.6,1175.1 1259.1,1175.0 1259.6,1176.3 1260.1,1176.5 1260.6,1176.6 1261.1,1176.1 1261.6,1177.3 1262.1,1176.5 1262.6,1176.1 1263.1,1176.9 1263.6,1176.0 1264.1,1176.4 1264.6,1176.8 1265.1,1176.5 1265.6,1177.2 1266.1,1176.8 1266.6,1175.9 1267.1,1177.0 1267.6,1175.9 1268.1,1176.6 1268.6,1176.2 1269.1,1176.6 1269.6,1177.5 1270.1,1176.8 1270.6,1176.5 1271.1,1177.1 1271.6,1177.1 1272.1,1176.5 1272.6,1176.9 1273.1,1177.3 1273.6,1176.9 1274.1,1176.3 1274.6,1176.8 1275.1,1176.2 1275.6,1176.0 1276.1,1176.6 1276.6,1177.1 1277.1,1177.1 1277.6,1176.6 1278.1,1176.2 1278.6,1176.2 1279.1,1175.5 1279.6,1174.8 1280.1,1173.4 1280.6,1173.2 1281.1,1173.6 1281.6,1175.2 1282.1,1176.3 1282.6,1176.5 1283.1,1177.0 1283.6,1177.0 1284.1,1176.3 1284.6,1176.6 1285.1,1175.4 1285.6,1176.2 1286.1,1176.9 1286.6,1176.3 1287.1,1176.5 1287.6,1176.9 1288.1,1176.2 1288.6,1176.9 1289.1,1177.8 1289.6,1176.3 1290.1,1176.8 1290.6,1176.0 1291.1,1176.9 1291.6,1177.1 1292.1,1176.0 1292.6,1177.0 1293.1,1176.5 1293.6,1176.0 1294.1,1176.6 1294.6,1176.6 1295.1,1176.6 1295.6,1176.3 1296.1,1176.9 1296.6,1176.4 1297.1,1176.4 1297.6,1175.7 1298.1,1176.7 1298.6,1177.0 1299.1,1176.3 1299.6,1176.8 1300.1,1176.5 1300.6,1176.5 1301.1,1176.1 1301.6,1176.9 1302.1,1176.6 1302.6,1177.6 1303.1,1177.0 1303.6,1176.0 1304.1,1176.9 1304.6,1176.9 1305.1,1177.1 1305.6,1176.4 1306.1,1176.5 1306.6,1177.1 1307.1,1176.3 1307.6,1176.5 1308.1,1176.3 1308.6,1176.9 1309.1,1175.9 1309.6,1176.4 1310.1,1176.6 1310.6,1176.8 1311.1,1176.7 1311.6,1176.3 1312.1,1176.7 1312.6,1176.2 1313.1,1176.4 1313.6,1176.1 1314.1,1176.3 1314.6,1176.6 1315.1,1177.4 1315.6,1176.5 1316.1,1176.3 1316.6,1176.5 1317.1,1176.4 1317.6,1176.8 1318.1,1176.8 1318.6,1177.0 1319.1,1176.1 1319.6,1176.5 1320.1,1176.8 1320.6,1177.1 1321.1,1176.7 1321.6,1176.0 1322.1,1176.4 1322.6,1176.9 1323.1,1176.0 1323.6,1176.0 1324.1,1176.2 1324.6,1176.3 1325.1,1176.1 1325.6,1176.4 1326.1,1176.3 1326.6,1176.9 1327.1,1176.0 1327.6,1176.5 1328.1,1175.8 1328.6,1177.4 1329.1,1176.3 1329.6,1176.2 1330.1,1176.7 1330.6,1176.4 1331.1,1176.3 1331.6,1176.4 1332.1,1176.8 1332.6,1176.7 1333.1,1176.2 1333.6,1176.1 1334.1,1176.6 1334.6,1176.6 1335.1,1176.5 1335.6,1176.2 1336.1,1177.0 1336.6,1177.1 1337.1,1176.6 1337.6,1177.0 1338.1,1176.8 1338.6,1176.6 1339.1,1176.4 1339.6,1177.0 1340.1,1176.3 1340.6,1177.3 1341.1,1176.4 1341.6,1177.2 1342.1,1177.1 1342.6,1176.3 1343.1,1176.8 1343.6,1176.9 1344.1,1176.8 1344.6,1176.4 1345.1,1176.6 1345.6,1176.6 1346.1,1176.2 1346.6,1176.9 1347.1,1176.8 1347.6,1176.8 1348.1,1176.1 1348.6,1176.2 1349.1,1176.1 1349.6,1176.6 1350.1,1176.7 1350.6,1176.3 1351.1,1176.8 1351.6,1176.3 1352.1,1176.3 1352.6,1176.9 1353.1,1176.6 1353.6,1176.6 1354.1,1175.9 1354.6,1175.6 1355.1,1176.6 1355.6,1176.6 1356.1,1177.5 1356.6,1176.5 1357.1,1176.6 1357.6,1177.0 1358.1,1176.3 1358.6,1177.2 1359.1,1176.7 1359.6,1176.5 1360.1,1177.1 1360.6,1176.3 1361.1,1176.2 1361.6,1177.2 1362.1,1177.2 1362.6,1176.4 1363.1,1176.6 1363.6,1177.1 1364.1,1176.7 1364.6,1176.6 1365.1,1176.7 1365.6,1176.3 1366.1,1176.4 1366.6,1175.9 1367.1,1176.1 1367.6,1176.3 1368.1,1176.2 1368.6,1176.1 1369.1,1176.3 1369.6,1177.1 1370.1,1176.3 1370.6,1176.6 1371.1,1176.0 1371.6,1176.6 1372.1,1176.4 1372.6,1176.5 1373.1,1175.9 1373.6,1176.5 1374.1,1176.7 1374.6,1176.5 1375.1,1176.8 1375.6,1176.5 1376.1,1176.6 1376.6,1176.5 1377.1,1175.8 1377.6,1176.8 1378.1,1176.6 1378.6,1176.7 1379.1,1176.3 1379.6,1177.1 1380.1,1176.9 1380.6,1176.6 1381.1,1176.4 1381.6,1176.6 1382.1,1176.8 1382.6,1176.9 1383.1,1176.4 1383.6,1176.0 1384.1,1176.5 1384.6,1176.5 1385.1,1176.4 1385.6,1177.0 1386.1,1176.7 1386.6,1176.7 1387.1,1176.5 1387.6,1176.6 1388.1,1177.1 1388.6,1176.1 1389.1,1175.9 1389.6,1176.7 1390.1,1176.4 1390.6,1176.5 1391.1,1176.3 1391.6,1177.2 1392.1,1176.0 1392.6,1176.8 1393.1,1176.1 1393.6,1176.6 1394.1,1176.8 1394.6,1176.7 1395.1,1176.2 1395.6,1176.9 1396.1,1176.8 1396.6,1176.8 1397.1,1177.3 1397.6,1176.1 1398.1,1176.4 1398.6,1176.6 1399.1,1176.1 1399.6,1177.0 1400.1,1176.6 1400.6,1175.9 1401.1,1176.2 1401.6,1177.5 1402.1,1177.9 1402.6,1177.0 1403.1,1176.2 1403.6,1176.8 1404.1,1176.7 1404.6,1176.4 1405.1,1177.0 1405.6,1176.5 1406.1,1176.3 1406.6,1176.4 1407.1,1176.4 1407.6,1176.8 1408.1,1176.4 1408.6,1176.8 1409.1,1176.1 1409.6,1175.6 1410.1,1176.9 1410.6,1177.5 1411.1,1176.8 1411.6,1176.4 1412.1,1176.2 1412.6,1176.2 1413.1,1176.9 1413.6,1176.9 1414.1,1176.1 1414.6,1177.0 1415.1,1176.2 1415.6,1176.7 1416.1,1176.3 1416.6,1176.3 1417.1,1176.3 1417.6,1176.3 1418.1,1177.0 1418.6,1176.5 1419.1,1176.6 1419.6,1176.5 1420.1,1176.1 1420.6,1176.7 1421.1,1176.9 1421.6,1176.9 1422.1,1176.7 1422.6,1176.3 1423.1,1176.9 1423.6,1176.1 1424.1,1176.5 1424.6,1176.7 1425.1,1177.1 1425.6,1176.5 1426.1,1176.3 1426.6,1177.3 1427.1,1176.1 1427.6,1175.9 1428.1,1176.5 1428.6,1176.4 1429.1,1175.6 1429.6,1176.1 1430.1,1177.0 1430.6,1176.6 1431.1,1176.7 1431.6,1176.7 1432.1,1177.5 1432.6,1176.3 1433.1,1176.9 1433.6,1176.5 1434.1,1176.7 1434.6,1176.3 1435.1,1176.7 1435.6,1176.9 1436.1,1176.4 1436.6,1176.0 1437.1,1176.7 1437.6,1176.1 1438.1,1176.5 1438.6,1176.8 1439.1,1176.0 1439.6,1176.9 1440.1,1176.2 1440.6,1176.8 1441.1,1176.4 1441.6,1177.1 1442.1,1176.9 1442.6,1176.2 1443.1,1176.5 1443.6,1176.6 1444.1,1176.8 1444.6,1176.4 1445.1,1177.2 1445.6,1177.0 1446.1,1176.7 1446.6,1176.9 1447.1,1176.9 1447.6,1176.6 1448.1,1176.7 1448.6,1176.7 1449.1,1175.9 1449.6,1176.2 1450.1,1176.1 1450.6,1176.6 1451.1,1176.8 1451.6,1177.2 1452.1,1176.7 1452.6,1177.4 1453.1,1176.8 1453.6,1176.3 1454.1,1176.0 1454.6,1176.2 1455.1,1176.9 1455.6,1176.4 1456.1,1176.9 1456.6,1176.3 1457.1,1176.6 1457.6,1176.3 1458.1,1175.6 1458.6,1176.2 1459.1,1175.7 1459.6,1176.5 1460.1,1176.7 1460.6,1176.1 1461.1,1175.9 1461.6,1176.8 1462.1,1176.6 1462.6,1177.2 1463.1,1176.7 1463.6,1176.2 1464.1,1176.6 1464.6,1176.8 1465.1,1177.2 1465.6,1176.5 1466.1,1176.3 1466.6,1176.4 1467.1,1176.5 1467.6,1177.1 1468.1,1175.9 1468.6,1176.6 1469.1,1176.7 1469.6,1176.3 1470.1,1177.5 1470.6,1176.6 1471.1,1176.7 1471.6,1176.5 1472.1,1176.1 1472.6,1176.4 1473.1,1177.3 1473.6,1176.7 1474.1,1176.5 1474.6,1176.5 1475.1,1177.1 1475.6,1177.3 1476.1,1176.4 1476.6,1176.5 1477.1,1176.6 1477.6,1177.3 1478.1,1175.9 1478.6,1177.8 1479.1,1176.7 1479.6,1175.8 1480.1,1176.7 1480.6,1176.5 1481.1,1177.1 1481.6,1176.1 1482.1,1177.1 1482.6,1176.5 1483.1,1176.5 1483.6,1177.0 1484.1,1176.2 1484.6,1177.2 1485.1,1176.9 1485.6,1176.6 1486.1,1176.8 1486.6,1176.4 1487.1,1176.2 1487.6,1176.7 1488.1,1176.8 1488.6,1176.8 1489.1,1176.7 1489.6,1176.3 1490.1,1176.7 1490.6,1176.4 1491.1,1176.6 1491.6,1176.9 1492.1,1176.3 1492.6,1177.0 1493.1,1176.6 1493.6,1176.0 1494.1,1177.0 1494.6,1176.6 1495.1,1177.2 1495.6,1176.8 1496.1,1177.2 1496.6,1176.7 1497.1,1176.8 1497.6,1176.5 1498.1,1176.0 1498.6,1176.5 1499.1,1176.3 1499.6,1176.6 1500.1,1176.7 1500.6,1176.9 1501.1,1177.3 1501.6,1176.6 1502.1,1175.9 1502.6,1176.4 1503.1,1176.8 1503.6,1175.9 1504.1,1176.8 1504.6,1176.8 1505.1,1177.1 1505.6,1177.0 1506.1,1176.7 1506.6,1175.8 1507.1,1176.7 1507.6,1177.0 1508.1,1176.8 1508.6,1176.7 1509.1,1177.3 1509.6,1176.5 1510.1,1176.3 1510.6,1176.5 1511.1,1176.4 1511.6,1177.1 1512.1,1177.3 1512.6,1176.1 1513.1,1176.2 1513.6,1177.2 1514.1,1176.5 1514.6,1176.6 1515.1,1176.4 1515.6,1176.5 1516.1,1176.8 1516.6,1176.5 1517.1,1176.5 1517.6,1176.6 1518.1,1177.3 1518.6,1177.8 1519.1,1176.9 1519.6,1177.3 1520.1,1176.5 1520.6,1176.3 1521.1,1176.5 1521.6,1176.7 1522.1,1176.6 1522.6,1176.1 1523.1,1176.9 1523.6,1176.2 1524.1,1176.3 1524.6,1176.5 1525.1,1176.0 1525.6,1176.9 1526.1,1176.2 1526.6,1177.0 1527.1,1176.9 1527.6,1177.0 1528.1,1176.4 1528.6,1177.0 1529.1,1176.6 1529.6,1177.1 1530.1,1176.2 1530.6,1175.9 1531.1,1176.5 1531.6,1175.9 1532.1,1176.4 1532.6,1175.7 1533.1,1176.6 1533.6,1177.2 1534.1,1176.0 1534.6,1176.7 1535.1,1177.0 1535.6,1176.9 1536.1,1177.3 1536.6,1176.7 1537.1,1177.0 1537.6,1176.0 1538.1,1176.3 1538.6,1177.3 1539.1,1177.2 1539.6,1176.8 1540.1,1177.4 1540.6,1176.6 1541.1,1176.6 1541.6,1176.9 1542.1,1176.8 1542.6,1176.4 1543.1,1176.0 1543.6,1176.0 1544.1,1176.6 1544.6,1176.3 1545.1,1176.9 1545.6,1176.4 1546.1,1177.0 1546.6,1176.3 1547.1,1177.1 1547.6,1177.0 1548.1,1176.6 1548.6,1176.4 1549.1,1177.2 1549.6,1176.8 1550.1,1176.5 1550.6,1176.5 1551.1,1176.9 1551.6,1176.6 1552.1,1176.7 1552.6,1176.0 1553.1,1176.4 1553.6,1177.1 1554.1,1177.5 1554.6,1176.6 1555.1,1176.1 1555.6,1176.5 1556.1,1176.2 1556.6,1176.8 1557.1,1177.1 1557.6,1176.3 1558.1,1176.6 1558.6,1176.3 1559.1,1177.2 1559.6,1176.5 1560.1,1176.9 1560.6,1176.3 1561.1,1176.8 1561.6,1176.8 1562.1,1176.8 1562.6,1176.1 1563.1,1176.6 1563.6,1176.9 1564.1,1177.0 1564.6,1177.0 1565.1,1176.0 1565.6,1177.3 1566.1,1176.9 1566.6,1176.3 1567.1,1176.1 1567.6,1176.7 1568.1,1176.3 1568.6,1176.3 1569.1,1176.2 1569.6,1176.6 1570.1,1175.9 1570.6,1176.5 1571.1,1176.0 1571.6,1177.0 1572.1,1176.2 1572.6,1177.1 1573.1,1177.2 1573.6,1176.4 1574.1,1176.9 1574.6,1176.4 1575.1,1177.0 1575.6,1175.9 1576.1,1176.6 1576.6,1177.0 1577.1,1176.5 1577.6,1176.2 1578.1,1176.9 1578.6,1176.4 1579.1,1175.8 1579.6,1176.2 1580.1,1176.6 1580.6,1176.8 1581.1,1176.3 1581.6,1177.2 1582.1,1177.8 1582.6,1176.8 1583.1,1177.0 1583.6,1175.9 1584.1,1176.5 1584.6,1177.0 1585.1,1177.0 1585.6,1176.4 1586.1,1176.9 1586.6,1176.8 1587.1,1176.6 1587.6,1176.5 1588.1,1176.5 1588.6,1176.5 1589.1,1176.1 1589.6,1175.9 1590.1,1177.2 1590.6,1175.5 1591.1,1176.5 1591.6,1176.1 1592.1,1176.9 1592.6,1176.4 1593.1,1176.5 1593.6,1176.5 1594.1,1176.2 1594.6,1176.3 1595.1,1177.0 1595.6,1176.6 1596.1,1176.3 1596.6,1176.3 1597.1,1176.7 1597.6,1176.7 1598.1,1176.6 1598.6,1177.0 1599.1,1177.1 1599.6,1175.9 1600.1,1176.7 1600.6,1176.5 1601.1,1176.9 1601.6,1176.1 1602.1,1175.9 1602.6,1176.7 1603.1,1176.4 1603.6,1176.9 1604.1,1175.9 1604.6,1176.2 1605.1,1176.9 1605.6,1176.1 1606.1,1176.4 1606.6,1176.4 1607.1,1176.4 1607.6,1176.8 1608.1,1176.8 1608.6,1176.3 1609.1,1176.6 1609.6,1177.0 1610.1,1175.8 1610.6,1176.7 1611.1,1176.8 1611.6,1176.9 1612.1,1176.3 1612.6,1176.2 1613.1,1176.5 1613.6,1176.2 1614.1,1177.2 1614.6,1176.7 1615.1,1176.8 1615.6,1176.6 1616.1,1176.4 1616.6,1177.4 1617.1,1175.3 1617.6,1176.9 1618.1,1176.4 1618.6,1176.2 1619.1,1176.2 1619.6,1176.5 1620.1,1177.7 1620.6,1177.0 1621.1,1176.3 1621.6,1176.9 1622.1,1177.0 1622.6,1177.5 1623.1,1176.1 1623.6,1176.4 1624.1,1176.9 1624.6,1176.6 1625.1,1176.6 1625.6,1177.0 1626.1,1176.7 1626.6,1176.5 1627.1,1176.4 1627.6,1176.1 1628.1,1176.6 1628.6,1176.8 1629.1,1176.4 1629.6,1176.8 1630.1,1177.1 1630.6,1176.1 1631.1,1176.7 1631.6,1176.5 1632.1,1176.3 1632.6,1177.0 1633.1,1176.3 1633.6,1176.4 1634.1,1176.6 1634.6,1176.4 1635.1,1176.8 1635.6,1177.4 1636.1,1176.5 1636.6,1176.7 1637.1,1175.8 1637.6,1175.9 1638.1,1176.0 1638.6,1175.6 1639.1,1175.0 1639.6,1175.0 1640.1,1175.2 1640.6,1175.3 1641.1,1175.7 1641.6,1175.8 1642.1,1175.7 1642.6,1176.1 1643.1,1176.1 1643.6,1176.8 1644.1,1177.1 1644.6,1177.2 1645.1,1176.7 1645.6,1176.0 1646.1,1176.1 1646.6,1177.0 1647.1,1177.2 1647.6,1176.3 1648.1,1176.4 1648.6,1177.1 1649.1,1176.2 1649.6,1176.5 1650.1,1176.1 1650.6,1176.5 1651.1,1176.2 1651.6,1176.5 1652.1,1177.0 1652.6,1176.7 1653.1,1176.9 1653.6,1176.3 1654.1,1177.0 1654.6,1177.2 1655.1,1176.3 1655.6,1176.1 1656.1,1176.0 1656.6,1176.2 1657.1,1177.2 1657.6,1176.9 1658.1,1176.8 1658.6,1176.6 1659.1,1177.5 1659.6,1176.6 1660.1,1176.5 1660.6,1177.0 1661.1,1176.5 1661.6,1176.1 1662.1,1176.6 1662.6,1176.2 1663.1,1176.2 1663.6,1176.4 1664.1,1176.4 1664.6,1176.7 1665.1,1176.1 1665.6,1176.8 1666.1,1176.9 1666.6,1176.3 1667.1,1176.9 1667.6,1176.4 1668.1,1176.2 1668.6,1176.6 1669.1,1176.6 1669.6,1176.2 1670.1,1176.3 1670.6,1177.2 1671.1,1177.1 1671.6,1176.1 1672.1,1176.4 1672.6,1177.4 1673.1,1177.1 1673.6,1176.6 1674.1,1177.0 1674.6,1176.4 1675.1,1176.6 1675.6,1176.4 1676.1,1177.1 1676.6,1176.3 1677.1,1175.8 1677.6,1176.9 1678.1,1176.1 1678.6,1176.2 1679.1,1176.3 1679.6,1176.6 1680.1,1177.1 1680.6,1176.9 1681.1,1176.3 1681.6,1176.2 1682.1,1176.1 1682.6,1176.2 1683.1,1176.2 1683.6,1176.8 1684.1,1177.1 1684.6,1176.5 1685.1,1176.4 1685.6,1176.6 1686.1,1177.2 1686.6,1176.8 1687.1,1177.2 1687.6,1176.5 1688.1,1177.0 1688.6,1176.7 1689.1,1176.5 1689.6,1176.5 1690.1,1176.0 1690.6,1177.0 1691.1,1177.5 1691.6,1176.2 1692.1,1176.0 1692.6,1176.0 1693.1,1176.5 1693.6,1176.4 1694.1,1176.5 1694.6,1177.1 1695.1,1176.7 1695.6,1176.3 1696.1,1176.6 1696.6,1175.5 1697.1,1176.7 1697.6,1176.0 1698.1,1175.2 1698.6,1175.7 1699.1,1175.7 1699.6,1175.7 1700.1,1175.4 1700.6,1174.5 1701.1,1175.1 1701.6,1175.3 1702.1,1175.9 1702.6,1175.6 1703.1,1176.1 1703.6,1176.7 1704.1,1176.6 1704.6,1176.4 1705.1,1176.1 1705.6,1176.6 1706.1,1176.4 1706.6,1175.8 1707.1,1176.9 1707.6,1177.1 1708.1,1176.2 1708.6,1176.4 1709.1,1176.6 1709.6,1176.5 1710.1,1176.7 1710.6,1176.4 1711.1,1176.7 1711.6,1176.3 1712.1,1177.1 1712.6,1176.9 1713.1,1176.5 1713.6,1176.8 1714.1,1176.3 1714.6,1176.6 1715.1,1176.8 1715.6,1176.5 1716.1,1176.8 1716.6,1177.2 1717.1,1177.0 1717.6,1176.9 1718.1,1176.8 1718.6,1176.5 1719.1,1176.2 1719.6,1176.4 1720.1,1175.9 1720.6,1176.1 1721.1,1176.7 1721.6,1175.9 1722.1,1176.1 1722.6,1176.8 1723.1,1176.5 1723.6,1176.1 1724.1,1176.5 1724.6,1176.2 1725.1,1176.4 1725.6,1176.3 1726.1,1176.7 1726.6,1176.4 1727.1,1176.7 1727.6,1176.3 1728.1,1177.3 1728.6,1176.4 1729.1,1176.1 1729.6,1176.3 1730.1,1176.6 1730.6,1176.4 1731.1,1176.9 1731.6,1176.9 1732.1,1176.7 1732.6,1176.6 1733.1,1176.2 1733.6,1176.9 1734.1,1176.2 1734.6,1177.2 1735.1,1176.9 1735.6,1176.6 1736.1,1176.1 1736.6,1176.8 1737.1,1177.4 1737.6,1176.4 1738.1,1176.6 1738.6,1177.0 1739.1,1177.0 1739.6,1176.9 1740.1,1176.5 1740.6,1176.3 1741.1,1177.2 1741.6,1175.7 1742.1,1176.6 1742.6,1176.7 1743.1,1176.3 1743.6,1176.5 1744.1,1175.6 1744.6,1176.1 1745.1,1176.7 1745.6,1176.7 1746.1,1176.8 1746.6,1176.7 1747.1,1176.3 1747.6,1176.8 1748.1,1175.9 1748.6,1176.6 1749.1,1176.6 1749.6,1176.2 1750.1,1177.4 1750.6,1177.0 1751.1,1176.3 1751.6,1176.6 1752.1,1176.6 1752.6,1176.4 1753.1,1176.8 1753.6,1176.7 1754.1,1177.1 1754.6,1177.3 1755.1,1176.1 1755.6,1177.0 1756.1,1176.9 1756.6,1176.0 1757.1,1176.1 1757.6,1176.6 1758.1,1176.2 1758.6,1175.0 1759.1,1173.6 1759.6,1170.9 1760.1,1169.7 1760.6,1169.8 1761.1,1171.2 1761.6,1173.3 1762.1,1174.5 1762.6,1175.5 1763.1,1177.1 1763.6,1176.2 1764.1,1177.0 1764.6,1177.2 1765.1,1176.3 1765.6,1176.9 1766.1,1176.7 1766.6,1176.2 1767.1,1176.8 1767.6,1176.9 1768.1,1176.5 1768.6,1176.1 1769.1,1176.4 1769.6,1177.2 1770.1,1176.8 1770.6,1176.6 1771.1,1175.8 1771.6,1176.2 1772.1,1176.2 1772.6,1176.1 1773.1,1176.7 1773.6,1176.4 1774.1,1176.4 1774.6,1177.0 1775.1,1176.6 1775.6,1176.4 1776.1,1177.0 1776.6,1176.3 1777.1,1176.3 1777.6,1176.2 1778.1,1176.9 1778.6,1176.5 1779.1,1176.0 1779.6,1176.3 1780.1,1176.9 1780.6,1176.5 1781.1,1176.0 1781.6,1176.3 1782.1,1175.3 1782.6,1171.8 1783.1,1167.1 1783.6,1158.1 1784.1,1148.6 1784.6,1143.0 1785.1,1144.6 1785.6,1154.0 1786.1,1164.3 1786.6,1171.4 1787.1,1174.7 1787.6,1175.8 1788.1,1176.8 1788.6,1176.3 1789.1,1176.6 1789.6,1175.8 1790.1,1174.4 1790.6,1171.5 1791.1,1167.7 1791.6,1163.4 1792.1,1161.4 1792.6,1163.9 1793.1,1167.4 1793.6,1171.5 1794.1,1174.1 1794.6,1176.0 1795.1,1176.5 1795.6,1176.5 1796.1,1176.9 1796.6,1176.6 1797.1,1176.2 1797.6,1175.7 1798.1,1175.1 1798.6,1173.4 1799.1,1172.8 1799.6,1171.3 1800.1,1172.6 1800.6,1173.8 1801.1,1175.7 1801.6,1176.1 1802.1,1176.3 1802.6,1176.2 1803.1,1177.1 1803.6,1176.3 1804.1,1176.7 1804.6,1176.9 1805.1,1176.4 1805.6,1176.7 1806.1,1176.7 1806.6,1176.9 1807.1,1176.5 1807.6,1176.6 1808.1,1176.7 1808.6,1177.0 1809.1,1176.8 1809.6,1176.4 1810.1,1176.1 1810.6,1176.6 1811.1,1176.0 1811.6,1176.6 1812.1,1177.0 1812.6,1176.1 1813.1,1176.2 1813.6,1174.3 1814.1,1171.5 1814.6,1168.7 1815.1,1166.1 1815.6,1164.8 1816.1,1167.9 1816.6,1171.1 1817.1,1173.7 1817.6,1175.7 1818.1,1176.4 1818.6,1176.4 1819.1,1177.6 1819.6,1176.0 1820.1,1177.0 1820.6,1176.9 1821.1,1175.6 1821.6,1173.6 1822.1,1167.4 1822.6,1150.0 1823.1,1117.3 1823.6,1065.4 1824.1,1004.9 1824.6,956.7 1825.1,943.3 1825.6,972.3 1826.1,1028.4 1826.6,1087.3 1827.1,1132.5 1827.6,1158.7 1828.1,1170.5 1828.6,1174.1 1829.1,1175.6 1829.6,1174.2 1830.1,1170.2 1830.6,1160.8 1831.1,1145.3 1831.6,1126.5 1832.1,1111.1 1832.6,1107.2 1833.1,1116.6 1833.6,1134.0 1834.1,1152.0 1834.6,1164.9 1835.1,1172.3 1835.6,1175.6 1836.1,1176.0 1836.6,1176.2 1837.1,1176.7 1837.6,1174.6 1838.1,1171.6 1838.6,1165.6 1839.1,1159.6 1839.6,1154.2 1840.1,1152.8 1840.6,1158.5 1841.1,1164.9 1841.6,1170.2 1842.1,1171.6 1842.6,1170.1 1843.1,1166.6 1843.6,1165.3 1844.1,1167.6 1844.6,1171.2 1845.1,1174.2 1845.6,1174.2 1846.1,1173.2 1846.6,1170.1 1847.1,1168.2 1847.6,1166.5 1848.1,1169.1 1848.6,1171.7 1849.1,1174.4 1849.6,1176.1 1850.1,1175.3 1850.6,1173.3 1851.1,1171.0 1851.6,1168.8 1852.1,1169.1 1852.6,1171.0 1853.1,1173.8 1853.6,1175.2 1854.1,1175.7 1854.6,1176.3 1855.1,1176.6 1855.6,1177.0 1856.1,1176.4 1856.6,1176.7 1857.1,1177.4 1857.6,1177.3 1858.1,1176.7 1858.6,1177.0 1859.1,1175.9 1859.6,1176.6 1860.1,1177.0 1860.6,1176.8 1861.1,1176.0 1861.6,1177.0 1862.1,1176.3 1862.6,1176.4 1863.1,1176.0 1863.6,1176.4 1864.1,1176.8 1864.6,1176.4 1865.1,1176.6 1865.6,1176.2 1866.1,1176.6 1866.6,1175.8 1867.1,1176.6 1867.6,1176.4 1868.1,1176.9 1868.6,1176.5 1869.1,1176.6 1869.6,1176.5 1870.1,1176.2 1870.6,1176.8 1871.1,1176.9 1871.6,1176.2 1872.1,1176.7 1872.6,1176.9 1873.1,1176.1 1873.6,1176.3 1874.1,1177.6 1874.6,1176.7 1875.1,1176.3 1875.6,1176.3 1876.1,1176.8 1876.6,1176.0 1877.1,1176.9 1877.6,1176.7 1878.1,1176.5 1878.6,1176.6 1879.1,1176.3 1879.6,1176.2 1880.1,1176.6 1880.6,1176.0 1881.1,1176.9 1881.6,1176.7 1882.1,1175.9 1882.6,1176.6 1883.1,1176.2 1883.6,1176.8 1884.1,1176.7 1884.6,1176.6 1885.1,1176.5 1885.6,1176.7 1886.1,1176.6 1886.6,1176.3 1887.1,1176.1 1887.6,1176.5 1888.1,1176.3 1888.6,1176.2 1889.1,1177.0 1889.6,1177.2 1890.1,1175.9 1890.6,1176.1 1891.1,1176.5 1891.6,1176.4 1892.1,1176.8 1892.6,1176.9 1893.1,1175.9 1893.6,1176.3 1894.1,1174.8 1894.6,1174.8 1895.1,1173.9 1895.6,1172.9 1896.1,1172.9 1896.6,1174.0 1897.1,1174.0 1897.6,1175.4 1898.1,1175.8 1898.6,1175.8 1899.1,1175.7 1899.6,1176.7 1900.1,1176.3 1900.6,1176.5 1901.1,1177.1 1901.6,1176.6 1902.1,1176.0 1902.6,1176.6 1903.1,1176.4 1903.6,1176.3 1904.1,1176.9 1904.6,1176.1 1905.1,1176.0 1905.6,1176.0 1906.1,1176.1 1906.6,1176.8 1907.1,1176.8 1907.6,1176.9 1908.1,1177.0 1908.6,1176.9 1909.1,1176.2 1909.6,1176.0 1910.1,1176.8 1910.6,1176.3 1911.1,1177.1 1911.6,1176.7 1912.1,1177.0 1912.6,1177.2 1913.1,1176.6 1913.6,1176.6 1914.1,1176.8 1914.6,1176.8 1915.1,1177.0 1915.6,1176.6 1916.1,1176.8 1916.6,1176.3 1917.1,1176.6 1917.6,1175.4 1918.1,1174.4 1918.6,1173.3 1919.1,1173.2 1919.6,1174.0 1920.1,1175.2 1920.6,1176.5 1921.1,1176.3 1921.6,1175.9 1922.1,1175.9 1922.6,1177.6 1923.1,1176.9 1923.6,1176.7 1924.1,1177.0 1924.6,1176.5 1925.1,1176.6 1925.6,1176.8 1926.1,1176.6 1926.6,1177.2 1927.1,1177.0 1927.6,1177.0 1928.1,1176.2 1928.6,1177.2 1929.1,1176.7 1929.6,1176.3 1930.1,1176.6 1930.6,1176.3 1931.1,1176.9 1931.6,1176.4 1932.1,1176.2 1932.6,1175.7 1933.1,1176.3 1933.6,1176.0 1934.1,1176.6 1934.6,1176.6 1935.1,1176.0 1935.6,1176.4 1936.1,1176.0 1936.6,1176.3 1937.1,1175.7 1937.6,1175.6 1938.1,1176.9 1938.6,1175.9 1939.1,1176.4 1939.6,1176.4 1940.1,1176.6 1940.6,1176.3 1941.1,1177.0 1941.6,1176.9 1942.1,1176.9 1942.6,1176.5 1943.1,1176.2 1943.6,1176.3 1944.1,1176.4 1944.6,1176.8 1945.1,1177.3 1945.6,1176.4" fill="none" stroke="#0c55a5" stroke-width="2.9" stroke-linejoin="round" stroke-linecap="round"/>
<polyline points="1121.0,1429.2 1121.5,1427.0 1122.0,1433.7 1122.5,1443.2 1123.0,1449.6 1123.5,1452.9 1124.0,1455.0 1124.5,1455.3 1125.0,1452.5 1125.5,1447.6 1126.0,1444.8 1126.5,1445.8 1127.0,1448.3 1127.5,1449.1 1128.0,1450.9 1128.5,1455.2 1129.0,1455.1 1129.5,1452.2 1130.0,1446.8 1130.5,1436.8 1131.0,1426.8 1131.5,1420.3 1132.0,1422.2 1132.5,1431.8 1133.0,1440.0 1133.5,1440.2 1134.0,1430.1 1134.5,1403.4 1135.0,1366.8 1135.5,1341.5 1136.0,1344.9 1136.5,1374.0 1137.0,1409.1 1137.5,1435.9 1138.0,1449.9 1138.5,1454.7 1139.0,1455.9 1139.5,1456.7 1140.0,1454.1 1140.5,1447.9 1141.0,1429.0 1141.5,1388.6 1142.0,1333.5 1142.5,1280.8 1143.0,1264.8 1143.5,1298.6 1144.0,1356.7 1144.5,1410.2 1145.0,1440.2 1145.5,1450.9 1146.0,1453.5 1146.5,1455.0 1147.0,1455.4 1147.5,1455.3 1148.0,1456.1 1148.5,1455.4 1149.0,1451.9 1149.5,1445.8 1150.0,1436.3 1150.5,1426.7 1151.0,1423.7 1151.5,1427.6 1152.0,1437.5 1152.5,1444.9 1153.0,1444.4 1153.5,1442.4 1154.0,1442.1 1154.5,1443.7 1155.0,1447.5 1155.5,1451.5 1156.0,1454.3 1156.5,1454.6 1157.0,1454.3 1157.5,1454.7 1158.0,1452.7 1158.5,1451.1 1159.0,1450.9 1159.5,1450.1 1160.0,1449.1 1160.5,1450.2 1161.0,1453.9 1161.5,1455.8 1162.0,1455.3 1162.5,1455.4 1163.0,1456.9 1163.5,1455.2 1164.0,1454.4 1164.5,1453.7 1165.0,1450.4 1165.5,1448.3 1166.0,1447.4 1166.5,1446.8 1167.0,1449.5 1167.5,1453.9 1168.0,1456.5 1168.5,1456.4 1169.0,1455.4 1169.5,1455.1 1170.0,1455.2 1170.5,1455.8 1171.0,1456.0 1171.5,1456.0 1172.0,1455.3 1172.5,1455.0 1173.0,1454.5 1173.5,1451.1 1174.0,1447.8 1174.5,1446.2 1175.0,1440.7 1175.5,1437.2 1176.0,1441.4 1176.5,1445.3 1177.0,1449.0 1177.5,1453.3 1178.0,1455.4 1178.5,1456.2 1179.0,1455.8 1179.5,1454.0 1180.0,1454.1 1180.5,1453.6 1181.0,1447.4 1181.5,1437.0 1182.0,1414.6 1182.5,1381.4 1183.0,1356.3 1183.5,1354.1 1184.0,1375.8 1184.5,1407.4 1185.0,1433.9 1185.5,1448.2 1186.0,1452.5 1186.5,1453.8 1187.0,1453.9 1187.5,1453.6 1188.0,1452.5 1188.5,1446.0 1189.0,1431.2 1189.5,1403.0 1190.0,1362.4 1190.5,1330.5 1191.0,1327.9 1191.5,1354.7 1192.0,1394.7 1192.5,1426.4 1193.0,1443.3 1193.5,1450.0 1194.0,1446.3 1194.5,1440.6 1195.0,1442.0 1195.5,1444.3 1196.0,1447.6 1196.5,1453.8 1197.0,1456.0 1197.5,1455.3 1198.0,1453.1 1198.5,1452.0 1199.0,1451.6 1199.5,1449.3 1200.0,1448.6 1200.5,1449.9 1201.0,1451.3 1201.5,1451.3 1202.0,1451.5 1202.5,1452.4 1203.0,1451.8 1203.5,1448.8 1204.0,1447.5 1204.5,1449.1 1205.0,1452.1 1205.5,1452.2 1206.0,1451.5 1206.5,1454.7 1207.0,1455.0 1207.5,1453.1 1208.0,1455.9 1208.5,1457.3 1209.0,1454.9 1209.5,1451.8 1210.0,1447.2 1210.5,1442.0 1211.0,1437.7 1211.5,1436.4 1212.0,1439.5 1212.5,1447.3 1213.0,1453.8 1213.5,1452.8 1214.0,1453.4 1214.5,1456.3 1215.0,1455.4 1215.5,1454.3 1216.0,1452.9 1216.5,1451.8 1217.0,1451.8 1217.5,1450.0 1218.0,1448.4 1218.5,1447.9 1219.0,1449.8 1219.5,1454.2 1220.0,1456.2 1220.5,1454.2 1221.0,1453.5 1221.5,1455.6 1222.0,1454.2 1222.5,1451.1 1223.0,1449.0 1223.5,1450.4 1224.0,1452.3 1224.5,1452.1 1225.0,1454.2 1225.5,1455.5 1226.0,1453.6 1226.5,1452.0 1227.0,1452.4 1227.5,1452.1 1228.0,1447.2 1228.5,1436.9 1229.0,1420.7 1229.5,1403.6 1230.0,1395.7 1230.5,1402.8 1231.0,1418.2 1231.5,1435.6 1232.0,1447.5 1232.5,1450.9 1233.0,1453.6 1233.5,1454.1 1234.0,1455.8 1234.5,1456.8 1235.0,1454.2 1235.5,1456.3 1236.0,1457.9 1236.5,1454.7 1237.0,1453.1 1237.5,1452.8 1238.0,1449.4 1238.5,1444.8 1239.0,1441.1 1239.5,1440.6 1240.0,1444.7 1240.5,1449.8 1241.0,1452.8 1241.5,1452.9 1242.0,1453.3 1242.5,1454.1 1243.0,1454.6 1243.5,1456.2 1244.0,1456.7 1244.5,1455.0 1245.0,1454.3 1245.5,1455.5 1246.0,1456.6 1246.5,1454.4 1247.0,1450.5 1247.5,1446.3 1248.0,1441.4 1248.5,1438.1 1249.0,1438.8 1249.5,1442.6 1250.0,1447.0 1250.5,1450.3 1251.0,1452.1 1251.5,1453.9 1252.0,1453.9 1252.5,1451.4 1253.0,1448.8 1253.5,1446.0 1254.0,1443.6 1254.5,1445.9 1255.0,1451.1 1255.5,1452.2 1256.0,1452.6 1256.5,1453.7 1257.0,1454.4 1257.5,1451.3 1258.0,1444.7 1258.5,1439.7 1259.0,1435.9 1259.5,1436.3 1260.0,1441.6 1260.5,1448.3 1261.0,1453.5 1261.5,1454.1 1262.0,1453.8 1262.5,1454.9 1263.0,1454.9 1263.5,1456.9 1264.0,1456.6 1264.5,1454.8 1265.0,1455.5 1265.5,1455.1 1266.0,1455.6 1266.5,1454.3 1267.0,1452.4 1267.5,1450.5 1268.0,1445.6 1268.5,1439.7 1269.0,1436.2 1269.5,1439.0 1270.0,1445.9 1270.5,1449.5 1271.0,1452.6 1271.5,1454.1 1272.0,1453.8 1272.5,1455.4 1273.0,1455.3 1273.5,1452.7 1274.0,1448.2 1274.5,1444.8 1275.0,1442.4 1275.5,1441.6 1276.0,1446.1 1276.5,1452.6 1277.0,1455.6 1277.5,1456.7 1278.0,1456.7 1278.5,1456.1 1279.0,1456.7 1279.5,1455.7 1280.0,1456.8 1280.5,1458.3 1281.0,1454.4 1281.5,1452.4 1282.0,1453.7 1282.5,1454.2 1283.0,1453.1 1283.5,1453.0 1284.0,1454.5 1284.5,1456.0 1285.0,1456.1 1285.5,1455.7 1286.0,1456.2 1286.5,1456.2 1287.0,1455.6 1287.5,1455.3 1288.0,1454.5 1288.5,1455.4 1289.0,1456.3 1289.5,1453.6 1290.0,1453.4 1290.5,1453.9 1291.0,1453.0 1291.5,1452.9 1292.0,1453.3 1292.5,1455.5 1293.0,1456.4 1293.5,1455.5 1294.0,1456.6 1294.5,1456.7 1295.0,1456.5 1295.5,1457.5 1296.0,1456.2 1296.5,1454.8 1297.0,1455.4 1297.5,1455.7 1298.0,1454.8 1298.5,1453.0 1299.0,1451.4 1299.5,1449.9 1300.0,1449.4 1300.5,1449.5 1301.0,1450.0 1301.5,1451.5 1302.0,1453.8 1302.5,1455.4 1303.0,1454.9 1303.5,1454.7 1304.0,1455.2 1304.5,1457.1 1305.0,1459.4 1305.5,1457.0 1306.0,1454.4 1306.5,1453.5 1307.0,1453.2 1307.5,1454.2 1308.0,1454.8 1308.5,1456.2 1309.0,1455.5 1309.5,1454.8 1310.0,1455.1 1310.5,1454.4 1311.0,1454.6 1311.5,1454.0 1312.0,1454.7 1312.5,1455.7 1313.0,1456.1 1313.5,1456.0 1314.0,1453.9 1314.5,1453.9 1315.0,1454.3 1315.5,1453.3 1316.0,1453.6 1316.5,1453.5 1317.0,1454.8 1317.5,1454.8 1318.0,1452.1 1318.5,1452.4 1319.0,1453.2 1319.5,1452.8 1320.0,1452.3 1320.5,1452.8 1321.0,1452.1 1321.5,1452.1 1322.0,1455.4 1322.5,1454.0 1323.0,1452.3 1323.5,1453.5 1324.0,1454.0 1324.5,1454.8 1325.0,1455.5 1325.5,1454.6 1326.0,1453.6 1326.5,1453.4 1327.0,1454.0 1327.5,1455.2 1328.0,1455.6 1328.5,1454.2 1329.0,1452.8 1329.5,1454.1 1330.0,1455.7 1330.5,1454.3 1331.0,1453.3 1331.5,1453.8 1332.0,1455.5 1332.5,1456.4 1333.0,1455.8 1333.5,1455.3 1334.0,1456.3 1334.5,1455.4 1335.0,1453.7 1335.5,1454.4 1336.0,1455.6 1336.5,1456.0 1337.0,1453.9 1337.5,1455.2 1338.0,1456.1 1338.5,1454.1 1339.0,1455.0 1339.5,1454.9 1340.0,1454.6 1340.5,1454.2 1341.0,1453.5 1341.5,1454.4 1342.0,1453.1 1342.5,1452.6 1343.0,1453.2 1343.5,1454.9 1344.0,1456.6 1344.5,1454.8 1345.0,1453.5 1345.5,1454.3 1346.0,1454.4 1346.5,1455.2 1347.0,1455.7 1347.5,1455.8 1348.0,1455.7 1348.5,1455.1 1349.0,1456.0 1349.5,1455.5 1350.0,1453.4 1350.5,1454.3 1351.0,1456.2 1351.5,1454.0 1352.0,1452.9 1352.5,1450.7 1353.0,1448.0 1353.5,1447.5 1354.0,1446.6 1354.5,1446.0 1355.0,1447.7 1355.5,1450.8 1356.0,1452.8 1356.5,1455.5 1357.0,1456.9 1357.5,1454.4 1358.0,1453.0 1358.5,1453.9 1359.0,1454.0 1359.5,1454.9 1360.0,1455.2 1360.5,1455.5 1361.0,1455.4 1361.5,1455.3 1362.0,1455.8 1362.5,1454.8 1363.0,1454.9 1363.5,1454.7 1364.0,1454.1 1364.5,1454.3 1365.0,1453.6 1365.5,1455.1 1366.0,1457.6 1366.5,1455.8 1367.0,1453.7 1367.5,1452.5 1368.0,1452.7 1368.5,1453.6 1369.0,1455.0 1369.5,1454.9 1370.0,1453.1 1370.5,1453.4 1371.0,1452.2 1371.5,1447.9 1372.0,1443.8 1372.5,1445.3 1373.0,1447.4 1373.5,1448.2 1374.0,1451.6 1374.5,1453.6 1375.0,1454.0 1375.5,1455.4 1376.0,1455.5 1376.5,1454.9 1377.0,1456.0 1377.5,1455.6 1378.0,1453.6 1378.5,1455.0 1379.0,1457.6 1379.5,1457.8 1380.0,1454.7 1380.5,1453.5 1381.0,1455.3 1381.5,1455.7 1382.0,1456.5 1382.5,1457.5 1383.0,1456.6 1383.5,1454.6 1384.0,1456.5 1384.5,1457.6 1385.0,1456.5 1385.5,1455.7 1386.0,1454.8 1386.5,1453.8 1387.0,1452.9 1387.5,1452.9 1388.0,1453.0 1388.5,1454.8 1389.0,1456.4 1389.5,1454.4 1390.0,1453.5 1390.5,1454.0 1391.0,1454.9 1391.5,1454.7 1392.0,1450.2 1392.5,1446.6 1393.0,1447.0 1393.5,1448.7 1394.0,1452.0 1394.5,1453.4 1395.0,1452.5 1395.5,1452.2 1396.0,1453.4 1396.5,1455.1 1397.0,1456.1 1397.5,1454.9 1398.0,1452.5 1398.5,1454.1 1399.0,1455.3 1399.5,1454.7 1400.0,1455.4 1400.5,1457.6 1401.0,1457.4 1401.5,1454.8 1402.0,1455.7 1402.5,1456.9 1403.0,1458.5 1403.5,1456.7 1404.0,1453.5 1404.5,1454.5 1405.0,1455.2 1405.5,1455.8 1406.0,1455.6 1406.5,1455.3 1407.0,1455.5 1407.5,1455.2 1408.0,1454.9 1408.5,1453.6 1409.0,1454.9 1409.5,1456.0 1410.0,1455.3 1410.5,1456.5 1411.0,1458.0 1411.5,1456.5 1412.0,1455.3 1412.5,1456.5 1413.0,1455.3 1413.5,1455.5 1414.0,1455.9 1414.5,1455.1 1415.0,1454.4 1415.5,1453.5 1416.0,1454.9 1416.5,1455.0 1417.0,1454.3 1417.5,1455.0 1418.0,1455.1 1418.5,1454.5 1419.0,1455.4 1419.5,1455.8 1420.0,1453.8 1420.5,1454.3 1421.0,1453.5 1421.5,1453.9 1422.0,1455.5 1422.5,1455.2 1423.0,1456.0 1423.5,1456.5 1424.0,1456.4 1424.5,1455.5 1425.0,1455.7 1425.5,1454.9 1426.0,1453.0 1426.5,1455.0 1427.0,1455.6 1427.5,1454.1 1428.0,1454.7 1428.5,1452.7 1429.0,1451.9 1429.5,1453.7 1430.0,1454.6 1430.5,1456.7 1431.0,1456.2 1431.5,1455.0 1432.0,1455.5 1432.5,1454.8 1433.0,1454.1 1433.5,1452.5 1434.0,1452.4 1434.5,1453.1 1435.0,1454.1 1435.5,1454.8 1436.0,1454.0 1436.5,1455.6 1437.0,1454.5 1437.5,1453.9 1438.0,1456.7 1438.5,1454.7 1439.0,1451.8 1439.5,1453.8 1440.0,1456.1 1440.5,1452.9 1441.0,1452.3 1441.5,1456.6 1442.0,1457.2 1442.5,1453.8 1443.0,1452.7 1443.5,1453.8 1444.0,1453.3 1444.5,1453.4 1445.0,1454.7 1445.5,1456.6 1446.0,1456.0 1446.5,1455.6 1447.0,1456.0 1447.5,1453.6 1448.0,1453.0 1448.5,1454.5 1449.0,1454.9 1449.5,1454.3 1450.0,1453.6 1450.5,1455.3 1451.0,1456.0 1451.5,1453.4 1452.0,1452.9 1452.5,1455.0 1453.0,1456.2 1453.5,1457.3 1454.0,1457.4 1454.5,1454.3 1455.0,1453.7 1455.5,1455.8 1456.0,1456.2 1456.5,1455.6 1457.0,1455.2 1457.5,1455.4 1458.0,1456.0 1458.5,1455.1 1459.0,1453.2 1459.5,1454.2 1460.0,1455.9 1460.5,1454.4 1461.0,1455.2 1461.5,1456.7 1462.0,1455.6 1462.5,1454.7 1463.0,1453.8 1463.5,1453.4 1464.0,1451.0 1464.5,1449.3 1465.0,1449.7 1465.5,1450.3 1466.0,1449.3 1466.5,1451.0 1467.0,1453.2 1467.5,1452.6 1468.0,1453.1 1468.5,1454.2 1469.0,1455.5 1469.5,1455.4 1470.0,1455.4 1470.5,1456.6 1471.0,1455.0 1471.5,1454.7 1472.0,1454.2 1472.5,1453.0 1473.0,1454.9 1473.5,1455.0 1474.0,1453.6 1474.5,1455.1 1475.0,1457.0 1475.5,1456.7 1476.0,1455.8 1476.5,1454.5 1477.0,1454.6 1477.5,1455.6 1478.0,1456.1 1478.5,1454.4 1479.0,1453.0 1479.5,1453.9 1480.0,1456.0 1480.5,1455.6 1481.0,1454.2 1481.5,1454.5 1482.0,1453.3 1482.5,1452.8 1483.0,1455.1 1483.5,1456.6 1484.0,1454.6 1484.5,1453.7 1485.0,1454.1 1485.5,1454.3 1486.0,1455.9 1486.5,1455.5 1487.0,1453.4 1487.5,1453.3 1488.0,1455.6 1488.5,1456.1 1489.0,1455.6 1489.5,1455.2 1490.0,1453.9 1490.5,1452.3 1491.0,1453.0 1491.5,1455.0 1492.0,1455.1 1492.5,1454.8 1493.0,1455.2 1493.5,1455.2 1494.0,1454.8 1494.5,1455.8 1495.0,1455.4 1495.5,1454.7 1496.0,1456.0 1496.5,1455.3 1497.0,1454.8 1497.5,1453.8 1498.0,1453.0 1498.5,1454.4 1499.0,1455.4 1499.5,1455.8 1500.0,1454.5 1500.5,1454.7 1501.0,1454.8 1501.5,1456.0 1502.0,1456.5 1502.5,1454.0 1503.0,1453.9 1503.5,1454.6 1504.0,1454.0 1504.5,1454.7 1505.0,1456.4 1505.5,1455.6 1506.0,1453.8 1506.5,1453.5 1507.0,1454.7 1507.5,1454.8 1508.0,1454.2 1508.5,1455.6 1509.0,1458.3 1509.5,1458.1 1510.0,1457.0 1510.5,1456.6 1511.0,1456.4 1511.5,1456.6 1512.0,1455.2 1512.5,1454.4 1513.0,1454.8 1513.5,1453.5 1514.0,1453.8 1514.5,1455.6 1515.0,1454.1 1515.5,1454.7 1516.0,1457.2 1516.5,1455.1 1517.0,1453.5 1517.5,1454.0 1518.0,1453.8 1518.5,1453.5 1519.0,1454.5 1519.5,1455.3 1520.0,1455.8 1520.5,1455.7 1521.0,1454.5 1521.5,1455.0 1522.0,1454.6 1522.5,1451.7 1523.0,1453.3 1523.5,1455.1 1524.0,1453.3 1524.5,1453.1 1525.0,1454.6 1525.5,1454.4 1526.0,1453.2 1526.5,1454.3 1527.0,1455.1 1527.5,1454.7 1528.0,1453.5 1528.5,1452.8 1529.0,1451.4 1529.5,1452.2 1530.0,1453.3 1530.5,1453.1 1531.0,1452.7 1531.5,1452.0 1532.0,1453.1 1532.5,1454.4 1533.0,1454.7 1533.5,1453.7 1534.0,1452.1 1534.5,1451.9 1535.0,1454.4 1535.5,1455.7 1536.0,1454.9 1536.5,1454.7 1537.0,1454.7 1537.5,1454.0 1538.0,1454.0 1538.5,1455.2 1539.0,1457.1 1539.5,1456.8 1540.0,1456.6 1540.5,1456.5 1541.0,1454.8 1541.5,1455.8 1542.0,1456.2 1542.5,1455.4 1543.0,1453.7 1543.5,1453.0 1544.0,1456.2 1544.5,1456.3 1545.0,1454.3 1545.5,1454.9 1546.0,1455.6 1546.5,1454.9 1547.0,1454.0 1547.5,1454.2 1548.0,1455.6 1548.5,1456.2 1549.0,1456.6 1549.5,1457.7 1550.0,1456.9 1550.5,1456.5 1551.0,1456.4 1551.5,1453.4 1552.0,1452.6 1552.5,1455.5 1553.0,1457.8 1553.5,1457.7 1554.0,1457.1 1554.5,1458.3 1555.0,1456.4 1555.5,1455.0 1556.0,1455.2 1556.5,1452.2 1557.0,1452.4 1557.5,1454.9 1558.0,1454.8 1558.5,1455.1 1559.0,1456.1 1559.5,1456.1 1560.0,1454.4 1560.5,1454.5 1561.0,1456.6 1561.5,1457.4 1562.0,1457.1 1562.5,1456.1 1563.0,1454.8 1563.5,1454.4 1564.0,1453.8 1564.5,1454.3 1565.0,1454.6 1565.5,1454.2 1566.0,1454.3 1566.5,1456.1 1567.0,1455.6 1567.5,1455.4 1568.0,1457.4 1568.5,1455.4 1569.0,1454.7 1569.5,1453.9 1570.0,1453.4 1570.5,1455.8 1571.0,1455.8 1571.5,1455.3 1572.0,1454.1 1572.5,1452.3 1573.0,1453.0 1573.5,1454.7 1574.0,1455.3 1574.5,1454.1 1575.0,1454.8 1575.5,1456.4 1576.0,1455.0 1576.5,1453.7 1577.0,1454.6 1577.5,1455.4 1578.0,1456.9 1578.5,1455.7 1579.0,1454.1 1579.5,1456.3 1580.0,1457.2 1580.5,1456.7 1581.0,1454.3 1581.5,1453.0 1582.0,1455.6 1582.5,1454.6 1583.0,1452.3 1583.5,1454.8 1584.0,1458.2 1584.5,1456.4 1585.0,1454.7 1585.5,1455.6 1586.0,1455.6 1586.5,1454.4 1587.0,1452.7 1587.5,1453.1 1588.0,1454.4 1588.5,1454.9 1589.0,1454.3 1589.5,1455.8 1590.0,1455.3 1590.5,1454.2 1591.0,1455.0 1591.5,1454.7 1592.0,1454.1 1592.5,1453.3 1593.0,1452.2 1593.5,1453.4 1594.0,1456.1 1594.5,1455.6 1595.0,1455.4 1595.5,1454.8 1596.0,1454.9 1596.5,1455.5 1597.0,1454.1 1597.5,1453.3 1598.0,1453.9 1598.5,1453.6 1599.0,1452.7 1599.5,1455.3 1600.0,1456.1 1600.5,1454.5 1601.0,1455.1 1601.5,1455.7 1602.0,1455.5 1602.5,1454.6 1603.0,1454.4 1603.5,1453.6 1604.0,1452.9 1604.5,1454.6 1605.0,1456.1 1605.5,1454.9 1606.0,1454.8 1606.5,1455.4 1607.0,1454.4 1607.5,1453.7 1608.0,1453.6 1608.5,1453.3 1609.0,1454.1 1609.5,1454.8 1610.0,1454.9 1610.5,1455.3 1611.0,1454.7 1611.5,1455.6 1612.0,1457.9 1612.5,1456.3 1613.0,1453.8 1613.5,1454.5 1614.0,1455.4 1614.5,1455.8 1615.0,1454.8 1615.5,1454.5 1616.0,1453.9 1616.5,1453.8 1617.0,1455.5 1617.5,1455.1 1618.0,1455.0 1618.5,1455.3 1619.0,1456.3 1619.5,1456.8 1620.0,1454.8 1620.5,1455.0 1621.0,1455.5 1621.5,1454.5 1622.0,1454.4 1622.5,1453.4 1623.0,1453.7 1623.5,1455.3 1624.0,1455.2 1624.5,1456.8 1625.0,1457.9 1625.5,1455.8 1626.0,1454.8 1626.5,1454.1 1627.0,1453.8 1627.5,1455.2 1628.0,1454.2 1628.5,1453.8 1629.0,1453.4 1629.5,1454.5 1630.0,1455.5 1630.5,1454.0 1631.0,1453.9 1631.5,1453.5 1632.0,1453.1 1632.5,1454.0 1633.0,1455.4 1633.5,1454.6 1634.0,1454.1 1634.5,1454.1 1635.0,1453.0 1635.5,1453.6 1636.0,1455.5 1636.5,1455.9 1637.0,1454.4 1637.5,1454.4 1638.0,1454.1 1638.5,1453.8 1639.0,1454.7 1639.5,1455.3 1640.0,1455.5 1640.5,1454.0 1641.0,1454.2 1641.5,1455.4 1642.0,1455.8 1642.5,1454.9 1643.0,1455.5 1643.5,1456.7 1644.0,1454.6 1644.5,1452.9 1645.0,1453.9 1645.5,1454.2 1646.0,1455.7 1646.5,1455.9 1647.0,1454.0 1647.5,1455.7 1648.0,1457.4 1648.5,1456.8 1649.0,1455.1 1649.5,1454.4 1650.0,1454.5 1650.5,1454.2 1651.0,1453.7 1651.5,1455.5 1652.0,1456.4 1652.5,1455.7 1653.0,1454.5 1653.5,1454.5 1654.0,1454.5 1654.5,1454.0 1655.0,1452.8 1655.5,1453.0 1656.0,1454.9 1656.5,1455.0 1657.0,1454.9 1657.5,1452.7 1658.0,1453.3 1658.5,1456.1 1659.0,1455.8 1659.5,1454.5 1660.0,1455.2 1660.5,1455.1 1661.0,1453.6 1661.5,1454.4 1662.0,1455.3 1662.5,1455.8 1663.0,1455.8 1663.5,1455.8 1664.0,1454.5 1664.5,1452.5 1665.0,1453.8 1665.5,1455.2 1666.0,1456.6 1666.5,1457.0 1667.0,1455.1 1667.5,1454.4 1668.0,1454.6 1668.5,1454.1 1669.0,1454.1 1669.5,1455.2 1670.0,1453.9 1670.5,1455.2 1671.0,1457.6 1671.5,1456.6 1672.0,1456.2 1672.5,1456.2 1673.0,1455.8 1673.5,1455.8 1674.0,1455.6 1674.5,1454.5 1675.0,1454.4 1675.5,1454.8 1676.0,1455.7 1676.5,1456.7 1677.0,1456.2 1677.5,1454.4 1678.0,1453.9 1678.5,1453.7 1679.0,1453.2 1679.5,1453.2 1680.0,1454.7 1680.5,1454.6 1681.0,1453.3 1681.5,1452.6 1682.0,1452.7 1682.5,1454.2 1683.0,1454.8 1683.5,1455.0 1684.0,1456.2 1684.5,1456.6 1685.0,1455.2 1685.5,1454.2 1686.0,1454.7 1686.5,1455.4 1687.0,1453.3 1687.5,1453.9 1688.0,1454.7 1688.5,1454.7 1689.0,1455.5 1689.5,1454.7 1690.0,1453.8 1690.5,1454.7 1691.0,1456.3 1691.5,1454.6 1692.0,1453.5 1692.5,1454.2 1693.0,1453.5 1693.5,1453.6 1694.0,1454.6 1694.5,1455.3 1695.0,1456.4 1695.5,1456.1 1696.0,1455.2 1696.5,1455.4 1697.0,1453.4 1697.5,1452.8 1698.0,1454.4 1698.5,1456.1 1699.0,1455.5 1699.5,1453.1 1700.0,1454.4 1700.5,1455.3 1701.0,1455.1 1701.5,1455.5 1702.0,1455.4 1702.5,1456.6 1703.0,1456.8 1703.5,1456.8 1704.0,1455.2 1704.5,1452.9 1705.0,1454.1 1705.5,1454.7 1706.0,1454.7 1706.5,1454.8 1707.0,1454.6 1707.5,1455.0 1708.0,1455.3 1708.5,1456.2 1709.0,1456.9 1709.5,1456.3 1710.0,1455.3 1710.5,1455.1 1711.0,1453.7 1711.5,1453.5 1712.0,1455.4 1712.5,1454.9 1713.0,1453.8 1713.5,1452.6 1714.0,1452.6 1714.5,1454.7 1715.0,1455.6 1715.5,1454.2 1716.0,1453.9 1716.5,1454.1 1717.0,1454.4 1717.5,1453.7 1718.0,1452.4 1718.5,1452.8 1719.0,1453.9 1719.5,1456.2 1720.0,1457.4 1720.5,1455.8 1721.0,1454.1 1721.5,1456.8 1722.0,1457.8 1722.5,1454.4 1723.0,1453.2 1723.5,1454.6 1724.0,1454.8 1724.5,1454.4 1725.0,1455.1 1725.5,1454.2 1726.0,1453.1 1726.5,1454.4 1727.0,1456.2 1727.5,1456.8 1728.0,1457.2 1728.5,1455.0 1729.0,1452.3 1729.5,1453.2 1730.0,1453.9 1730.5,1454.6 1731.0,1455.6 1731.5,1454.2 1732.0,1453.9 1732.5,1454.7 1733.0,1456.3 1733.5,1457.5 1734.0,1456.5 1734.5,1455.7 1735.0,1455.5 1735.5,1455.5 1736.0,1455.6 1736.5,1455.1 1737.0,1454.5 1737.5,1454.5 1738.0,1455.3 1738.5,1455.6 1739.0,1454.4 1739.5,1454.4 1740.0,1455.9 1740.5,1456.6 1741.0,1455.5 1741.5,1454.2 1742.0,1453.5 1742.5,1454.2 1743.0,1454.1 1743.5,1454.1 1744.0,1455.4 1744.5,1455.6 1745.0,1455.0 1745.5,1453.6 1746.0,1454.1 1746.5,1455.4 1747.0,1456.6 1747.5,1456.1 1748.0,1455.1 1748.5,1455.4 1749.0,1455.6 1749.5,1456.2 1750.0,1456.0 1750.5,1454.9 1751.0,1453.8 1751.5,1454.2 1752.0,1454.7 1752.5,1454.9 1753.0,1455.2 1753.5,1456.2 1754.0,1455.4 1754.5,1453.7 1755.0,1453.3 1755.5,1454.3 1756.0,1455.4 1756.5,1455.6 1757.0,1455.5 1757.5,1454.9 1758.0,1454.5 1758.5,1454.5 1759.0,1454.6 1759.5,1454.8 1760.0,1454.9 1760.5,1454.7 1761.0,1455.6 1761.5,1455.3 1762.0,1454.6 1762.5,1455.8 1763.0,1457.4 1763.5,1456.1 1764.0,1454.9 1764.5,1456.7 1765.0,1458.0 1765.5,1457.0 1766.0,1455.3 1766.5,1454.5 1767.0,1454.0 1767.5,1453.2 1768.0,1452.0 1768.5,1454.2 1769.0,1456.2 1769.5,1454.1 1770.0,1455.1 1770.5,1457.1 1771.0,1456.0 1771.5,1453.9 1772.0,1453.0 1772.5,1455.4 1773.0,1457.4 1773.5,1456.0 1774.0,1455.5 1774.5,1455.1 1775.0,1454.6 1775.5,1453.4 1776.0,1453.6 1776.5,1454.9 1777.0,1454.7 1777.5,1454.0 1778.0,1455.0 1778.5,1455.5 1779.0,1455.3 1779.5,1456.8 1780.0,1455.1 1780.5,1453.5 1781.0,1453.4 1781.5,1453.5 1782.0,1454.1 1782.5,1453.8 1783.0,1453.2 1783.5,1452.6 1784.0,1450.5 1784.5,1450.3 1785.0,1450.6 1785.5,1451.0 1786.0,1452.9 1786.5,1453.4 1787.0,1454.2 1787.5,1453.3 1788.0,1453.6 1788.5,1455.6 1789.0,1455.4 1789.5,1453.8 1790.0,1455.2 1790.5,1453.2 1791.0,1447.7 1791.5,1447.5 1792.0,1447.5 1792.5,1446.4 1793.0,1449.7 1793.5,1453.3 1794.0,1454.3 1794.5,1454.3 1795.0,1453.4 1795.5,1454.0 1796.0,1454.8 1796.5,1453.9 1797.0,1453.0 1797.5,1452.6 1798.0,1449.4 1798.5,1447.0 1799.0,1444.9 1799.5,1443.2 1800.0,1445.7 1800.5,1448.6 1801.0,1451.4 1801.5,1451.5 1802.0,1451.9 1802.5,1454.0 1803.0,1453.2 1803.5,1452.7 1804.0,1455.5 1804.5,1455.8 1805.0,1452.6 1805.5,1451.4 1806.0,1449.4 1806.5,1447.4 1807.0,1447.1 1807.5,1449.7 1808.0,1454.0 1808.5,1455.1 1809.0,1454.5 1809.5,1453.4 1810.0,1454.0 1810.5,1455.8 1811.0,1454.8 1811.5,1454.1 1812.0,1453.4 1812.5,1453.5 1813.0,1456.6 1813.5,1457.2 1814.0,1456.4 1814.5,1456.9 1815.0,1456.8 1815.5,1456.2 1816.0,1455.8 1816.5,1455.6 1817.0,1455.1 1817.5,1454.3 1818.0,1454.5 1818.5,1454.6 1819.0,1456.4 1819.5,1457.9 1820.0,1457.1 1820.5,1455.5 1821.0,1456.0 1821.5,1456.5 1822.0,1455.1 1822.5,1453.1 1823.0,1453.1 1823.5,1455.2 1824.0,1454.5 1824.5,1453.9 1825.0,1455.0 1825.5,1454.3 1826.0,1454.8 1826.5,1455.6 1827.0,1454.7 1827.5,1454.2 1828.0,1455.2 1828.5,1457.0 1829.0,1456.3 1829.5,1455.3 1830.0,1454.4 1830.5,1453.2 1831.0,1450.6 1831.5,1447.0 1832.0,1445.4 1832.5,1447.1 1833.0,1448.4 1833.5,1451.5 1834.0,1454.7 1834.5,1453.8 1835.0,1454.6 1835.5,1454.4 1836.0,1452.3 1836.5,1452.0 1837.0,1453.0 1837.5,1452.8 1838.0,1451.5 1838.5,1448.0 1839.0,1441.6 1839.5,1437.0 1840.0,1435.9 1840.5,1439.2 1841.0,1446.5 1841.5,1451.0 1842.0,1452.3 1842.5,1452.4 1843.0,1452.5 1843.5,1454.3 1844.0,1454.1 1844.5,1453.3 1845.0,1452.9 1845.5,1451.0 1846.0,1447.1 1846.5,1440.2 1847.0,1432.5 1847.5,1433.7 1848.0,1440.2 1848.5,1444.5 1849.0,1449.0 1849.5,1452.5 1850.0,1455.7 1850.5,1456.9 1851.0,1455.0 1851.5,1454.0 1852.0,1453.9 1852.5,1454.4 1853.0,1452.5 1853.5,1450.1 1854.0,1448.5 1854.5,1446.8 1855.0,1445.5 1855.5,1447.5 1856.0,1451.6 1856.5,1455.2 1857.0,1455.4 1857.5,1453.5 1858.0,1456.0 1858.5,1457.8 1859.0,1455.0 1859.5,1454.4 1860.0,1454.3 1860.5,1453.9 1861.0,1457.5 1861.5,1456.2 1862.0,1453.7 1862.5,1454.0 1863.0,1454.9 1863.5,1455.6 1864.0,1454.4 1864.5,1454.9 1865.0,1457.4 1865.5,1455.9 1866.0,1454.8 1866.5,1454.5 1867.0,1454.4 1867.5,1455.8 1868.0,1455.6 1868.5,1457.2 1869.0,1456.0 1869.5,1454.6 1870.0,1455.7 1870.5,1454.0 1871.0,1453.7 1871.5,1454.2 1872.0,1454.0 1872.5,1454.1 1873.0,1454.1 1873.5,1453.8 1874.0,1454.2 1874.5,1454.8 1875.0,1455.2 1875.5,1454.6 1876.0,1455.9 1876.5,1456.7 1877.0,1454.5 1877.5,1454.3 1878.0,1454.3 1878.5,1452.9 1879.0,1450.3 1879.5,1451.1 1880.0,1454.1 1880.5,1454.9 1881.0,1454.8 1881.5,1454.9 1882.0,1454.8 1882.5,1454.0 1883.0,1454.4 1883.5,1455.4 1884.0,1454.9 1884.5,1455.6 1885.0,1455.9 1885.5,1452.4 1886.0,1451.5 1886.5,1453.5 1887.0,1454.2 1887.5,1452.0 1888.0,1450.9 1888.5,1453.4 1889.0,1452.2 1889.5,1451.2 1890.0,1455.1 1890.5,1456.7 1891.0,1454.5 1891.5,1453.5 1892.0,1455.2 1892.5,1454.2 1893.0,1451.3 1893.5,1452.8 1894.0,1454.4 1894.5,1453.3 1895.0,1450.6 1895.5,1449.1 1896.0,1450.9 1896.5,1453.8 1897.0,1454.9 1897.5,1454.4 1898.0,1455.5 1898.5,1457.5 1899.0,1456.5 1899.5,1453.9 1900.0,1453.4 1900.5,1453.7 1901.0,1453.6 1901.5,1452.2 1902.0,1452.7 1902.5,1453.9 1903.0,1453.8 1903.5,1454.7 1904.0,1455.6 1904.5,1455.1 1905.0,1454.4 1905.5,1455.6 1906.0,1455.1 1906.5,1454.7 1907.0,1455.5 1907.5,1456.0 1908.0,1454.9 1908.5,1455.2 1909.0,1456.0 1909.5,1455.5 1910.0,1455.0 1910.5,1455.0 1911.0,1453.4 1911.5,1454.7 1912.0,1456.0 1912.5,1454.6 1913.0,1454.1 1913.5,1455.5 1914.0,1455.4 1914.5,1455.2 1915.0,1455.7 1915.5,1454.0 1916.0,1454.6 1916.5,1455.7 1917.0,1456.4 1917.5,1455.7 1918.0,1455.6 1918.5,1457.4 1919.0,1458.3 1919.5,1455.9 1920.0,1453.7 1920.5,1453.9 1921.0,1454.6 1921.5,1454.7 1922.0,1454.3 1922.5,1454.4 1923.0,1455.5 1923.5,1456.3 1924.0,1456.6 1924.5,1455.9 1925.0,1455.8 1925.5,1456.0 1926.0,1454.1 1926.5,1454.2 1927.0,1454.5 1927.5,1452.9 1928.0,1455.3 1928.5,1457.8 1929.0,1455.8 1929.5,1455.2 1930.0,1455.2 1930.5,1454.0 1931.0,1454.9 1931.5,1454.8 1932.0,1452.8 1932.5,1452.7 1933.0,1454.9 1933.5,1455.9 1934.0,1455.6 1934.5,1454.1 1935.0,1453.8 1935.5,1455.8 1936.0,1455.6 1936.5,1454.5 1937.0,1454.9 1937.5,1455.2 1938.0,1454.9 1938.5,1454.4 1939.0,1453.5 1939.5,1453.9 1940.0,1455.2 1940.5,1455.0 1941.0,1455.4 1941.5,1454.8 1942.0,1453.8 1942.5,1454.5 1943.0,1456.8 1943.5,1455.0 1944.0,1451.7 1944.5,1452.7 1945.0,1453.8 1945.5,1454.3" fill="none" stroke="#e8202a" stroke-width="2.4" stroke-linejoin="round" stroke-linecap="round"/>
<polyline points="1121.0,1777.6 1121.5,1777.4 1122.0,1778.1 1122.5,1777.8 1123.0,1775.5 1123.5,1776.2 1124.0,1776.2 1124.5,1774.5 1125.0,1773.5 1125.5,1772.7 1126.0,1773.3 1126.5,1772.2 1127.0,1772.3 1127.5,1773.0 1128.0,1773.0 1128.5,1774.1 1129.0,1772.8 1129.5,1767.7 1130.0,1762.9 1130.5,1760.3 1131.0,1761.3 1131.5,1766.5 1132.0,1772.0 1132.5,1773.5 1133.0,1773.5 1133.5,1775.2 1134.0,1773.0 1134.5,1771.8 1135.0,1771.1 1135.5,1772.0 1136.0,1773.8 1136.5,1775.4 1137.0,1778.4 1137.5,1778.6 1138.0,1778.5 1138.5,1777.7 1139.0,1776.5 1139.5,1776.2 1140.0,1774.4 1140.5,1767.7 1141.0,1746.1 1141.5,1698.5 1142.0,1629.5 1142.5,1567.2 1143.0,1549.6 1143.5,1589.5 1144.0,1660.1 1144.5,1720.4 1145.0,1756.5 1145.5,1773.3 1146.0,1777.0 1146.5,1776.6 1147.0,1776.7 1147.5,1777.9 1148.0,1778.0 1148.5,1776.5 1149.0,1772.0 1149.5,1766.6 1150.0,1760.2 1150.5,1755.7 1151.0,1757.2 1151.5,1762.7 1152.0,1769.6 1152.5,1768.9 1153.0,1763.6 1153.5,1760.0 1154.0,1758.1 1154.5,1760.8 1155.0,1766.4 1155.5,1771.5 1156.0,1774.8 1156.5,1776.2 1157.0,1777.7 1157.5,1778.3 1158.0,1777.0 1158.5,1774.6 1159.0,1771.4 1159.5,1771.1 1160.0,1771.4 1160.5,1771.1 1161.0,1772.3 1161.5,1775.5 1162.0,1776.8 1162.5,1775.9 1163.0,1776.5 1163.5,1774.5 1164.0,1773.9 1164.5,1774.6 1165.0,1772.9 1165.5,1772.9 1166.0,1774.5 1166.5,1774.8 1167.0,1774.3 1167.5,1775.0 1168.0,1775.5 1168.5,1776.3 1169.0,1777.9 1169.5,1776.2 1170.0,1776.0 1170.5,1776.0 1171.0,1775.4 1171.5,1776.9 1172.0,1776.9 1172.5,1776.4 1173.0,1776.6 1173.5,1775.8 1174.0,1774.6 1174.5,1775.1 1175.0,1774.9 1175.5,1773.7 1176.0,1772.8 1176.5,1772.0 1177.0,1772.4 1177.5,1776.2 1178.0,1776.5 1178.5,1777.5 1179.0,1777.6 1179.5,1777.3 1180.0,1778.5 1180.5,1776.4 1181.0,1776.4 1181.5,1777.9 1182.0,1776.9 1182.5,1777.4 1183.0,1779.5 1183.5,1777.1 1184.0,1776.6 1184.5,1777.5 1185.0,1776.2 1185.5,1776.4 1186.0,1776.7 1186.5,1775.9 1187.0,1773.0 1187.5,1762.6 1188.0,1738.1 1188.5,1695.3 1189.0,1639.5 1189.5,1597.0 1190.0,1593.7 1190.5,1631.2 1191.0,1685.7 1191.5,1730.8 1192.0,1759.0 1192.5,1773.6 1193.0,1777.8 1193.5,1776.8 1194.0,1776.3 1194.5,1776.5 1195.0,1775.5 1195.5,1773.9 1196.0,1774.3 1196.5,1773.3 1197.0,1772.2 1197.5,1773.0 1198.0,1772.8 1198.5,1773.0 1199.0,1774.3 1199.5,1776.3 1200.0,1776.3 1200.5,1773.1 1201.0,1769.3 1201.5,1765.0 1202.0,1761.6 1202.5,1763.0 1203.0,1768.4 1203.5,1773.2 1204.0,1774.4 1204.5,1775.4 1205.0,1778.0 1205.5,1778.2 1206.0,1776.6 1206.5,1777.1 1207.0,1777.3 1207.5,1778.1 1208.0,1777.0 1208.5,1774.7 1209.0,1772.8 1209.5,1762.8 1210.0,1741.4 1210.5,1714.0 1211.0,1695.8 1211.5,1699.9 1212.0,1719.7 1212.5,1746.0 1213.0,1766.5 1213.5,1773.5 1214.0,1776.2 1214.5,1776.3 1215.0,1776.8 1215.5,1777.3 1216.0,1778.2 1216.5,1778.1 1217.0,1775.9 1217.5,1776.2 1218.0,1776.5 1218.5,1776.6 1219.0,1776.1 1219.5,1775.5 1220.0,1776.5 1220.5,1775.6 1221.0,1773.9 1221.5,1772.3 1222.0,1769.7 1222.5,1768.9 1223.0,1770.2 1223.5,1772.6 1224.0,1774.8 1224.5,1777.2 1225.0,1776.6 1225.5,1775.7 1226.0,1776.1 1226.5,1775.8 1227.0,1776.6 1227.5,1775.1 1228.0,1770.7 1228.5,1762.8 1229.0,1752.0 1229.5,1746.1 1230.0,1748.2 1230.5,1757.6 1231.0,1768.5 1231.5,1773.7 1232.0,1774.5 1232.5,1775.4 1233.0,1775.6 1233.5,1777.6 1234.0,1778.3 1234.5,1777.0 1235.0,1778.6 1235.5,1778.4 1236.0,1776.8 1236.5,1777.7 1237.0,1777.4 1237.5,1774.6 1238.0,1771.4 1238.5,1769.3 1239.0,1770.4 1239.5,1773.2 1240.0,1774.8 1240.5,1775.8 1241.0,1776.9 1241.5,1777.4 1242.0,1776.6 1242.5,1775.9 1243.0,1776.4 1243.5,1777.8 1244.0,1778.3 1244.5,1776.9 1245.0,1775.8 1245.5,1775.2 1246.0,1776.1 1246.5,1775.9 1247.0,1774.1 1247.5,1774.1 1248.0,1773.1 1248.5,1773.0 1249.0,1773.0 1249.5,1773.3 1250.0,1776.1 1250.5,1776.9 1251.0,1775.9 1251.5,1773.7 1252.0,1772.0 1252.5,1770.8 1253.0,1770.4 1253.5,1771.2 1254.0,1771.8 1254.5,1773.5 1255.0,1775.6 1255.5,1775.9 1256.0,1776.1 1256.5,1774.7 1257.0,1770.5 1257.5,1761.2 1258.0,1739.1 1258.5,1713.3 1259.0,1697.0 1259.5,1699.7 1260.0,1720.8 1260.5,1745.6 1261.0,1764.4 1261.5,1772.4 1262.0,1775.5 1262.5,1778.3 1263.0,1777.1 1263.5,1775.6 1264.0,1778.2 1264.5,1779.2 1265.0,1776.7 1265.5,1776.8 1266.0,1777.8 1266.5,1777.3 1267.0,1778.4 1267.5,1778.0 1268.0,1773.7 1268.5,1769.3 1269.0,1767.6 1269.5,1768.2 1270.0,1769.1 1270.5,1771.5 1271.0,1773.9 1271.5,1776.3 1272.0,1777.3 1272.5,1776.5 1273.0,1776.1 1273.5,1777.6 1274.0,1777.2 1274.5,1775.2 1275.0,1774.2 1275.5,1773.4 1276.0,1771.3 1276.5,1770.2 1277.0,1773.1 1277.5,1774.0 1278.0,1774.3 1278.5,1775.8 1279.0,1776.4 1279.5,1776.7 1280.0,1776.1 1280.5,1775.5 1281.0,1775.1 1281.5,1773.7 1282.0,1774.4 1282.5,1775.7 1283.0,1774.8 1283.5,1776.1 1284.0,1777.9 1284.5,1777.0 1285.0,1777.9 1285.5,1777.4 1286.0,1774.9 1286.5,1776.7 1287.0,1778.5 1287.5,1776.9 1288.0,1775.2 1288.5,1777.2 1289.0,1777.8 1289.5,1776.7 1290.0,1778.6 1290.5,1778.7 1291.0,1777.7 1291.5,1777.3 1292.0,1776.9 1292.5,1777.2 1293.0,1777.3 1293.5,1777.2 1294.0,1776.7 1294.5,1775.8 1295.0,1775.5 1295.5,1776.8 1296.0,1777.9 1296.5,1777.2 1297.0,1774.6 1297.5,1772.9 1298.0,1774.2 1298.5,1775.8 1299.0,1776.9 1299.5,1776.8 1300.0,1777.4 1300.5,1777.7 1301.0,1775.9 1301.5,1776.1 1302.0,1776.5 1302.5,1777.5 1303.0,1777.9 1303.5,1776.5 1304.0,1777.5 1304.5,1776.6 1305.0,1775.9 1305.5,1777.5 1306.0,1777.8 1306.5,1776.5 1307.0,1777.3 1307.5,1778.0 1308.0,1777.6 1308.5,1777.6 1309.0,1777.2 1309.5,1777.5 1310.0,1776.5 1310.5,1776.4 1311.0,1776.5 1311.5,1776.0 1312.0,1776.1 1312.5,1776.5 1313.0,1776.8 1313.5,1776.5 1314.0,1775.6 1314.5,1774.6 1315.0,1774.2 1315.5,1776.4 1316.0,1777.5 1316.5,1776.4 1317.0,1775.7 1317.5,1775.2 1318.0,1777.3 1318.5,1777.9 1319.0,1778.1 1319.5,1778.6 1320.0,1777.7 1320.5,1777.2 1321.0,1774.4 1321.5,1773.5 1322.0,1774.8 1322.5,1774.6 1323.0,1774.3 1323.5,1776.5 1324.0,1776.7 1324.5,1776.2 1325.0,1778.3 1325.5,1777.7 1326.0,1776.4 1326.5,1774.4 1327.0,1774.2 1327.5,1776.8 1328.0,1777.6 1328.5,1777.9 1329.0,1777.2 1329.5,1775.9 1330.0,1776.6 1330.5,1776.4 1331.0,1777.4 1331.5,1778.7 1332.0,1778.1 1332.5,1778.2 1333.0,1778.7 1333.5,1777.5 1334.0,1777.0 1334.5,1777.9 1335.0,1776.2 1335.5,1774.8 1336.0,1774.8 1336.5,1777.8 1337.0,1779.0 1337.5,1777.5 1338.0,1777.8 1338.5,1778.2 1339.0,1778.1 1339.5,1777.0 1340.0,1776.9 1340.5,1778.4 1341.0,1779.3 1341.5,1778.1 1342.0,1778.2 1342.5,1777.7 1343.0,1776.5 1343.5,1776.8 1344.0,1775.4 1344.5,1774.5 1345.0,1773.7 1345.5,1774.8 1346.0,1777.6 1346.5,1775.9 1347.0,1774.9 1347.5,1778.8 1348.0,1777.7 1348.5,1776.8 1349.0,1776.5 1349.5,1774.0 1350.0,1774.9 1350.5,1776.3 1351.0,1777.7 1351.5,1776.9 1352.0,1776.6 1352.5,1776.5 1353.0,1776.4 1353.5,1778.4 1354.0,1778.8 1354.5,1777.5 1355.0,1777.3 1355.5,1777.3 1356.0,1777.6 1356.5,1776.5 1357.0,1776.1 1357.5,1777.0 1358.0,1777.9 1358.5,1777.6 1359.0,1775.1 1359.5,1775.3 1360.0,1776.7 1360.5,1777.9 1361.0,1777.2 1361.5,1776.1 1362.0,1777.5 1362.5,1778.0 1363.0,1776.5 1363.5,1777.2 1364.0,1777.1 1364.5,1776.7 1365.0,1776.1 1365.5,1776.8 1366.0,1777.6 1366.5,1776.5 1367.0,1778.3 1367.5,1779.2 1368.0,1778.4 1368.5,1776.9 1369.0,1776.5 1369.5,1777.3 1370.0,1776.9 1370.5,1774.8 1371.0,1775.1 1371.5,1775.7 1372.0,1775.6 1372.5,1778.4 1373.0,1778.9 1373.5,1778.6 1374.0,1778.2 1374.5,1778.4 1375.0,1778.8 1375.5,1776.2 1376.0,1775.3 1376.5,1776.5 1377.0,1775.3 1377.5,1776.9 1378.0,1777.8 1378.5,1776.9 1379.0,1777.4 1379.5,1777.5 1380.0,1777.4 1380.5,1775.9 1381.0,1775.1 1381.5,1775.9 1382.0,1776.2 1382.5,1777.3 1383.0,1780.2 1383.5,1778.5 1384.0,1774.6 1384.5,1775.0 1385.0,1777.1 1385.5,1777.4 1386.0,1776.0 1386.5,1776.9 1387.0,1777.8 1387.5,1776.5 1388.0,1777.3 1388.5,1776.2 1389.0,1774.7 1389.5,1775.1 1390.0,1776.5 1390.5,1777.7 1391.0,1775.6 1391.5,1775.4 1392.0,1775.7 1392.5,1777.4 1393.0,1778.5 1393.5,1778.6 1394.0,1778.9 1394.5,1777.2 1395.0,1776.9 1395.5,1778.1 1396.0,1777.7 1396.5,1776.3 1397.0,1776.6 1397.5,1776.4 1398.0,1775.5 1398.5,1775.1 1399.0,1776.3 1399.5,1776.9 1400.0,1777.1 1400.5,1777.6 1401.0,1776.2 1401.5,1776.2 1402.0,1777.4 1402.5,1777.8 1403.0,1777.1 1403.5,1775.3 1404.0,1775.0 1404.5,1776.5 1405.0,1776.5 1405.5,1775.6 1406.0,1775.1 1406.5,1776.4 1407.0,1777.0 1407.5,1776.8 1408.0,1777.7 1408.5,1776.4 1409.0,1775.6 1409.5,1776.5 1410.0,1775.9 1410.5,1775.8 1411.0,1777.6 1411.5,1777.0 1412.0,1777.0 1412.5,1778.4 1413.0,1778.0 1413.5,1777.4 1414.0,1776.4 1414.5,1776.6 1415.0,1778.7 1415.5,1778.9 1416.0,1777.2 1416.5,1776.8 1417.0,1777.2 1417.5,1778.0 1418.0,1778.3 1418.5,1776.9 1419.0,1776.1 1419.5,1777.2 1420.0,1778.2 1420.5,1778.3 1421.0,1777.0 1421.5,1776.9 1422.0,1777.8 1422.5,1777.9 1423.0,1778.3 1423.5,1777.8 1424.0,1776.4 1424.5,1776.7 1425.0,1776.5 1425.5,1776.1 1426.0,1776.5 1426.5,1774.5 1427.0,1773.3 1427.5,1775.0 1428.0,1776.7 1428.5,1777.1 1429.0,1776.6 1429.5,1777.9 1430.0,1779.0 1430.5,1777.7 1431.0,1777.7 1431.5,1778.4 1432.0,1776.8 1432.5,1777.1 1433.0,1778.5 1433.5,1777.8 1434.0,1777.8 1434.5,1778.2 1435.0,1777.2 1435.5,1776.5 1436.0,1775.7 1436.5,1776.7 1437.0,1778.0 1437.5,1777.9 1438.0,1777.8 1438.5,1775.9 1439.0,1777.0 1439.5,1777.1 1440.0,1776.9 1440.5,1778.5 1441.0,1777.6 1441.5,1776.2 1442.0,1776.3 1442.5,1776.7 1443.0,1776.8 1443.5,1777.4 1444.0,1779.1 1444.5,1779.0 1445.0,1777.8 1445.5,1777.1 1446.0,1777.2 1446.5,1776.1 1447.0,1775.0 1447.5,1776.8 1448.0,1776.8 1448.5,1776.7 1449.0,1776.2 1449.5,1776.3 1450.0,1776.2 1450.5,1776.7 1451.0,1777.7 1451.5,1777.0 1452.0,1777.7 1452.5,1777.9 1453.0,1777.2 1453.5,1777.9 1454.0,1778.6 1454.5,1777.3 1455.0,1777.2 1455.5,1776.4 1456.0,1774.5 1456.5,1776.1 1457.0,1777.1 1457.5,1776.3 1458.0,1776.0 1458.5,1776.8 1459.0,1776.8 1459.5,1776.8 1460.0,1777.5 1460.5,1776.1 1461.0,1776.1 1461.5,1777.8 1462.0,1778.2 1462.5,1777.2 1463.0,1777.3 1463.5,1778.3 1464.0,1777.6 1464.5,1777.6 1465.0,1776.1 1465.5,1775.9 1466.0,1777.0 1466.5,1777.6 1467.0,1778.4 1467.5,1776.6 1468.0,1775.9 1468.5,1776.1 1469.0,1776.9 1469.5,1777.3 1470.0,1777.0 1470.5,1778.2 1471.0,1777.2 1471.5,1776.6 1472.0,1777.7 1472.5,1776.5 1473.0,1775.8 1473.5,1774.5 1474.0,1775.0 1474.5,1775.9 1475.0,1776.0 1475.5,1777.1 1476.0,1776.1 1476.5,1775.6 1477.0,1776.9 1477.5,1777.4 1478.0,1776.9 1478.5,1775.5 1479.0,1776.3 1479.5,1777.4 1480.0,1776.3 1480.5,1776.4 1481.0,1777.3 1481.5,1776.7 1482.0,1777.1 1482.5,1776.2 1483.0,1777.5 1483.5,1780.5 1484.0,1778.4 1484.5,1776.4 1485.0,1776.1 1485.5,1777.1 1486.0,1777.6 1486.5,1777.1 1487.0,1777.7 1487.5,1778.0 1488.0,1778.0 1488.5,1776.8 1489.0,1775.7 1489.5,1777.0 1490.0,1777.6 1490.5,1777.6 1491.0,1777.6 1491.5,1777.0 1492.0,1777.0 1492.5,1777.7 1493.0,1777.1 1493.5,1776.8 1494.0,1777.1 1494.5,1776.9 1495.0,1777.1 1495.5,1778.0 1496.0,1778.0 1496.5,1776.2 1497.0,1776.7 1497.5,1778.3 1498.0,1777.9 1498.5,1777.6 1499.0,1776.2 1499.5,1776.1 1500.0,1776.3 1500.5,1775.5 1501.0,1775.8 1501.5,1775.9 1502.0,1776.2 1502.5,1776.3 1503.0,1775.6 1503.5,1777.6 1504.0,1778.3 1504.5,1775.8 1505.0,1776.6 1505.5,1777.5 1506.0,1776.3 1506.5,1777.7 1507.0,1778.1 1507.5,1777.6 1508.0,1777.7 1508.5,1776.5 1509.0,1776.5 1509.5,1777.6 1510.0,1777.8 1510.5,1777.5 1511.0,1777.2 1511.5,1777.0 1512.0,1777.9 1512.5,1776.9 1513.0,1777.2 1513.5,1778.3 1514.0,1776.5 1514.5,1775.9 1515.0,1776.0 1515.5,1777.1 1516.0,1777.6 1516.5,1777.5 1517.0,1779.1 1517.5,1777.9 1518.0,1777.3 1518.5,1777.7 1519.0,1777.7 1519.5,1777.3 1520.0,1776.1 1520.5,1777.3 1521.0,1778.6 1521.5,1779.9 1522.0,1779.4 1522.5,1777.6 1523.0,1777.8 1523.5,1777.0 1524.0,1776.5 1524.5,1777.1 1525.0,1777.5 1525.5,1778.7 1526.0,1778.1 1526.5,1776.3 1527.0,1775.4 1527.5,1775.9 1528.0,1777.9 1528.5,1778.3 1529.0,1777.2 1529.5,1777.8 1530.0,1778.2 1530.5,1777.8 1531.0,1778.2 1531.5,1778.5 1532.0,1777.6 1532.5,1776.4 1533.0,1775.6 1533.5,1776.3 1534.0,1777.2 1534.5,1778.3 1535.0,1778.1 1535.5,1775.7 1536.0,1776.6 1536.5,1777.2 1537.0,1777.0 1537.5,1777.0 1538.0,1776.0 1538.5,1777.6 1539.0,1778.8 1539.5,1778.3 1540.0,1777.8 1540.5,1776.2 1541.0,1776.0 1541.5,1776.9 1542.0,1776.8 1542.5,1777.4 1543.0,1776.7 1543.5,1775.8 1544.0,1776.0 1544.5,1776.2 1545.0,1777.9 1545.5,1777.7 1546.0,1777.1 1546.5,1778.2 1547.0,1775.6 1547.5,1774.2 1548.0,1776.6 1548.5,1776.7 1549.0,1775.5 1549.5,1776.0 1550.0,1777.1 1550.5,1776.5 1551.0,1775.6 1551.5,1775.9 1552.0,1777.8 1552.5,1778.0 1553.0,1775.1 1553.5,1776.2 1554.0,1778.2 1554.5,1777.9 1555.0,1778.0 1555.5,1777.5 1556.0,1775.5 1556.5,1775.7 1557.0,1776.0 1557.5,1776.5 1558.0,1777.3 1558.5,1776.6 1559.0,1777.4 1559.5,1777.1 1560.0,1775.7 1560.5,1775.6 1561.0,1776.2 1561.5,1776.4 1562.0,1776.5 1562.5,1776.3 1563.0,1776.0 1563.5,1776.4 1564.0,1777.5 1564.5,1777.8 1565.0,1777.7 1565.5,1776.9 1566.0,1777.2 1566.5,1777.0 1567.0,1776.2 1567.5,1775.8 1568.0,1775.8 1568.5,1776.0 1569.0,1775.8 1569.5,1776.5 1570.0,1777.0 1570.5,1776.8 1571.0,1776.5 1571.5,1777.4 1572.0,1777.8 1572.5,1778.9 1573.0,1777.6 1573.5,1775.2 1574.0,1776.4 1574.5,1778.3 1575.0,1777.4 1575.5,1775.6 1576.0,1776.1 1576.5,1777.5 1577.0,1776.5 1577.5,1775.3 1578.0,1775.5 1578.5,1774.7 1579.0,1775.5 1579.5,1776.9 1580.0,1775.3 1580.5,1774.7 1581.0,1774.4 1581.5,1777.1 1582.0,1780.2 1582.5,1777.7 1583.0,1776.2 1583.5,1777.5 1584.0,1778.6 1584.5,1778.4 1585.0,1777.2 1585.5,1777.7 1586.0,1778.3 1586.5,1777.8 1587.0,1780.0 1587.5,1779.2 1588.0,1775.4 1588.5,1775.8 1589.0,1776.7 1589.5,1776.5 1590.0,1777.2 1590.5,1778.6 1591.0,1778.6 1591.5,1778.8 1592.0,1779.2 1592.5,1777.5 1593.0,1776.9 1593.5,1777.6 1594.0,1777.9 1594.5,1778.1 1595.0,1777.4 1595.5,1777.4 1596.0,1775.9 1596.5,1774.3 1597.0,1776.5 1597.5,1775.7 1598.0,1776.4 1598.5,1776.8 1599.0,1776.6 1599.5,1777.5 1600.0,1777.4 1600.5,1778.1 1601.0,1778.1 1601.5,1777.3 1602.0,1777.1 1602.5,1775.8 1603.0,1775.5 1603.5,1779.1 1604.0,1779.7 1604.5,1777.9 1605.0,1777.1 1605.5,1776.4 1606.0,1777.7 1606.5,1778.0 1607.0,1777.6 1607.5,1777.7 1608.0,1777.3 1608.5,1776.4 1609.0,1775.4 1609.5,1775.2 1610.0,1776.6 1610.5,1778.2 1611.0,1777.5 1611.5,1777.6 1612.0,1778.1 1612.5,1777.3 1613.0,1775.1 1613.5,1775.2 1614.0,1775.7 1614.5,1777.1 1615.0,1776.7 1615.5,1773.9 1616.0,1775.3 1616.5,1777.4 1617.0,1777.1 1617.5,1778.0 1618.0,1778.2 1618.5,1778.3 1619.0,1777.3 1619.5,1776.0 1620.0,1777.8 1620.5,1779.4 1621.0,1777.7 1621.5,1775.9 1622.0,1777.5 1622.5,1776.6 1623.0,1777.3 1623.5,1777.3 1624.0,1775.2 1624.5,1776.3 1625.0,1776.4 1625.5,1774.8 1626.0,1776.3 1626.5,1778.2 1627.0,1776.9 1627.5,1775.8 1628.0,1777.0 1628.5,1780.1 1629.0,1780.7 1629.5,1777.3 1630.0,1776.5 1630.5,1778.1 1631.0,1777.5 1631.5,1778.1 1632.0,1776.7 1632.5,1776.8 1633.0,1778.7 1633.5,1776.9 1634.0,1776.2 1634.5,1777.4 1635.0,1778.2 1635.5,1776.5 1636.0,1776.1 1636.5,1776.4 1637.0,1776.4 1637.5,1776.7 1638.0,1777.5 1638.5,1778.6 1639.0,1778.2 1639.5,1778.1 1640.0,1776.8 1640.5,1775.3 1641.0,1775.5 1641.5,1777.2 1642.0,1779.2 1642.5,1777.5 1643.0,1776.4 1643.5,1776.7 1644.0,1776.1 1644.5,1777.0 1645.0,1778.8 1645.5,1778.7 1646.0,1776.1 1646.5,1775.4 1647.0,1777.7 1647.5,1776.5 1648.0,1775.2 1648.5,1775.7 1649.0,1775.9 1649.5,1776.7 1650.0,1775.8 1650.5,1775.0 1651.0,1777.3 1651.5,1778.8 1652.0,1778.4 1652.5,1776.9 1653.0,1776.9 1653.5,1777.7 1654.0,1777.6 1654.5,1777.3 1655.0,1776.0 1655.5,1776.4 1656.0,1777.4 1656.5,1775.7 1657.0,1776.9 1657.5,1778.0 1658.0,1776.6 1658.5,1776.9 1659.0,1776.3 1659.5,1774.5 1660.0,1775.3 1660.5,1777.0 1661.0,1776.5 1661.5,1777.4 1662.0,1778.2 1662.5,1777.0 1663.0,1776.6 1663.5,1777.4 1664.0,1776.7 1664.5,1777.0 1665.0,1778.4 1665.5,1778.3 1666.0,1777.5 1666.5,1776.1 1667.0,1776.4 1667.5,1776.2 1668.0,1776.4 1668.5,1777.2 1669.0,1776.7 1669.5,1776.8 1670.0,1776.9 1670.5,1777.6 1671.0,1779.4 1671.5,1779.0 1672.0,1777.7 1672.5,1777.5 1673.0,1778.0 1673.5,1778.8 1674.0,1776.4 1674.5,1774.8 1675.0,1776.1 1675.5,1776.6 1676.0,1777.4 1676.5,1777.6 1677.0,1776.2 1677.5,1775.3 1678.0,1776.6 1678.5,1777.8 1679.0,1777.8 1679.5,1777.9 1680.0,1776.8 1680.5,1775.8 1681.0,1776.2 1681.5,1777.2 1682.0,1776.5 1682.5,1776.0 1683.0,1778.9 1683.5,1777.9 1684.0,1775.8 1684.5,1777.3 1685.0,1776.4 1685.5,1777.8 1686.0,1779.3 1686.5,1777.0 1687.0,1777.0 1687.5,1776.0 1688.0,1773.9 1688.5,1775.2 1689.0,1776.6 1689.5,1775.5 1690.0,1775.2 1690.5,1777.3 1691.0,1778.0 1691.5,1777.8 1692.0,1777.2 1692.5,1776.4 1693.0,1775.7 1693.5,1775.7 1694.0,1777.4 1694.5,1778.4 1695.0,1776.7 1695.5,1774.8 1696.0,1776.6 1696.5,1778.8 1697.0,1779.3 1697.5,1777.4 1698.0,1776.5 1698.5,1775.8 1699.0,1775.9 1699.5,1777.5 1700.0,1777.4 1700.5,1776.7 1701.0,1775.1 1701.5,1776.3 1702.0,1777.1 1702.5,1775.2 1703.0,1776.0 1703.5,1777.3 1704.0,1776.4 1704.5,1776.5 1705.0,1777.6 1705.5,1777.9 1706.0,1778.1 1706.5,1777.1 1707.0,1776.4 1707.5,1776.8 1708.0,1777.0 1708.5,1777.9 1709.0,1776.3 1709.5,1776.1 1710.0,1777.4 1710.5,1777.1 1711.0,1777.6 1711.5,1778.5 1712.0,1779.1 1712.5,1778.5 1713.0,1777.7 1713.5,1776.6 1714.0,1777.6 1714.5,1778.5 1715.0,1777.4 1715.5,1777.1 1716.0,1776.9 1716.5,1776.3 1717.0,1777.1 1717.5,1777.6 1718.0,1778.7 1718.5,1778.5 1719.0,1777.2 1719.5,1777.2 1720.0,1775.9 1720.5,1775.8 1721.0,1776.9 1721.5,1777.0 1722.0,1777.3 1722.5,1776.2 1723.0,1775.9 1723.5,1776.0 1724.0,1775.5 1724.5,1777.0 1725.0,1777.4 1725.5,1775.9 1726.0,1776.4 1726.5,1777.2 1727.0,1777.1 1727.5,1777.3 1728.0,1776.5 1728.5,1777.0 1729.0,1777.9 1729.5,1777.1 1730.0,1778.9 1730.5,1779.3 1731.0,1777.2 1731.5,1776.6 1732.0,1777.2 1732.5,1778.2 1733.0,1777.0 1733.5,1776.9 1734.0,1777.2 1734.5,1776.6 1735.0,1777.5 1735.5,1777.9 1736.0,1778.0 1736.5,1776.8 1737.0,1776.1 1737.5,1778.2 1738.0,1776.9 1738.5,1774.5 1739.0,1774.9 1739.5,1776.7 1740.0,1778.1 1740.5,1777.8 1741.0,1776.3 1741.5,1775.8 1742.0,1776.7 1742.5,1776.9 1743.0,1778.2 1743.5,1777.4 1744.0,1774.5 1744.5,1775.4 1745.0,1777.9 1745.5,1778.2 1746.0,1778.0 1746.5,1778.6 1747.0,1778.5 1747.5,1777.6 1748.0,1778.4 1748.5,1777.8 1749.0,1777.0 1749.5,1778.2 1750.0,1777.8 1750.5,1775.7 1751.0,1774.7 1751.5,1775.0 1752.0,1775.2 1752.5,1775.3 1753.0,1775.6 1753.5,1775.7 1754.0,1774.7 1754.5,1775.7 1755.0,1776.6 1755.5,1777.3 1756.0,1777.5 1756.5,1775.3 1757.0,1776.1 1757.5,1775.9 1758.0,1776.3 1758.5,1776.4 1759.0,1775.9 1759.5,1776.8 1760.0,1776.9 1760.5,1776.7 1761.0,1776.5 1761.5,1776.2 1762.0,1776.0 1762.5,1776.7 1763.0,1776.9 1763.5,1776.8 1764.0,1776.9 1764.5,1777.5 1765.0,1778.2 1765.5,1778.4 1766.0,1777.6 1766.5,1777.3 1767.0,1777.0 1767.5,1778.1 1768.0,1777.5 1768.5,1774.6 1769.0,1775.2 1769.5,1778.4 1770.0,1777.8 1770.5,1776.3 1771.0,1777.1 1771.5,1777.0 1772.0,1776.8 1772.5,1777.1 1773.0,1776.6 1773.5,1776.3 1774.0,1776.9 1774.5,1776.6 1775.0,1775.4 1775.5,1774.9 1776.0,1776.7 1776.5,1777.6 1777.0,1776.3 1777.5,1776.3 1778.0,1776.8 1778.5,1776.1 1779.0,1775.7 1779.5,1776.2 1780.0,1777.7 1780.5,1779.1 1781.0,1778.3 1781.5,1777.1 1782.0,1776.0 1782.5,1776.7 1783.0,1776.2 1783.5,1775.5 1784.0,1777.1 1784.5,1776.6 1785.0,1775.1 1785.5,1775.7 1786.0,1776.8 1786.5,1776.6 1787.0,1776.0 1787.5,1776.4 1788.0,1777.0 1788.5,1776.7 1789.0,1776.8 1789.5,1776.7 1790.0,1777.1 1790.5,1778.9 1791.0,1778.8 1791.5,1777.6 1792.0,1775.7 1792.5,1774.6 1793.0,1775.8 1793.5,1777.0 1794.0,1778.2 1794.5,1778.3 1795.0,1777.1 1795.5,1776.7 1796.0,1777.8 1796.5,1777.6 1797.0,1777.3 1797.5,1777.1 1798.0,1775.1 1798.5,1774.8 1799.0,1778.2 1799.5,1778.0 1800.0,1776.5 1800.5,1777.2 1801.0,1776.5 1801.5,1776.5 1802.0,1778.1 1802.5,1777.3 1803.0,1776.7 1803.5,1778.3 1804.0,1777.1 1804.5,1775.4 1805.0,1775.2 1805.5,1776.0 1806.0,1774.3 1806.5,1772.9 1807.0,1772.7 1807.5,1772.3 1808.0,1774.9 1808.5,1777.7 1809.0,1777.5 1809.5,1777.5 1810.0,1776.2 1810.5,1775.5 1811.0,1776.7 1811.5,1776.6 1812.0,1775.6 1812.5,1775.4 1813.0,1775.9 1813.5,1776.8 1814.0,1776.8 1814.5,1776.6 1815.0,1777.6 1815.5,1777.8 1816.0,1776.4 1816.5,1776.2 1817.0,1776.9 1817.5,1776.5 1818.0,1776.4 1818.5,1777.0 1819.0,1778.4 1819.5,1778.2 1820.0,1777.1 1820.5,1777.5 1821.0,1777.6 1821.5,1776.4 1822.0,1778.0 1822.5,1777.3 1823.0,1775.0 1823.5,1775.9 1824.0,1775.8 1824.5,1777.6 1825.0,1778.4 1825.5,1776.5 1826.0,1776.2 1826.5,1776.2 1827.0,1775.1 1827.5,1774.9 1828.0,1776.8 1828.5,1778.5 1829.0,1778.8 1829.5,1778.0 1830.0,1777.0 1830.5,1776.8 1831.0,1776.7 1831.5,1777.2 1832.0,1777.7 1832.5,1776.9 1833.0,1776.8 1833.5,1777.6 1834.0,1777.8 1834.5,1776.9 1835.0,1777.0 1835.5,1777.6 1836.0,1775.8 1836.5,1775.6 1837.0,1776.9 1837.5,1775.9 1838.0,1774.8 1838.5,1775.1 1839.0,1777.4 1839.5,1776.1 1840.0,1775.8 1840.5,1778.6 1841.0,1778.5 1841.5,1776.5 1842.0,1775.9 1842.5,1778.5 1843.0,1777.0 1843.5,1776.7 1844.0,1776.7 1844.5,1777.5 1845.0,1779.1 1845.5,1777.1 1846.0,1777.4 1846.5,1777.5 1847.0,1776.2 1847.5,1776.0 1848.0,1776.3 1848.5,1776.3 1849.0,1776.7 1849.5,1777.3 1850.0,1777.5 1850.5,1776.3 1851.0,1775.4 1851.5,1777.0 1852.0,1778.2 1852.5,1776.8 1853.0,1775.7 1853.5,1775.4 1854.0,1775.7 1854.5,1773.8 1855.0,1772.3 1855.5,1771.3 1856.0,1770.9 1856.5,1773.4 1857.0,1776.4 1857.5,1778.0 1858.0,1776.5 1858.5,1776.6 1859.0,1777.8 1859.5,1776.8 1860.0,1776.2 1860.5,1776.8 1861.0,1776.9 1861.5,1777.9 1862.0,1778.3 1862.5,1777.1 1863.0,1775.8 1863.5,1775.3 1864.0,1778.4 1864.5,1777.5 1865.0,1773.7 1865.5,1774.4 1866.0,1776.0 1866.5,1775.2 1867.0,1775.7 1867.5,1777.0 1868.0,1776.8 1868.5,1779.4 1869.0,1780.0 1869.5,1776.9 1870.0,1776.0 1870.5,1777.7 1871.0,1778.4 1871.5,1777.6 1872.0,1778.0 1872.5,1776.8 1873.0,1777.0 1873.5,1777.9 1874.0,1776.7 1874.5,1777.2 1875.0,1777.8 1875.5,1777.8 1876.0,1777.8 1876.5,1777.2 1877.0,1776.6 1877.5,1776.9 1878.0,1777.6 1878.5,1778.6 1879.0,1778.8 1879.5,1778.4 1880.0,1778.9 1880.5,1778.4 1881.0,1777.4 1881.5,1777.1 1882.0,1776.3 1882.5,1776.6 1883.0,1778.1 1883.5,1779.3 1884.0,1777.9 1884.5,1775.6 1885.0,1776.0 1885.5,1777.2 1886.0,1778.1 1886.5,1778.0 1887.0,1778.5 1887.5,1777.8 1888.0,1776.8 1888.5,1776.2 1889.0,1775.9 1889.5,1777.1 1890.0,1776.7 1890.5,1776.0 1891.0,1777.3 1891.5,1779.2 1892.0,1779.2 1892.5,1777.2 1893.0,1775.8 1893.5,1775.5 1894.0,1775.9 1894.5,1776.7 1895.0,1777.0 1895.5,1775.8 1896.0,1774.9 1896.5,1775.3 1897.0,1775.4 1897.5,1777.2 1898.0,1776.8 1898.5,1777.4 1899.0,1777.6 1899.5,1776.5 1900.0,1776.8 1900.5,1777.6 1901.0,1777.9 1901.5,1777.4 1902.0,1778.2 1902.5,1776.6 1903.0,1775.5 1903.5,1776.9 1904.0,1777.8 1904.5,1777.8 1905.0,1777.2 1905.5,1776.6 1906.0,1776.7 1906.5,1778.3 1907.0,1778.3 1907.5,1776.8 1908.0,1776.3 1908.5,1776.5 1909.0,1777.2 1909.5,1777.1 1910.0,1777.4 1910.5,1775.8 1911.0,1776.0 1911.5,1778.3 1912.0,1777.5 1912.5,1776.4 1913.0,1775.8 1913.5,1775.7 1914.0,1776.2 1914.5,1776.3 1915.0,1775.7 1915.5,1775.0 1916.0,1775.4 1916.5,1777.1 1917.0,1778.5 1917.5,1777.0 1918.0,1776.1 1918.5,1777.1 1919.0,1775.8 1919.5,1774.9 1920.0,1777.3 1920.5,1778.3 1921.0,1776.5 1921.5,1775.8 1922.0,1776.3 1922.5,1775.6 1923.0,1776.8 1923.5,1777.4 1924.0,1776.8 1924.5,1776.5 1925.0,1776.1 1925.5,1778.3 1926.0,1778.0 1926.5,1778.7 1927.0,1778.1 1927.5,1775.8 1928.0,1775.8 1928.5,1775.8 1929.0,1776.6 1929.5,1775.7 1930.0,1775.2 1930.5,1777.4 1931.0,1778.5 1931.5,1776.2 1932.0,1776.7 1932.5,1778.8 1933.0,1778.6 1933.5,1778.8 1934.0,1778.0 1934.5,1777.1 1935.0,1776.4 1935.5,1776.5 1936.0,1776.0 1936.5,1776.0 1937.0,1776.5 1937.5,1775.4 1938.0,1775.8 1938.5,1776.9 1939.0,1778.2 1939.5,1778.9 1940.0,1777.5 1940.5,1776.9 1941.0,1776.9 1941.5,1777.1 1942.0,1777.6 1942.5,1777.0 1943.0,1776.4 1943.5,1776.8 1944.0,1776.8 1944.5,1777.8 1945.0,1779.3 1945.5,1778.0" fill="none" stroke="#000" stroke-width="2.5" stroke-linejoin="round" stroke-linecap="round"/>
<text x="1825.5" y="895.1" font-size="29.7" text-anchor="middle"><tspan fill="#7a1c7d">1</tspan><tspan fill="#00893e">0</tspan><tspan fill="#7a1c7d">1</tspan><tspan fill="#00893e">0</tspan><tspan fill="#7a1c7d">1</tspan><tspan fill="#111"> </tspan><tspan fill="#111" font-size="35" dx="-1.7" dy="3.6">×</tspan><tspan fill="#111" dx="-1.7" dy="-3.6"> </tspan><tspan fill="#00893e">0</tspan><tspan fill="#7a1c7d">1</tspan><tspan fill="#00893e">0</tspan><tspan fill="#7a1c7d">1</tspan><tspan fill="#00893e">0</tspan></text>
<text x="1824.8" y="930.7" font-size="29.7" text-anchor="middle" fill="#111111">[M<tspan font-size="20" dy="7">Im_5</tspan><tspan dy="-7"> + Na]</tspan><tspan font-size="20" dy="-11">+</tspan><tspan dy="11">: 3306.7</tspan></text>
<text x="1539" y="1153.4" font-size="29.7" text-anchor="middle" fill="#111111">Annealed</text>
<text x="1539.7" y="1431.6" font-size="29.7" text-anchor="middle" fill="#111111">Post-extraction</text>
<text x="1538.5" y="1755.3" font-size="29.7" text-anchor="middle" fill="#111111">Dissociated</text>
<text x="1143.2" y="1215.4" font-size="29.7" text-anchor="middle"><tspan fill="#00893e">0</tspan><tspan fill="#7a1c7d">1</tspan><tspan fill="#00893e">0</tspan><tspan fill="#7a1c7d">1</tspan><tspan fill="#00893e">0</tspan></text>
<text x="1143.2" y="1250.3" font-size="29.7" text-anchor="middle" fill="#111111">[M+Na]<tspan font-size="20" dy="-11">+</tspan><tspan dy="11">: 1651.8</tspan></text>
<text x="1316.3" y="1303.8" font-size="29.7" text-anchor="middle"><tspan fill="#7a1c7d">1</tspan><tspan fill="#00893e">0</tspan><tspan fill="#7a1c7d">1</tspan><tspan fill="#00893e">0</tspan><tspan fill="#7a1c7d">1</tspan></text>
<text x="1316.8" y="1338.6" font-size="29.7" text-anchor="middle" fill="#111111">[M+Na]<tspan font-size="20" dy="-11">+</tspan><tspan dy="11">: 1767.7</tspan></text>
<text x="1143.2" y="1498.8" font-size="29.7" text-anchor="middle"><tspan fill="#00893e">0</tspan><tspan fill="#7a1c7d">1</tspan><tspan fill="#00893e">0</tspan><tspan fill="#7a1c7d">1</tspan><tspan fill="#00893e">0</tspan></text>
<text x="1143.2" y="1533.4" font-size="29.7" text-anchor="middle" fill="#111111">[M+Na]<tspan font-size="20" dy="-11">+</tspan><tspan dy="11">: 1651.8</tspan></text>
<text x="1316.3" y="1582.4" font-size="29.7" text-anchor="middle"><tspan fill="#7a1c7d">1</tspan><tspan fill="#00893e">0</tspan><tspan fill="#7a1c7d">1</tspan><tspan fill="#00893e">0</tspan><tspan fill="#7a1c7d">1</tspan></text>
<text x="1316.8" y="1617.0" font-size="29.7" text-anchor="middle" fill="#111111">[M+Na]<tspan font-size="20" dy="-11">+</tspan><tspan dy="11">: 1767.7</tspan></text>
<path d="M1120.8 1809.0H1946.5" stroke="#231f20" stroke-width="4.8" fill="none" stroke-linecap="square"/><path d="M1120.80 1809.0V1851.0M1285.94 1809.0V1851.0M1451.08 1809.0V1851.0M1616.22 1809.0V1851.0M1781.36 1809.0V1851.0M1946.50 1809.0V1851.0M1203.37 1809.0V1830.5M1368.51 1809.0V1830.5M1533.65 1809.0V1830.5M1698.79 1809.0V1830.5M1863.93 1809.0V1830.5" stroke="#231f20" stroke-width="4.8" fill="none" stroke-linecap="round"/><text x="1120.80" y="1885.5" font-size="30" text-anchor="middle" fill="#111111">1600</text><text x="1285.94" y="1885.5" font-size="30" text-anchor="middle" fill="#111111">2000</text><text x="1451.08" y="1885.5" font-size="30" text-anchor="middle" fill="#111111">2400</text><text x="1616.22" y="1885.5" font-size="30" text-anchor="middle" fill="#111111">2800</text><text x="1781.36" y="1885.5" font-size="30" text-anchor="middle" fill="#111111">3200</text><text x="1946.50" y="1885.5" font-size="30" text-anchor="middle" fill="#111111">3600</text>
<text x="1535" y="1925" font-size="30" font-style="italic" text-anchor="middle" fill="#111111">m/z</text>
<text x="1036.5" y="791" font-size="42.5" font-weight="bold" fill="#000">c</text>
</svg>
</body></html>
